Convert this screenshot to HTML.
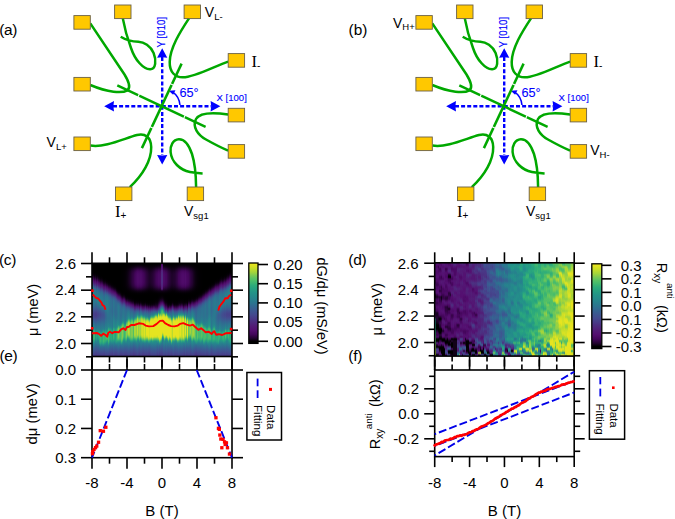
<!DOCTYPE html>
<html><head><meta charset="utf-8"><style>
html,body{margin:0;padding:0;background:#fff;width:675px;height:519px;overflow:hidden}
#w{position:relative;width:675px;height:519px}
#w i{position:absolute;display:block}
svg{position:absolute;left:0;top:0}
text{font-family:"Liberation Sans", sans-serif}
</style></head><body><div id="w">
<i style="left:92.0px;top:263.3px;width:1px;height:93.2px;background:linear-gradient(#000000 0px,#000000 2px,#000000 4px,#000000 6px,#010001 8px,#040006 10px,#100116 12px,#2b043b 14px,#4a0963 16px,#531874 18px,#4b3182 20px,#3f5390 22px,#2c748f 24px,#26858c 26px,#25898b 28px,#258a8b 30px,#25888c 32px,#26858c 34px,#27828d 36px,#287f8e 38px,#297c8e 40px,#2b778f 42px,#2f6d90 44px,#375f91 46px,#405190 48px,#45468d 50px,#46438b 52px,#44498e 54px,#3d5691 56px,#346591 58px,#2c748f 60px,#27808d 62px,#25898b 64px,#26a081 66px,#43b96e 68px,#44ba6d 70px,#44ba6d 72px,#43b96e 74px,#2eac7a 76px,#239488 78px,#248b8b 80px,#287e8e 82px,#2d7190 84px,#346491 86px,#3c5991 88px,#414f90 90px,#45458c 92px,#473f89 93px)"></i>
<i style="left:93.0px;top:263.3px;width:1px;height:93.2px;background:linear-gradient(#000000 0px,#000000 2px,#000000 4px,#000000 6px,#000001 8px,#030004 10px,#0b010f 12px,#22032f 14px,#43055a 16px,#541171 18px,#4f267c 20px,#45458c 22px,#336691 24px,#297b8e 26px,#27828d 28px,#26858c 30px,#26848d 32px,#27818d 34px,#287e8e 36px,#297b8e 38px,#2b778f 40px,#2e7190 42px,#326791 44px,#3a5a91 46px,#424d8f 48px,#46428b 50px,#473f89 52px,#45458c 54px,#405190 56px,#375f91 58px,#2f6d90 60px,#2a798f 62px,#27818d 64px,#248c8b 66px,#2dab7b 68px,#34b076 70px,#34b076 72px,#34b076 74px,#32af78 76px,#26a180 78px,#258a8b 80px,#297c8e 82px,#2f6e90 84px,#366191 86px,#3d5591 88px,#434c8f 90px,#46418a 92px,#483b87 93px)"></i>
<i style="left:94.0px;top:263.3px;width:1px;height:93.2px;background:linear-gradient(#000000 0px,#000000 2px,#000000 4px,#000000 6px,#000000 8px,#010001 10px,#050007 12px,#120219 14px,#2e043e 16px,#4b0964 18px,#521975 20px,#4b3182 22px,#3f5290 24px,#2f6e90 26px,#287d8e 28px,#27818d 30px,#27828d 32px,#27818d 34px,#287e8e 36px,#297a8f 38px,#2b768f 40px,#2e6f90 42px,#336691 44px,#3b5991 46px,#424c8f 48px,#46428b 50px,#473e89 52px,#45448c 54px,#405090 56px,#385e91 58px,#316b91 60px,#2b768f 62px,#287f8e 64px,#248b8b 66px,#32ae78 68px,#40b770 70px,#40b770 72px,#40b770 74px,#39b374 76px,#26a081 78px,#25878c 80px,#2a798f 82px,#306b91 84px,#385e91 86px,#3f5390 88px,#434a8e 90px,#473f8a 92px,#493986 93px)"></i>
<i style="left:95.0px;top:263.3px;width:1px;height:93.2px;background:linear-gradient(#000000 0px,#000000 2px,#000000 4px,#000000 6px,#000000 8px,#020002 10px,#07010a 12px,#190222 14px,#37044a 16px,#500c6b 18px,#521c76 20px,#493785 22px,#3d5591 24px,#306b91 26px,#2b768f 28px,#297a8f 30px,#297c8e 32px,#297c8e 34px,#297a8f 36px,#2b768f 38px,#2e7190 40px,#316a91 42px,#376091 44px,#3e5590 46px,#44498e 48px,#473e89 50px,#483b88 52px,#46418a 54px,#424c8f 56px,#3c5891 58px,#356491 60px,#2f6d90 62px,#2b758f 64px,#287d8e 66px,#248e8a 68px,#259c83 70px,#259c83 72px,#259b84 74px,#249189 76px,#27808d 78px,#297b8e 80px,#2f6e90 82px,#366291 84px,#3d5791 86px,#424e8f 88px,#45448c 90px,#483b87 92px,#4a3483 93px)"></i>
<i style="left:96.0px;top:263.3px;width:1px;height:93.2px;background:linear-gradient(#000000 0px,#000000 2px,#000000 4px,#000000 6px,#000000 8px,#000001 10px,#020003 12px,#0a010d 14px,#1f032b 16px,#3f0555 18px,#540f70 20px,#502279 22px,#473f89 24px,#3a5b91 26px,#2f6d90 28px,#2b768f 30px,#297a8f 32px,#297b8e 34px,#297a8f 36px,#2b778f 38px,#2d7190 40px,#316a91 42px,#376091 44px,#3e5590 46px,#44498e 48px,#473f89 50px,#483c88 52px,#46418b 54px,#424c8f 56px,#3c5891 58px,#356391 60px,#306c90 62px,#2c748f 64px,#297c8e 66px,#239587 68px,#2ba87d 70px,#2ba87c 72px,#2ba87c 74px,#26a081 76px,#248e8a 78px,#297c8e 80px,#2e6f90 82px,#366291 84px,#3d5791 86px,#424d8f 88px,#46438b 90px,#493a87 92px,#4b3383 93px)"></i>
<i style="left:97.0px;top:263.3px;width:1px;height:93.2px;background:linear-gradient(#000000 0px,#000000 2px,#000000 4px,#000000 6px,#000000 8px,#010001 10px,#040005 12px,#100116 14px,#2b033a 16px,#490862 18px,#531774 20px,#4c2d7f 22px,#424d8f 24px,#336691 26px,#2c7390 28px,#297a8f 30px,#287d8e 32px,#27808d 34px,#27808d 36px,#287e8e 38px,#2a798f 40px,#2d7290 42px,#336791 44px,#3a5a91 46px,#414f90 48px,#45458c 50px,#46428b 52px,#44478d 54px,#405190 56px,#395d91 58px,#326991 60px,#2d7290 62px,#297a8f 64px,#27818d 66px,#239289 68px,#259e82 70px,#259e82 72px,#259d83 74px,#239189 76px,#26838d 78px,#287e8e 80px,#2d7290 82px,#346591 84px,#3b5a91 86px,#405090 88px,#44478d 90px,#483d89 92px,#4a3785 93px)"></i>
<i style="left:98.0px;top:263.3px;width:1px;height:93.2px;background:linear-gradient(#000000 0px,#000000 2px,#000000 4px,#000000 6px,#000000 8px,#000000 10px,#010002 12px,#060109 14px,#17021f 16px,#350448 18px,#500c6b 20px,#521d77 22px,#493886 24px,#3d5691 26px,#306c91 28px,#2b768f 30px,#297b8e 32px,#287e8e 34px,#27808d 36px,#287f8e 38px,#297b8e 40px,#2c748f 42px,#316991 44px,#395d91 46px,#405090 48px,#44478d 50px,#45448c 52px,#44498e 54px,#3f5390 56px,#385e91 58px,#326991 60px,#2d7290 62px,#2a798f 64px,#27808d 66px,#239587 68px,#2ca97c 70px,#2ca97c 72px,#2ba87c 74px,#249b84 76px,#25868c 78px,#287f8e 80px,#2d7290 82px,#346691 84px,#3b5a91 86px,#405090 88px,#44478d 90px,#483d89 92px,#4a3785 93px)"></i>
<i style="left:99.0px;top:263.3px;width:1px;height:93.2px;background:linear-gradient(#000000 0px,#000000 2px,#000000 4px,#000000 6px,#000000 8px,#000000 10px,#010001 12px,#040005 14px,#100115 16px,#2b033a 18px,#4a0963 20px,#531874 22px,#4c2f81 24px,#414f90 26px,#326791 28px,#2c7490 30px,#297a8f 32px,#287d8e 34px,#27808d 36px,#27818d 38px,#287e8e 40px,#2a788f 42px,#2f6e90 44px,#376191 46px,#3e5490 48px,#434b8f 50px,#44488e 52px,#424d8f 54px,#3d5591 56px,#376091 58px,#316a91 60px,#2d7290 62px,#2a798f 64px,#27808d 66px,#248f89 68px,#2dab7b 70px,#30ad79 72px,#30ad79 74px,#30ad79 76px,#2dab7b 78px,#249a85 80px,#297b8e 82px,#2f6d90 84px,#376091 86px,#3e5490 88px,#434a8e 90px,#473f89 92px,#493886 93px)"></i>
<i style="left:100.0px;top:263.3px;width:1px;height:93.2px;background:linear-gradient(#000000 0px,#000000 2px,#000000 4px,#000000 6px,#000000 8px,#000000 10px,#000000 12px,#010002 14px,#07010a 16px,#1a0223 18px,#39044d 20px,#530d6e 22px,#502179 24px,#483d89 26px,#3b5991 28px,#306c91 30px,#2c7490 32px,#2a798f 34px,#297c8e 36px,#287e8e 38px,#287d8e 40px,#2a788f 42px,#2f6f90 44px,#366291 46px,#3d5591 48px,#424d8f 50px,#434a8e 52px,#424d8f 54px,#3d5591 56px,#375f91 58px,#326891 60px,#2f6f90 62px,#2c758f 64px,#297b8e 66px,#27828d 68px,#27a380 70px,#3ab473 72px,#3ab473 74px,#3ab473 76px,#3ab473 78px,#2ca97c 80px,#248d8a 82px,#2f6e90 84px,#376091 86px,#3e5490 88px,#44498e 90px,#473e89 92px,#493785 93px)"></i>
<i style="left:101.0px;top:263.3px;width:1px;height:93.2px;background:linear-gradient(#000000 0px,#000000 2px,#000000 4px,#000000 6px,#000000 8px,#000000 10px,#000000 12px,#020002 14px,#08010b 16px,#1b0225 18px,#3c0550 20px,#540e70 22px,#50237a 24px,#47408a 26px,#3a5c91 28px,#306d90 30px,#2c7490 32px,#2a788f 34px,#297c8e 36px,#287e8e 38px,#287e8e 40px,#297b8e 42px,#2c7390 44px,#336791 46px,#3b5a91 48px,#405190 50px,#414e8f 52px,#405190 54px,#3c5891 56px,#366291 58px,#316a91 60px,#2e7190 62px,#2b778f 64px,#297c8e 66px,#26838d 68px,#259f82 70px,#2eac7a 72px,#2eac7a 74px,#2eac7a 76px,#2eac7a 78px,#26a081 80px,#26848d 82px,#2f6e90 84px,#376091 86px,#3e5490 88px,#434a8e 90px,#473f89 92px,#493886 93px)"></i>
<i style="left:102.0px;top:263.3px;width:1px;height:93.2px;background:linear-gradient(#000000 0px,#000000 2px,#000000 4px,#000000 6px,#000000 8px,#000000 10px,#000000 12px,#010001 14px,#050007 16px,#14021c 18px,#320444 20px,#4f0b6a 22px,#521d77 24px,#493986 26px,#3d5691 28px,#316a91 30px,#2d7290 32px,#2b768f 34px,#2a798f 36px,#297c8e 38px,#287e8e 40px,#297c8e 42px,#2b768f 44px,#306b91 46px,#385f91 48px,#3e5591 50px,#405190 52px,#3e5490 54px,#3a5b91 56px,#356491 58px,#306c91 60px,#2d7390 62px,#2a798f 64px,#27808d 66px,#248f89 68px,#2caa7b 70px,#2eac7a 72px,#2eac7a 74px,#2eac7a 76px,#2eac7a 78px,#28a47f 80px,#258a8b 82px,#2e6f90 84px,#366191 86px,#3e5591 88px,#434a8f 90px,#473f89 92px,#493886 93px)"></i>
<i style="left:103.0px;top:263.3px;width:1px;height:93.2px;background:linear-gradient(#000000 0px,#000000 2px,#000000 4px,#000000 6px,#000000 8px,#000000 10px,#000000 12px,#000000 14px,#010002 16px,#07010a 18px,#1a0224 20px,#3a044f 22px,#540e70 24px,#50227a 26px,#47408a 28px,#3b5a91 30px,#316a91 32px,#2e7090 34px,#2c7490 36px,#2a778f 38px,#2a798f 40px,#2a798f 42px,#2c758f 44px,#306c91 46px,#366191 48px,#3c5791 50px,#3e5390 52px,#3e5591 54px,#3a5b91 56px,#356391 58px,#316a91 60px,#2d7190 62px,#2a788f 64px,#287f8e 66px,#259f82 68px,#40b76f 70px,#41b86f 72px,#41b86f 74px,#41b86f 76px,#41b86f 78px,#2dab7b 80px,#248d8a 82px,#306d90 84px,#385f91 86px,#3f5390 88px,#44488e 90px,#483d88 92px,#4a3685 93px)"></i>
<i style="left:104.0px;top:263.3px;width:1px;height:93.2px;background:linear-gradient(#000000 0px,#000000 2px,#000000 4px,#000000 6px,#000000 8px,#000000 10px,#000000 12px,#000000 14px,#010001 16px,#050008 18px,#15021d 20px,#340446 22px,#500c6b 24px,#511f77 26px,#483b87 28px,#3d5691 30px,#326791 32px,#2f6e90 34px,#2d7190 36px,#2c748f 38px,#2b778f 40px,#2a778f 42px,#2c758f 44px,#2f6e90 46px,#346591 48px,#3a5c91 50px,#3d5791 52px,#3c5891 54px,#395d91 56px,#356391 58px,#316a91 60px,#2e7090 62px,#2b768f 64px,#297c8e 66px,#248f89 68px,#31ae78 70px,#39b374 72px,#39b374 74px,#39b374 76px,#37b275 78px,#26a280 80px,#26848d 82px,#316b91 84px,#395d91 86px,#405190 88px,#44478d 90px,#483c88 92px,#4a3584 93px)"></i>
<i style="left:105.0px;top:263.3px;width:1px;height:93.2px;background:linear-gradient(#000000 0px,#000000 2px,#000000 4px,#000000 6px,#000000 8px,#000000 10px,#000000 12px,#000000 14px,#010002 16px,#060108 18px,#180220 20px,#39044c 22px,#540e70 24px,#4f257b 26px,#45448c 28px,#376091 30px,#2d7190 32px,#2a788f 34px,#297a8f 36px,#297c8e 38px,#287e8e 40px,#287f8e 42px,#287e8e 44px,#297a8f 46px,#2d7290 48px,#316a91 50px,#346591 52px,#346591 54px,#326991 56px,#2f6f90 58px,#2b758f 60px,#297b8e 62px,#27818d 64px,#25888c 66px,#259f82 68px,#3eb671 70px,#3eb670 72px,#3eb670 74px,#3eb670 76px,#32af77 78px,#249985 80px,#287f8e 82px,#2d7190 84px,#356491 86px,#3c5791 88px,#424d8f 90px,#46428b 92px,#483c88 93px)"></i>
<i style="left:106.0px;top:263.3px;width:1px;height:93.2px;background:linear-gradient(#000000 0px,#000000 2px,#000000 4px,#000000 6px,#000000 8px,#000000 10px,#000000 12px,#000000 14px,#000001 16px,#020003 18px,#0c0110 20px,#260333 22px,#470760 24px,#531874 26px,#4b3282 28px,#3f5290 30px,#316a91 32px,#2b758f 34px,#2a798f 36px,#297b8e 38px,#297c8e 40px,#287d8e 42px,#287d8e 44px,#297b8e 46px,#2b768f 48px,#2e6f90 50px,#316b91 52px,#316a91 54px,#306c90 56px,#2e7190 58px,#2b768f 60px,#297a8f 62px,#287f8e 64px,#26858c 66px,#239189 68px,#3db671 70px,#4bbd6a 72px,#4bbd6a 74px,#44ba6d 76px,#2aa77d 78px,#248c8a 80px,#287d8e 82px,#2e6f90 84px,#366291 86px,#3d5691 88px,#424c8f 90px,#46428b 92px,#483c88 93px)"></i>
<i style="left:107.0px;top:263.3px;width:1px;height:93.2px;background:linear-gradient(#000000 0px,#000000 2px,#000000 4px,#000000 6px,#000000 8px,#000000 10px,#000000 12px,#000000 14px,#000000 16px,#020002 18px,#09010c 20px,#20032d 22px,#44065c 24px,#531673 26px,#4c2f81 28px,#405090 30px,#316a91 32px,#2a778f 34px,#297b8e 36px,#287d8e 38px,#287e8e 40px,#287f8e 42px,#287f8e 44px,#287e8e 46px,#297b8e 48px,#2b778f 50px,#2c7390 52px,#2d7290 54px,#2c7390 56px,#2b778f 58px,#297b8e 60px,#287f8e 62px,#26848d 64px,#258a8b 66px,#26a280 68px,#48bc6b 70px,#4abc6a 72px,#4abc6a 74px,#3db571 76px,#259f82 78px,#248b8b 80px,#287e8e 82px,#2e7190 84px,#356491 86px,#3c5891 88px,#414e8f 90px,#45448c 92px,#473e89 93px)"></i>
<i style="left:108.0px;top:263.3px;width:1px;height:93.2px;background:linear-gradient(#000000 0px,#000000 2px,#000000 4px,#000000 6px,#000000 8px,#000000 10px,#000000 12px,#000000 14px,#000000 16px,#010001 18px,#040006 20px,#110118 22px,#300441 24px,#4f0c6a 26px,#512078 28px,#473f89 30px,#3a5c91 32px,#2f6f90 34px,#2b768f 36px,#2a788f 38px,#2a798f 40px,#297a8f 42px,#297a8f 44px,#2a798f 46px,#2a788f 48px,#2b768f 50px,#2c7490 52px,#2c7390 54px,#2c748f 56px,#2a778f 58px,#297c8e 60px,#27828d 62px,#25888c 64px,#2caa7b 66px,#47bc6b 68px,#47bc6b 70px,#47bc6b 72px,#47bc6b 74px,#47bc6b 76px,#45ba6d 78px,#2ba97c 80px,#25888c 82px,#2c7390 84px,#346591 86px,#3c5891 88px,#424d8f 90px,#46428b 92px,#483c88 93px)"></i>
<i style="left:109.0px;top:263.3px;width:1px;height:93.2px;background:linear-gradient(#000000 0px,#000000 2px,#000000 4px,#000000 6px,#000000 8px,#000000 10px,#000000 12px,#000000 14px,#000000 16px,#000001 18px,#030004 20px,#0d0111 22px,#280336 24px,#490862 26px,#521a75 28px,#4a3584 30px,#3f5390 32px,#326891 34px,#2e7090 36px,#2d7390 38px,#2c7390 40px,#2c7490 42px,#2c7390 44px,#2c7390 46px,#2d7290 48px,#2d7290 50px,#2d7290 52px,#2d7290 54px,#2c7390 56px,#2b768f 58px,#2a798f 60px,#287e8e 62px,#26848d 64px,#26a180 66px,#33af77 68px,#33af77 70px,#33af77 72px,#33af77 74px,#33af77 76px,#29a57e 78px,#248f89 80px,#2a798f 82px,#306b91 84px,#385e91 86px,#3f5390 88px,#44498e 90px,#473e89 92px,#493886 93px)"></i>
<i style="left:110.0px;top:263.3px;width:1px;height:93.2px;background:linear-gradient(#000000 0px,#000000 2px,#000000 4px,#000000 6px,#000000 8px,#000000 10px,#000000 12px,#000000 14px,#000000 16px,#000000 18px,#020002 20px,#09010c 22px,#20032c 24px,#44065b 26px,#531573 28px,#4c2e80 30px,#424d8f 32px,#356391 34px,#2f6d90 36px,#2e7090 38px,#2d7190 40px,#2d7190 42px,#2e7190 44px,#2e7090 46px,#2e7090 48px,#2e7190 50px,#2d7290 52px,#2c7490 54px,#2b758f 56px,#2a778f 58px,#2a798f 60px,#287d8e 62px,#27828d 64px,#249a84 66px,#2caa7b 68px,#2caa7b 70px,#2caa7b 72px,#2caa7b 74px,#2aa67d 76px,#249687 78px,#27828d 80px,#2c758f 82px,#326791 84px,#3a5b91 86px,#405190 88px,#44478d 90px,#483d88 92px,#4a3685 93px)"></i>
<i style="left:111.0px;top:263.3px;width:1px;height:93.2px;background:linear-gradient(#000000 0px,#000000 2px,#000000 4px,#000000 6px,#000000 8px,#000000 10px,#000000 12px,#000000 14px,#000000 16px,#000000 18px,#010001 20px,#040006 22px,#120219 24px,#320443 26px,#500c6b 28px,#502179 30px,#473f8a 32px,#3b5991 34px,#326991 36px,#2f6e90 38px,#2e6f90 40px,#2e7090 42px,#2f6f90 44px,#2f6e90 46px,#2f6e90 48px,#2e6f90 50px,#2d7290 52px,#2c748f 54px,#2b778f 56px,#2a788f 58px,#2a798f 60px,#297c8e 62px,#27808d 64px,#249089 66px,#2ca97c 68px,#2eac7a 70px,#2eac7a 72px,#2eac7a 74px,#2dab7b 76px,#259d83 78px,#25878c 80px,#2c758f 82px,#336791 84px,#3a5b91 86px,#405090 88px,#45468d 90px,#483c88 92px,#4a3584 93px)"></i>
<i style="left:112.0px;top:263.3px;width:1px;height:93.2px;background:linear-gradient(#000000 0px,#000000 2px,#000000 4px,#000000 6px,#000000 8px,#000000 10px,#000000 12px,#000000 14px,#000000 16px,#000000 18px,#000001 20px,#030004 22px,#0e0113 24px,#2a033a 26px,#4b0965 28px,#521b76 30px,#493785 32px,#3f5390 34px,#356391 36px,#326991 38px,#316a91 40px,#316b91 42px,#316a91 44px,#326991 46px,#326991 48px,#316a91 50px,#306c90 52px,#2e7090 54px,#2c7390 56px,#2b758f 58px,#2b768f 60px,#2a778f 62px,#297a8f 64px,#287e8e 66px,#249786 68px,#26a180 70px,#26a180 72px,#26a180 74px,#26a180 76px,#249a85 78px,#25888c 80px,#2e7190 82px,#356491 84px,#3c5791 86px,#424d8f 88px,#46438b 90px,#493986 92px,#4b3282 93px)"></i>
<i style="left:113.0px;top:263.3px;width:1px;height:93.2px;background:linear-gradient(#000000 0px,#000000 2px,#000000 4px,#000000 6px,#000000 8px,#000000 10px,#000000 12px,#000000 14px,#000000 16px,#000000 18px,#000000 20px,#010002 22px,#08010b 24px,#1e032a 26px,#44055b 28px,#531673 30px,#4b3182 32px,#405190 34px,#326891 36px,#2d7290 38px,#2b768f 40px,#2b768f 42px,#2b768f 44px,#2c758f 46px,#2c7490 48px,#2c758f 50px,#2a788f 52px,#297c8e 54px,#27808d 56px,#26848d 58px,#25878c 60px,#258a8b 62px,#248c8a 64px,#2dab7b 66px,#3eb671 68px,#3eb671 70px,#3eb671 72px,#3eb671 74px,#33af77 76px,#249b84 78px,#25878c 80px,#297a8f 82px,#306c90 84px,#375f91 86px,#3e5490 88px,#434b8f 90px,#46418a 92px,#483a87 93px)"></i>
<i style="left:114.0px;top:263.3px;width:1px;height:93.2px;background:linear-gradient(#000000 0px,#000000 2px,#000000 4px,#000000 6px,#000000 8px,#000000 10px,#000000 12px,#000000 14px,#000000 16px,#000000 18px,#000000 20px,#010001 22px,#050007 24px,#16021e 26px,#39044c 28px,#541071 30px,#4e287d 32px,#44488e 34px,#376091 36px,#306c91 38px,#2e7090 40px,#2e7190 42px,#2e7090 44px,#2e6f90 46px,#2f6e90 48px,#2f6f90 50px,#2d7190 52px,#2b768f 54px,#297b8e 56px,#287f8e 58px,#26838d 60px,#25878c 62px,#25898b 64px,#26a180 66px,#2dab7b 68px,#2daa7b 70px,#2daa7b 72px,#2daa7b 74px,#2aa67d 76px,#239687 78px,#27818d 80px,#2c758f 82px,#326791 84px,#3a5b91 86px,#405190 88px,#44478d 90px,#483d88 92px,#4a3685 93px)"></i>
<i style="left:115.0px;top:263.3px;width:1px;height:93.2px;background:linear-gradient(#000000 0px,#000000 2px,#000000 4px,#000000 6px,#000000 8px,#000000 10px,#000000 12px,#000000 14px,#000000 16px,#000000 18px,#000000 20px,#010001 22px,#030005 24px,#100116 26px,#2e043f 28px,#4f0b69 30px,#502179 32px,#473f89 34px,#3c5891 36px,#336691 38px,#306b91 40px,#306c90 42px,#306c90 44px,#306b91 46px,#316b91 48px,#316b91 50px,#306c90 52px,#2e7090 54px,#2b758f 56px,#297b8e 58px,#287f8e 60px,#26838d 62px,#25868c 64px,#239388 66px,#26a280 68px,#26a280 70px,#26a180 72px,#26a180 74px,#26a180 76px,#259c83 78px,#248b8b 80px,#2c7490 82px,#336691 84px,#3b5a91 86px,#414f90 88px,#45458c 90px,#483b87 92px,#4a3483 93px)"></i>
<i style="left:116.0px;top:263.3px;width:1px;height:93.2px;background:linear-gradient(#000000 0px,#000000 2px,#000000 4px,#000000 6px,#000000 8px,#000000 10px,#000000 12px,#000000 14px,#000000 16px,#000000 18px,#000000 20px,#000000 22px,#010001 24px,#050007 26px,#16021e 28px,#39044d 30px,#541071 32px,#4e297d 34px,#44498e 36px,#385f91 38px,#316a91 40px,#2f6d90 42px,#2f6e90 44px,#2f6e90 46px,#306d90 48px,#306d90 50px,#2f6e90 52px,#2e7190 54px,#2b768f 56px,#297c8e 58px,#27828d 60px,#25878c 62px,#248a8b 64px,#26a280 66px,#34b076 68px,#34b077 70px,#33af77 72px,#33af77 74px,#33af77 76px,#2aa77d 78px,#239189 80px,#2b768f 82px,#326891 84px,#3a5b91 86px,#405090 88px,#45468d 90px,#483c88 92px,#4a3584 93px)"></i>
<i style="left:117.0px;top:263.3px;width:1px;height:93.2px;background:linear-gradient(#000000 0px,#000000 2px,#000000 4px,#000000 6px,#000000 8px,#000000 10px,#000000 12px,#000000 14px,#000000 16px,#000000 18px,#000000 20px,#000000 22px,#000000 24px,#010002 26px,#08010b 28px,#20032c 30px,#46065d 32px,#521975 34px,#4a3685 36px,#3e5490 38px,#326991 40px,#2e7190 42px,#2d7390 44px,#2c7390 46px,#2d7390 48px,#2d7390 50px,#2c7390 52px,#2b768f 54px,#297a8f 56px,#27818d 58px,#25888c 60px,#248e8a 62px,#259c83 64px,#4ebe68 66px,#5bc263 68px,#5ac263 70px,#59c263 72px,#59c263 74px,#4bbd6a 76px,#29a67d 78px,#25898b 80px,#2a798f 82px,#316b91 84px,#385e91 86px,#3f5390 88px,#44498e 90px,#473f89 92px,#493986 93px)"></i>
<i style="left:118.0px;top:263.3px;width:1px;height:93.2px;background:linear-gradient(#000000 0px,#000000 2px,#000000 4px,#000000 6px,#000000 8px,#000000 10px,#000000 12px,#000000 14px,#000000 16px,#000000 18px,#000000 20px,#000000 22px,#000000 24px,#010001 26px,#040005 28px,#120218 30px,#340446 32px,#540f70 34px,#4d2b7e 36px,#424d8f 38px,#336791 40px,#2c758f 42px,#2a798f 44px,#297a8f 46px,#297a8f 48px,#297a8f 50px,#297a8f 52px,#297b8e 54px,#287d8e 56px,#27818d 58px,#25878c 60px,#248d8a 62px,#45ba6d 64px,#86cc4d 66px,#89cd4b 68px,#89cd4b 70px,#89cd4b 72px,#85cc4d 74px,#57c164 76px,#28a57e 78px,#248a8b 80px,#287e8e 82px,#2e7090 84px,#356391 86px,#3c5791 88px,#424e8f 90px,#45448c 92px,#483d89 93px)"></i>
<i style="left:119.0px;top:263.3px;width:1px;height:93.2px;background:linear-gradient(#000000 0px,#000000 2px,#000000 4px,#000000 6px,#000000 8px,#000000 10px,#000000 12px,#000000 14px,#000000 16px,#000000 18px,#000000 20px,#000000 22px,#000000 24px,#000001 26px,#020003 28px,#0d0111 30px,#2a033a 32px,#4e0b68 34px,#502279 36px,#46438b 38px,#385e91 40px,#2f6d90 42px,#2d7390 44px,#2c748f 46px,#2c748f 48px,#2c748f 50px,#2c758f 52px,#2b768f 54px,#2a788f 56px,#297c8e 58px,#27818d 60px,#25878c 62px,#30ad79 64px,#59c263 66px,#5ac263 68px,#5ac263 70px,#5ac263 72px,#5ac263 74px,#46bb6c 76px,#26a180 78px,#25868c 80px,#2a798f 82px,#316b91 84px,#385e91 86px,#3e5390 88px,#434a8e 90px,#47408a 92px,#493987 93px)"></i>
<i style="left:120.0px;top:263.3px;width:1px;height:93.2px;background:linear-gradient(#000000 0px,#000000 2px,#000000 4px,#000000 6px,#000000 8px,#000000 10px,#000001 12px,#000001 14px,#000001 16px,#000001 18px,#000001 20px,#000000 22px,#000000 24px,#000000 26px,#010001 28px,#060108 30px,#1a0223 32px,#3f0555 34px,#531473 36px,#4b3081 38px,#414f90 40px,#356391 42px,#316b91 44px,#2f6e90 46px,#2f6f90 48px,#2f6f90 50px,#2e6f90 52px,#2e7090 54px,#2c7390 56px,#2a788f 58px,#287d8e 60px,#248e8a 62px,#36b175 64px,#4dbe69 66px,#4dbe69 68px,#4dbe69 70px,#4dbe69 72px,#4dbe69 74px,#44ba6d 76px,#29a57e 78px,#258a8b 80px,#2c748f 82px,#336791 84px,#3b5a91 86px,#405090 88px,#45468d 90px,#483c88 92px,#4a3584 93px)"></i>
<i style="left:121.0px;top:263.3px;width:1px;height:93.2px;background:linear-gradient(#000000 0px,#000000 2px,#000000 4px,#000000 6px,#010001 8px,#010001 10px,#010001 12px,#010001 14px,#010001 16px,#010001 18px,#010001 20px,#010001 22px,#000001 24px,#000000 26px,#000000 28px,#020002 30px,#09010d 32px,#240331 34px,#480861 36px,#521c76 38px,#483b88 40px,#3d5691 42px,#336691 44px,#306c91 46px,#2f6e90 48px,#2f6e90 50px,#2e6f90 52px,#2d7190 54px,#2c758f 56px,#297a8f 58px,#27808d 60px,#2ba97c 62px,#5dc361 64px,#66c55d 66px,#66c55d 68px,#66c55d 70px,#66c55d 72px,#66c55d 74px,#65c55e 76px,#4abc6a 78px,#26a081 80px,#2a798f 82px,#326991 84px,#3a5c91 86px,#405090 88px,#45468d 90px,#483c88 92px,#4a3584 93px)"></i>
<i style="left:122.0px;top:263.3px;width:1px;height:93.2px;background:linear-gradient(#000000 0px,#000000 2px,#000000 4px,#010001 6px,#010001 8px,#010002 10px,#010002 12px,#010002 14px,#010002 16px,#010002 18px,#010002 20px,#010001 22px,#010001 24px,#010001 26px,#000000 28px,#010001 30px,#050006 32px,#16021e 34px,#3b044f 36px,#531372 38px,#4b3081 40px,#405090 42px,#346591 44px,#2f6e90 46px,#2d7190 48px,#2c7390 50px,#2c758f 52px,#2a788f 54px,#297c8e 56px,#27828d 58px,#259d83 60px,#5bc362 62px,#84cc4e 64px,#84cc4e 66px,#84cc4e 68px,#84cc4e 70px,#84cc4e 72px,#84cc4e 74px,#67c55d 76px,#32af77 78px,#248d8a 80px,#2a788f 82px,#316a91 84px,#395d91 86px,#3f5290 88px,#44488e 90px,#473e89 92px,#493886 93px)"></i>
<i style="left:123.0px;top:263.3px;width:1px;height:93.2px;background:linear-gradient(#000000 0px,#000000 2px,#000001 4px,#010001 6px,#020002 8px,#020003 10px,#020003 12px,#020003 14px,#020003 16px,#020003 18px,#020003 20px,#020003 22px,#010002 24px,#010001 26px,#000001 28px,#010001 30px,#060108 32px,#1b0225 34px,#43055a 36px,#531874 38px,#493886 40px,#3d5691 42px,#316a91 44px,#2d7290 46px,#2c758f 48px,#2b768f 50px,#2a788f 52px,#297b8e 54px,#27808d 56px,#26858c 58px,#26a181 60px,#51bf67 62px,#5ac263 64px,#5ac263 66px,#5ac263 68px,#5ac263 70px,#5ac263 72px,#4fbe68 74px,#2ba97c 76px,#248c8a 78px,#26838d 80px,#2b768f 82px,#326991 84px,#395d91 86px,#3f5390 88px,#434a8e 90px,#47408a 92px,#493987 93px)"></i>
<i style="left:124.0px;top:263.3px;width:1px;height:93.2px;background:linear-gradient(#000000 0px,#000000 2px,#010001 4px,#020002 6px,#030003 8px,#030004 10px,#030005 12px,#030005 14px,#030005 16px,#030005 18px,#030004 20px,#030004 22px,#020003 24px,#010002 26px,#010001 28px,#010001 30px,#050007 32px,#180220 34px,#3e0554 36px,#531573 38px,#4a3483 40px,#3f5290 42px,#336691 44px,#2f6e90 46px,#2d7190 48px,#2d7390 50px,#2c7490 52px,#2b768f 54px,#297a8f 56px,#287e8e 58px,#26848d 60px,#27a37f 62px,#3cb572 64px,#3cb572 66px,#3cb572 68px,#3cb572 70px,#3cb572 72px,#38b374 74px,#26a380 76px,#248b8b 78px,#27808d 80px,#2c7390 82px,#336691 84px,#3b5a91 86px,#405190 88px,#44478d 90px,#483d89 92px,#493785 93px)"></i>
<i style="left:125.0px;top:263.3px;width:1px;height:93.2px;background:linear-gradient(#000000 0px,#000000 2px,#010002 4px,#030003 6px,#040005 8px,#050007 10px,#050007 12px,#050007 14px,#050007 16px,#050007 18px,#050007 20px,#050006 22px,#040005 24px,#020003 26px,#010001 28px,#000000 30px,#010002 32px,#07010a 34px,#1e0329 36px,#46065d 38px,#521a75 40px,#483b87 42px,#3d5691 44px,#336691 46px,#306c90 48px,#2f6f90 50px,#2e7090 52px,#2d7290 54px,#2b758f 56px,#297a8f 58px,#27808d 60px,#259c84 62px,#46bb6c 64px,#53c066 66px,#53c066 68px,#53c066 70px,#53c066 72px,#52bf67 74px,#39b373 76px,#249985 78px,#287f8e 80px,#2d7290 82px,#346591 84px,#3c5991 86px,#414f90 88px,#45458c 90px,#483c88 92px,#4a3584 93px)"></i>
<i style="left:126.0px;top:263.3px;width:1px;height:93.2px;background:linear-gradient(#000000 0px,#000001 2px,#020002 4px,#040005 6px,#060108 8px,#07010a 10px,#08010b 12px,#08010b 14px,#08010b 16px,#08010b 18px,#08010b 20px,#07010a 22px,#060008 24px,#030004 26px,#010002 28px,#000000 30px,#000001 32px,#020003 34px,#0d0112 36px,#2d043e 38px,#520d6d 40px,#4e287d 42px,#434a8e 44px,#376091 46px,#306c90 48px,#2d7190 50px,#2b758f 52px,#2a798f 54px,#287f8e 56px,#248c8b 58px,#40b76f 60px,#83cc4f 62px,#89cd4b 64px,#89cd4b 66px,#89cd4b 68px,#89cd4b 70px,#89cd4b 72px,#7ac954 74px,#45ba6d 76px,#249985 78px,#27818d 80px,#2c7490 82px,#336691 84px,#3b5a91 86px,#405090 88px,#44478d 90px,#483d89 92px,#4a3785 93px)"></i>
<i style="left:127.0px;top:263.3px;width:1px;height:93.2px;background:linear-gradient(#000000 0px,#010001 2px,#030004 4px,#060108 6px,#09010d 8px,#0b0110 10px,#0c0111 12px,#0c0111 14px,#0d0111 16px,#0c0111 18px,#0c0111 20px,#0b010f 22px,#08010c 24px,#050007 26px,#020003 28px,#000001 30px,#000001 32px,#020003 34px,#0d0112 36px,#2e043f 38px,#530e6f 40px,#4d2b7e 42px,#424d8f 44px,#346591 46px,#2d7190 48px,#2a778f 50px,#297b8e 52px,#27818d 54px,#25878c 56px,#2ca97c 58px,#73c857 60px,#8ece48 62px,#8ece48 64px,#8ece48 66px,#8ece48 68px,#8ece48 70px,#73c857 72px,#3ab373 74px,#239189 76px,#26858c 78px,#27808d 80px,#2c7390 82px,#336791 84px,#3a5c91 86px,#3f5290 88px,#434a8e 90px,#47408a 92px,#493a87 93px)"></i>
<i style="left:128.0px;top:263.3px;width:1px;height:93.2px;background:linear-gradient(#000000 0px,#010001 2px,#040005 4px,#09010c 6px,#0e0113 8px,#110117 10px,#120219 12px,#13021a 14px,#13021a 16px,#13021a 18px,#120219 20px,#100116 22px,#0d0111 24px,#07010a 26px,#030004 28px,#010001 30px,#000000 32px,#010002 34px,#08010b 36px,#22032e 38px,#4a0963 40px,#502279 42px,#44478d 44px,#356391 46px,#2c748f 48px,#297c8e 50px,#27828d 52px,#25898c 54px,#259d83 56px,#72c758 58px,#bcdb2e 60px,#bedb2d 62px,#bedb2d 64px,#bedb2d 66px,#bedb2d 68px,#bedb2d 70px,#9fd33d 72px,#4abd6a 74px,#239687 76px,#258a8b 78px,#26848d 80px,#2a788f 82px,#306c91 84px,#376091 86px,#3d5691 88px,#424d8f 90px,#46438b 92px,#483d89 93px)"></i>
<i style="left:129.0px;top:263.3px;width:1px;height:93.2px;background:linear-gradient(#000000 0px,#010002 2px,#050007 4px,#0c0111 6px,#13021a 8px,#170220 10px,#190222 12px,#190223 14px,#190223 16px,#190222 18px,#190222 20px,#16021e 22px,#110117 24px,#0a010e 26px,#040005 28px,#010001 30px,#000000 32px,#010001 34px,#060108 36px,#1c0226 38px,#45065d 40px,#521d76 42px,#46418a 44px,#395d91 46px,#2e6f90 48px,#2a788f 50px,#287e8e 52px,#26858c 54px,#249985 56px,#5cc362 58px,#a4d53b 60px,#a5d53a 62px,#a5d53a 64px,#a5d53a 66px,#a5d53a 68px,#a5d53a 70px,#9fd33e 72px,#63c45f 74px,#2aa67d 76px,#25888c 78px,#26838d 80px,#2b768f 82px,#316991 84px,#395e91 86px,#3e5390 88px,#434b8f 90px,#46418a 92px,#483a87 93px)"></i>
<i style="left:130.0px;top:263.3px;width:1px;height:93.2px;background:linear-gradient(#000000 0px,#020002 2px,#070109 4px,#0f0115 6px,#180221 8px,#1d0228 10px,#1f032b 12px,#20032b 14px,#20032b 16px,#20032b 18px,#1f032a 20px,#1c0226 22px,#15021d 24px,#0d0111 26px,#050007 28px,#010001 30px,#000000 32px,#010001 34px,#040005 36px,#14021c 38px,#3b044f 40px,#531573 42px,#4a3484 44px,#3f5290 46px,#356491 48px,#2f6d90 50px,#2c7490 52px,#297a8f 54px,#25888c 56px,#33af77 58px,#67c55d 60px,#6dc65a 62px,#6dc65a 64px,#6dc65a 66px,#6dc65a 68px,#6dc65a 70px,#6dc65a 72px,#65c55e 74px,#3fb670 76px,#249886 78px,#287d8e 80px,#2e7090 82px,#356391 84px,#3d5791 86px,#424e8f 88px,#45448c 90px,#493a87 92px,#4a3483 93px)"></i>
<i style="left:131.0px;top:263.3px;width:1px;height:93.2px;background:linear-gradient(#000000 0px,#020003 2px,#09010c 4px,#14021c 6px,#20032b 8px,#260333 10px,#280336 12px,#280337 14px,#280337 16px,#280337 18px,#270336 20px,#240332 22px,#1c0227 24px,#110117 26px,#060109 28px,#010002 30px,#000000 32px,#000001 34px,#030004 36px,#0e0113 38px,#300441 40px,#540f70 42px,#4c2e80 44px,#414f90 46px,#346491 48px,#2e7090 50px,#2a788f 52px,#287f8e 54px,#259d83 56px,#59c264 58px,#83cc4f 60px,#83cc4f 62px,#83cc4f 64px,#83cc4f 66px,#83cc4f 68px,#83cc4f 70px,#83cc4f 72px,#7bc953 74px,#4bbd6a 76px,#259d83 78px,#27808d 80px,#2d7390 82px,#346591 84px,#3b5991 86px,#414f90 88px,#45468d 90px,#483c88 92px,#4a3584 93px)"></i>
<i style="left:132.0px;top:263.3px;width:1px;height:93.2px;background:linear-gradient(#000000 0px,#030004 2px,#0b0110 4px,#190223 6px,#260334 8px,#2d043d 10px,#2f0440 12px,#300441 14px,#300441 16px,#300441 18px,#2f0440 20px,#2b043b 22px,#240331 24px,#15021d 26px,#08010b 28px,#020002 30px,#000000 32px,#000000 34px,#020002 36px,#0a010e 38px,#280336 40px,#4f0b69 42px,#4e277c 44px,#434a8e 46px,#376191 48px,#2f6e90 50px,#2a778f 52px,#287e8e 54px,#259c83 56px,#57c164 58px,#82cb4f 60px,#82cb4f 62px,#82cb4f 64px,#82cb4f 66px,#82cb4f 68px,#82cb4f 70px,#82cb4f 72px,#77c855 74px,#45bb6c 76px,#249a85 78px,#287f8e 80px,#2d7190 82px,#356491 84px,#3c5891 86px,#414f90 88px,#45458c 90px,#483b88 92px,#4a3584 93px)"></i>
<i style="left:133.0px;top:263.3px;width:1px;height:93.2px;background:linear-gradient(#000001 0px,#030005 2px,#0d0112 4px,#1e0328 6px,#2b033a 8px,#320444 10px,#350448 12px,#360449 14px,#360449 16px,#360449 18px,#350447 20px,#310442 22px,#280336 24px,#180221 26px,#09010d 28px,#020003 30px,#000000 32px,#000000 34px,#010002 36px,#08010c 38px,#240331 40px,#4b0965 42px,#502279 44px,#46438b 46px,#3c5991 48px,#346591 50px,#306d90 52px,#2c748f 54px,#27828d 56px,#29a67e 58px,#4dbe69 60px,#52bf67 62px,#52bf67 64px,#52bf67 66px,#52bf67 68px,#52bf67 70px,#52bf67 72px,#4bbd6a 74px,#2caa7b 76px,#248f8a 78px,#2a778f 80px,#316991 82px,#395d91 84px,#3f5290 86px,#44498e 88px,#47408a 90px,#4a3684 92px,#4c2f81 93px)"></i>
<i style="left:134.0px;top:263.3px;width:1px;height:93.2px;background:linear-gradient(#010001 0px,#040006 2px,#100116 4px,#240331 6px,#320444 8px,#3b0550 10px,#3f0555 12px,#400556 14px,#400556 16px,#400556 18px,#3e0554 20px,#39044d 22px,#2e043f 24px,#1e0328 26px,#0b0110 28px,#020003 30px,#000000 32px,#000000 34px,#000000 36px,#020003 38px,#0c0110 40px,#2c043b 42px,#520d6e 44px,#4d2b7f 46px,#424d8f 48px,#356391 50px,#2e7090 52px,#297a8f 54px,#259f82 56px,#6bc65b 58px,#abd637 60px,#abd737 62px,#abd737 64px,#abd737 66px,#abd737 68px,#abd737 70px,#aad638 72px,#79c955 74px,#33af77 76px,#248c8a 78px,#297a8f 80px,#306c91 82px,#385f91 84px,#3e5590 86px,#434c8f 88px,#46428b 90px,#493886 92px,#4b3282 93px)"></i>
<i style="left:135.0px;top:263.3px;width:1px;height:93.2px;background:linear-gradient(#010001 0px,#050007 2px,#13021a 4px,#280337 6px,#39044d 8px,#43055b 10px,#45065d 12px,#46075e 14px,#46075e 16px,#46075e 18px,#45065d 20px,#410558 22px,#350447 24px,#23032f 26px,#0d0112 28px,#030004 30px,#000000 32px,#000000 34px,#000000 36px,#020003 38px,#0b010f 40px,#2b043b 42px,#530d6e 44px,#4c2d7f 46px,#405090 48px,#336791 50px,#2c758f 52px,#26858c 54px,#36b175 56px,#8ecf48 58px,#aad637 60px,#aad637 62px,#aad637 64px,#aad637 66px,#aad637 68px,#aad637 70px,#aad637 72px,#84cc4e 74px,#3db571 76px,#249189 78px,#287d8e 80px,#2f6f90 82px,#366291 84px,#3d5791 86px,#424e8f 88px,#45448c 90px,#483a87 92px,#4a3483 93px)"></i>
<i style="left:136.0px;top:263.3px;width:1px;height:93.2px;background:linear-gradient(#010001 0px,#050008 2px,#15021d 4px,#2d043d 6px,#400556 8px,#470760 10px,#4a0963 12px,#4a0964 14px,#4a0964 16px,#4a0963 18px,#490862 20px,#46075e 22px,#3b044f 24px,#260334 26px,#0f0115 28px,#030004 30px,#000000 32px,#000000 34px,#000001 36px,#030004 38px,#100116 40px,#360449 42px,#531573 44px,#493a87 46px,#3b5991 48px,#2e6f90 50px,#297c8e 52px,#239588 54px,#4fbe68 56px,#90cf47 58px,#94d044 60px,#94d044 62px,#94d044 64px,#94d044 66px,#94d044 68px,#94d044 70px,#94d044 72px,#87cd4c 74px,#4dbd69 76px,#259c83 78px,#27828d 80px,#2c748f 82px,#336791 84px,#3a5b91 86px,#405190 88px,#44478d 90px,#483d89 92px,#493785 93px)"></i>
<i style="left:137.0px;top:263.3px;width:1px;height:93.2px;background:linear-gradient(#010001 0px,#060108 2px,#180221 4px,#310442 6px,#45065c 8px,#4b0965 10px,#4e0b68 12px,#4f0b69 14px,#4f0b69 16px,#4f0b69 18px,#4e0b68 20px,#4a0963 22px,#410557 24px,#2a0339 26px,#110117 28px,#040005 30px,#000000 32px,#000000 34px,#000001 36px,#020003 38px,#0b010f 40px,#2c043b 42px,#540f70 44px,#4a3584 46px,#3a5b91 48px,#2b768f 50px,#248e8a 52px,#4cbd69 54px,#b0d834 56px,#c2dd2b 58px,#c2dd2b 60px,#c2dd2b 62px,#c2dd2b 64px,#c3dd2b 66px,#c3dd2b 68px,#c3dd2b 70px,#b5d932 72px,#6bc65b 74px,#28a57e 76px,#25898b 78px,#26838d 80px,#2b778f 82px,#316a91 84px,#385e91 86px,#3e5490 88px,#434b8f 90px,#46418a 92px,#483b88 93px)"></i>
<i style="left:138.0px;top:263.3px;width:1px;height:93.2px;background:linear-gradient(#010001 0px,#060108 2px,#180221 4px,#310442 6px,#45065c 8px,#4b0965 10px,#4e0b68 12px,#4f0b69 14px,#4f0b69 16px,#4f0b69 18px,#4e0b68 20px,#4a0963 22px,#410557 24px,#2a0339 26px,#110117 28px,#040005 30px,#000000 32px,#000000 34px,#000001 36px,#020003 38px,#0e0113 40px,#320443 42px,#531372 44px,#493986 46px,#3a5a91 48px,#2d7290 50px,#27808d 52px,#2ba97c 54px,#71c758 56px,#93d045 58px,#93d045 60px,#93d045 62px,#93d045 64px,#93d045 66px,#93d045 68px,#93d045 70px,#8bce4a 72px,#55c065 74px,#26a180 76px,#26848d 78px,#287e8e 80px,#2d7190 82px,#346591 84px,#3b5991 86px,#405090 88px,#44478d 90px,#483d89 92px,#493785 93px)"></i>
<i style="left:139.0px;top:263.3px;width:1px;height:93.2px;background:linear-gradient(#010001 0px,#060108 2px,#17021f 4px,#2f0440 6px,#43055b 8px,#4a0963 10px,#4c0a66 12px,#4d0a67 14px,#4d0a67 16px,#4d0a67 18px,#4c0a66 20px,#480861 22px,#3e0554 24px,#280337 26px,#100116 28px,#030005 30px,#000000 32px,#000000 34px,#000000 36px,#010001 38px,#060008 40px,#1c0226 42px,#470760 44px,#502279 46px,#44498e 48px,#356391 50px,#2c748f 52px,#259e82 54px,#64c55e 56px,#a8d638 58px,#aad638 60px,#aad638 62px,#aad638 64px,#aad638 66px,#aad638 68px,#aad638 70px,#aad638 72px,#90cf47 74px,#48bc6b 76px,#249786 78px,#297b8e 80px,#306d90 82px,#376091 84px,#3e5591 86px,#434c8f 88px,#46428b 90px,#493886 92px,#4b3282 93px)"></i>
<i style="left:140.0px;top:263.3px;width:1px;height:93.2px;background:linear-gradient(#010001 0px,#060108 2px,#180221 4px,#310442 6px,#45065c 8px,#4b0965 10px,#4e0b68 12px,#4e0b69 14px,#4f0b69 16px,#4e0b69 18px,#4d0b67 20px,#4a0963 22px,#410557 24px,#2a0339 26px,#110117 28px,#040005 30px,#000000 32px,#000000 34px,#000001 36px,#030003 38px,#0e0113 40px,#330446 42px,#531573 44px,#483d89 46px,#385e91 48px,#2b758f 50px,#25898c 52px,#38b274 54px,#87cd4c 56px,#a0d43d 58px,#a0d43d 60px,#a0d43d 62px,#a0d43d 64px,#a0d43d 66px,#a0d43d 68px,#a0d43d 70px,#9dd33f 72px,#69c65c 74px,#2caa7b 76px,#25898b 78px,#27808d 80px,#2c7390 82px,#336791 84px,#3a5b91 86px,#405190 88px,#44488e 90px,#473e89 92px,#493886 93px)"></i>
<i style="left:141.0px;top:263.3px;width:1px;height:93.2px;background:linear-gradient(#010001 0px,#060008 2px,#17021f 4px,#2f043f 6px,#43055a 8px,#490862 10px,#4c0a65 12px,#4c0a66 14px,#4c0a66 16px,#4c0a66 18px,#4b0965 20px,#480860 22px,#3d0553 24px,#280336 26px,#100116 28px,#030005 30px,#000000 32px,#000000 34px,#000001 36px,#020002 38px,#08010b 40px,#240331 42px,#4f0b69 44px,#4c2e80 46px,#3d5691 48px,#2d7190 50px,#248e8a 52px,#4dbe69 54px,#b4d932 56px,#cade27 58px,#cade27 60px,#cade27 62px,#cade27 64px,#cade27 66px,#cade27 68px,#cade27 70px,#c9de28 72px,#9fd33e 74px,#43b96e 76px,#239189 78px,#27818d 80px,#2c748f 82px,#336791 84px,#3a5b91 86px,#405190 88px,#44488e 90px,#473e89 92px,#493886 93px)"></i>
<i style="left:142.0px;top:263.3px;width:1px;height:93.2px;background:linear-gradient(#010001 0px,#050007 2px,#14021b 4px,#2a0339 6px,#3c0551 8px,#45065d 10px,#470760 12px,#480860 14px,#480860 16px,#480860 18px,#47075f 20px,#44055b 22px,#37044b 24px,#240332 26px,#0e0113 28px,#030004 30px,#000000 32px,#000000 34px,#000000 36px,#010002 38px,#040006 40px,#15021d 42px,#420558 44px,#511e77 46px,#44488d 48px,#346591 50px,#287f8e 52px,#31ae78 54px,#a0d43d 56px,#d2e025 58px,#d3e025 60px,#d3e025 62px,#d3e025 64px,#d3e025 66px,#d3e025 68px,#d3e025 70px,#d3e025 72px,#bddb2e 74px,#66c55e 76px,#26a081 78px,#287e8e 80px,#2e7090 82px,#356391 84px,#3c5791 86px,#424e8f 88px,#45448c 90px,#483a87 92px,#4a3483 93px)"></i>
<i style="left:143.0px;top:263.3px;width:1px;height:93.2px;background:linear-gradient(#010001 0px,#040006 2px,#110118 4px,#260334 6px,#360448 8px,#400556 10px,#43055a 12px,#44055b 14px,#44055b 16px,#44055b 18px,#43055a 20px,#3d0553 22px,#310443 24px,#20032c 26px,#0c0111 28px,#030004 30px,#000000 32px,#000000 34px,#000000 36px,#010001 38px,#040005 40px,#15021c 42px,#410557 44px,#521d77 46px,#45468d 48px,#366291 50px,#2c7490 52px,#25a081 54px,#76c856 56px,#c4dd2a 58px,#cade27 60px,#cade27 62px,#cade27 64px,#cade27 66px,#cade27 68px,#cade27 70px,#cade27 72px,#b6d931 74px,#61c460 76px,#26a081 78px,#297c8e 80px,#2f6e90 82px,#376191 84px,#3d5591 86px,#424c8f 88px,#46428b 90px,#493986 92px,#4b3282 93px)"></i>
<i style="left:144.0px;top:263.3px;width:1px;height:93.2px;background:linear-gradient(#000001 0px,#040005 2px,#0f0115 4px,#230330 6px,#310442 8px,#3a044e 10px,#3d0553 12px,#3e0554 14px,#3e0554 16px,#3e0554 18px,#3d0552 20px,#38044b 22px,#2d043d 24px,#1d0227 26px,#0b010f 28px,#020003 30px,#000000 32px,#000000 34px,#000000 36px,#010001 38px,#040006 40px,#16021e 42px,#44055b 44px,#502179 46px,#434b8f 48px,#336791 50px,#2a798f 52px,#27a47f 54px,#8bce4a 56px,#d7e124 58px,#dfe322 60px,#dfe322 62px,#dfe322 64px,#dfe322 66px,#dfe322 68px,#dfe322 70px,#dfe322 72px,#d1e026 74px,#88cd4c 76px,#2daa7b 78px,#26838d 80px,#2c7390 82px,#346591 84px,#3b5991 86px,#414f90 88px,#45468d 90px,#483c88 92px,#4a3684 93px)"></i>
<i style="left:145.0px;top:263.3px;width:1px;height:93.2px;background:linear-gradient(#000001 0px,#030005 2px,#0d0112 4px,#1d0328 6px,#2b033a 8px,#320444 10px,#350448 12px,#360449 14px,#360449 16px,#360449 18px,#350447 20px,#310442 22px,#280336 24px,#180221 26px,#09010d 28px,#020003 30px,#000000 32px,#000000 34px,#000000 36px,#010002 38px,#070109 40px,#22032f 42px,#4e0b69 44px,#4c2e80 46px,#3f5390 48px,#316a91 50px,#2a788f 52px,#248c8b 54px,#42b96e 56px,#a5d53a 58px,#bedb2d 60px,#bedb2d 62px,#bedb2d 64px,#bedb2d 66px,#bedb2d 68px,#bedb2d 70px,#bedb2d 72px,#b2d833 74px,#69c65c 76px,#28a57e 78px,#27818d 80px,#2c7390 82px,#346591 84px,#3b5991 86px,#414f90 88px,#45468d 90px,#483c88 92px,#4a3684 93px)"></i>
<i style="left:146.0px;top:263.3px;width:1px;height:93.2px;background:linear-gradient(#000000 0px,#030004 2px,#0b010f 4px,#180221 6px,#250332 8px,#2b033a 10px,#2d043e 12px,#2e043e 14px,#2e043e 16px,#2e043e 18px,#2d043d 20px,#290339 22px,#22032e 24px,#14021b 26px,#08010a 28px,#020002 30px,#000000 32px,#000000 34px,#000000 36px,#010001 38px,#030004 40px,#100116 42px,#39044d 44px,#521a75 46px,#45448c 48px,#376191 50px,#2d7390 52px,#258a8b 54px,#48bc6b 56px,#c0dc2c 58px,#e6e420 60px,#e6e420 62px,#e6e420 64px,#e6e420 66px,#e6e420 68px,#e6e420 70px,#e5e420 72px,#c2dc2b 74px,#5bc263 76px,#249985 78px,#287e8e 80px,#2e7090 82px,#356391 84px,#3c5791 86px,#414e8f 88px,#45458c 90px,#483b87 92px,#4a3584 93px)"></i>
<i style="left:147.0px;top:263.3px;width:1px;height:93.2px;background:linear-gradient(#000000 0px,#020003 2px,#09010c 4px,#14021c 6px,#20032b 8px,#260334 10px,#280336 12px,#280337 14px,#280337 16px,#280337 18px,#270336 20px,#250332 22px,#1d0227 24px,#110117 26px,#060109 28px,#010002 30px,#000000 32px,#000000 34px,#000000 36px,#010001 38px,#030005 40px,#13021a 42px,#410557 44px,#512078 46px,#434b8f 48px,#336691 50px,#2a778f 52px,#248e8a 54px,#54c066 56px,#cbdf27 58px,#e6e420 60px,#e6e420 62px,#e6e420 64px,#e6e420 66px,#e6e420 68px,#e6e420 70px,#e6e420 72px,#c4dd2a 74px,#5bc363 76px,#249985 78px,#27818d 80px,#2d7390 82px,#336691 84px,#3b5a91 86px,#405090 88px,#44478d 90px,#483d89 92px,#493785 93px)"></i>
<i style="left:148.0px;top:263.3px;width:1px;height:93.2px;background:linear-gradient(#000000 0px,#020003 2px,#07010a 4px,#100117 6px,#1a0223 8px,#1f032b 10px,#22032e 12px,#22032f 14px,#22032f 16px,#22032f 18px,#21032e 20px,#1e0329 22px,#170220 24px,#0e0113 26px,#050007 28px,#010002 30px,#000000 32px,#000000 34px,#000000 36px,#000001 38px,#020003 40px,#0b010f 42px,#2e043f 44px,#531372 46px,#483d88 48px,#3a5b91 50px,#2f6d90 52px,#297a8f 54px,#2caa7b 56px,#a6d53a 58px,#e6e420 60px,#e6e420 62px,#e6e420 64px,#e6e420 66px,#e6e420 68px,#e6e420 70px,#e6e420 72px,#e1e321 74px,#a0d43d 76px,#35b076 78px,#25878c 80px,#2e7090 82px,#356391 84px,#3d5791 86px,#424d8f 88px,#46438b 90px,#493a87 92px,#4b3383 93px)"></i>
<i style="left:149.0px;top:263.3px;width:1px;height:93.2px;background:linear-gradient(#000000 0px,#020002 2px,#060109 4px,#0e0114 6px,#16021f 8px,#1b0226 10px,#1d0328 12px,#1e0329 14px,#1e0329 16px,#1e0329 18px,#1d0228 20px,#1a0224 22px,#14021c 24px,#0c0110 26px,#050006 28px,#010001 30px,#000000 32px,#000000 34px,#000000 36px,#010001 38px,#030004 40px,#0f0115 42px,#38044c 44px,#521a75 46px,#46438b 48px,#395d91 50px,#306c90 52px,#2a788f 54px,#259c83 56px,#71c758 58px,#cade27 60px,#d5e125 62px,#d5e125 64px,#d5e125 66px,#d5e125 68px,#d5e125 70px,#d5e125 72px,#cbdf27 74px,#8acd4b 76px,#2fad79 78px,#25868c 80px,#2e6f90 82px,#366191 84px,#3d5691 86px,#424c8f 88px,#46428b 90px,#493886 92px,#4b3282 93px)"></i>
<i style="left:150.0px;top:263.3px;width:1px;height:93.2px;background:linear-gradient(#000000 0px,#020002 2px,#070109 4px,#0f0114 6px,#17021f 8px,#1c0227 10px,#1e0329 12px,#1f032a 14px,#1f032a 16px,#1f032a 18px,#1e0329 20px,#1b0225 22px,#15021c 24px,#0c0111 26px,#050006 28px,#010001 30px,#000000 32px,#000000 34px,#000000 36px,#010001 38px,#020003 40px,#09010c 42px,#280337 44px,#541071 46px,#483d88 48px,#376091 50px,#2b768f 52px,#249985 54px,#89cd4b 56px,#e6e420 58px,#e6e420 60px,#e6e420 62px,#e6e420 64px,#e6e420 66px,#e6e420 68px,#e6e420 70px,#e6e420 72px,#e6e420 74px,#86cc4d 76px,#26a180 78px,#26838d 80px,#2c758f 82px,#336791 84px,#3a5b91 86px,#405190 88px,#44488e 90px,#473e89 92px,#493886 93px)"></i>
<i style="left:151.0px;top:263.3px;width:1px;height:93.2px;background:linear-gradient(#000000 0px,#020003 2px,#07010a 4px,#100116 6px,#190223 8px,#1f032a 10px,#21032d 12px,#22032e 14px,#22032e 16px,#22032e 18px,#21032d 20px,#1e0329 22px,#17021f 24px,#0d0112 26px,#050007 28px,#010001 30px,#000000 32px,#000000 34px,#000000 36px,#010001 38px,#030004 40px,#0d0112 42px,#340446 44px,#521a75 46px,#434b8f 48px,#306c91 50px,#287f8e 52px,#33af77 54px,#c5dd29 56px,#e6e420 58px,#e6e420 60px,#e6e420 62px,#e6e420 64px,#e6e420 66px,#e6e420 68px,#e6e420 70px,#e6e420 72px,#dae223 74px,#5cc362 76px,#239488 78px,#25868c 80px,#2a798f 82px,#306b91 84px,#375f91 86px,#3e5591 88px,#434c8f 90px,#46428b 92px,#483c88 93px)"></i>
<i style="left:152.0px;top:263.3px;width:1px;height:93.2px;background:linear-gradient(#000000 0px,#020003 2px,#08010b 4px,#120219 6px,#1d0227 8px,#230330 10px,#250333 12px,#250333 14px,#250333 16px,#250333 18px,#250332 20px,#22032e 22px,#1a0223 24px,#0f0115 26px,#060008 28px,#010002 30px,#000000 32px,#000000 34px,#000000 36px,#010001 38px,#030004 40px,#0c0111 42px,#330445 44px,#521a75 46px,#434b8f 48px,#306b91 50px,#287e8e 52px,#30ad79 54px,#c1dc2c 56px,#e6e420 58px,#e6e420 60px,#e6e420 62px,#e6e420 64px,#e6e420 66px,#e6e420 68px,#e6e420 70px,#e6e420 72px,#e6e420 74px,#95d144 76px,#29a67e 78px,#25878c 80px,#2a798f 82px,#306c91 84px,#375f91 86px,#3e5590 88px,#434b8f 90px,#46418b 92px,#483b88 93px)"></i>
<i style="left:153.0px;top:263.3px;width:1px;height:93.2px;background:linear-gradient(#000000 0px,#030003 2px,#0a010e 4px,#16021e 6px,#22032f 8px,#280337 10px,#2b033a 12px,#2b043b 14px,#2b043b 16px,#2b033a 18px,#2a0339 20px,#270335 22px,#1f032b 24px,#120219 26px,#07010a 28px,#010002 30px,#000000 32px,#000000 34px,#000000 36px,#010001 38px,#040005 40px,#110118 42px,#400555 44px,#4f247a 46px,#3f5390 48px,#2e7190 50px,#27818d 52px,#38b274 54px,#c3dd2b 56px,#e6e420 58px,#e6e420 60px,#e6e420 62px,#e6e420 64px,#e6e420 66px,#e6e420 68px,#e6e420 70px,#e6e420 72px,#dce223 74px,#6dc65a 76px,#259b84 78px,#25878c 80px,#297a8f 82px,#306c91 84px,#376091 86px,#3d5591 88px,#424c8f 90px,#46428b 92px,#483c88 93px)"></i>
<i style="left:154.0px;top:263.3px;width:1px;height:93.2px;background:linear-gradient(#000001 0px,#030004 2px,#0c0110 4px,#1b0225 6px,#280337 8px,#2f0440 10px,#320443 12px,#320444 14px,#320444 16px,#320444 18px,#310443 20px,#2d043e 22px,#250333 24px,#16021e 26px,#09010c 28px,#020002 30px,#000000 32px,#000000 34px,#000001 36px,#020002 38px,#050007 40px,#110117 42px,#3e0554 44px,#50237a 46px,#3e5490 48px,#2c7390 50px,#248f8a 52px,#61c460 54px,#e4e420 56px,#e6e420 58px,#e6e420 60px,#e6e420 62px,#e6e420 64px,#e6e420 66px,#e6e420 68px,#e6e420 70px,#e6e420 72px,#d6e124 74px,#5ec361 76px,#239687 78px,#25878c 80px,#2a798f 82px,#306c91 84px,#376091 86px,#3d5591 88px,#424c8f 90px,#46428b 92px,#483c88 93px)"></i>
<i style="left:155.0px;top:263.3px;width:1px;height:93.2px;background:linear-gradient(#000001 0px,#040005 2px,#0f0114 4px,#21032d 6px,#2f043f 8px,#37044a 10px,#3a044f 12px,#3b044f 14px,#3b0550 16px,#3b044f 18px,#3a044e 20px,#350448 22px,#2b033a 24px,#1b0225 26px,#0a010e 28px,#020003 30px,#000000 32px,#000000 34px,#010001 36px,#030003 38px,#08010b 40px,#170220 42px,#360448 44px,#521c76 46px,#405190 48px,#2c748f 50px,#2ba97c 52px,#bada2f 54px,#e6e420 56px,#e6e420 58px,#e6e420 60px,#e6e420 62px,#e6e420 64px,#e6e420 66px,#e6e420 68px,#e6e420 70px,#e6e420 72px,#d9e123 74px,#59c264 76px,#239288 78px,#25878c 80px,#297a8f 82px,#306c90 84px,#376191 86px,#3d5691 88px,#424d8f 90px,#46438b 92px,#483d88 93px)"></i>
<i style="left:156.0px;top:263.3px;width:1px;height:93.2px;background:linear-gradient(#010001 0px,#040006 2px,#110117 4px,#250333 6px,#340447 8px,#3e0553 10px,#420558 12px,#420559 14px,#430559 16px,#420559 18px,#410557 20px,#3c0550 22px,#300441 24px,#1f032a 26px,#0c0110 28px,#030003 30px,#000000 32px,#000000 34px,#010001 36px,#030004 38px,#09010c 40px,#180222 42px,#37044b 44px,#531674 46px,#434b8f 48px,#2b778f 50px,#2eac7a 52px,#bfdc2c 54px,#e6e420 56px,#e6e420 58px,#e6e420 60px,#e6e420 62px,#e6e420 64px,#e6e420 66px,#e6e420 68px,#e6e420 70px,#e6e420 72px,#d7e124 74px,#58c264 76px,#239388 78px,#26848d 80px,#2b768f 82px,#316991 84px,#395d91 86px,#3e5390 88px,#434a8f 90px,#47408a 92px,#483a87 93px)"></i>
<i style="left:157.0px;top:263.3px;width:1px;height:93.2px;background:linear-gradient(#010001 0px,#050006 2px,#120219 4px,#270336 6px,#38044c 8px,#420559 10px,#45065c 12px,#45065d 14px,#45065d 16px,#45065d 18px,#44065c 20px,#400556 22px,#330446 24px,#22032e 26px,#0d0112 28px,#030004 30px,#000000 32px,#000000 34px,#010002 36px,#040005 38px,#0b010f 40px,#1c0226 42px,#360449 44px,#521b75 46px,#424d8f 48px,#316b91 50px,#249985 52px,#74c857 54px,#d9e124 56px,#e6e420 58px,#e6e420 60px,#e6e420 62px,#e6e420 64px,#e6e420 66px,#e6e420 68px,#e6e420 70px,#e6e420 72px,#c8de28 74px,#63c45f 76px,#259c83 78px,#287f8e 80px,#2e7190 82px,#356391 84px,#3c5891 86px,#414e90 88px,#45458c 90px,#483b88 92px,#4a3584 93px)"></i>
<i style="left:158.0px;top:263.3px;width:1px;height:93.2px;background:linear-gradient(#010001 0px,#060008 2px,#16021e 4px,#2d043d 6px,#410557 8px,#480860 10px,#4a0964 12px,#4b0964 14px,#4b0964 16px,#4b0964 18px,#4a0963 20px,#47075f 22px,#3b0550 24px,#270335 26px,#0f0115 28px,#030005 30px,#010001 32px,#010001 34px,#030005 36px,#0b010f 38px,#1c0227 40px,#39044c 42px,#540e70 44px,#4a3584 46px,#2e7090 48px,#2ba87c 50px,#bada2f 52px,#e6e420 54px,#e6e420 56px,#e6e420 58px,#e6e420 60px,#e6e420 62px,#e6e420 64px,#e6e420 66px,#e6e420 68px,#e6e420 70px,#e6e420 72px,#e6e420 74px,#80cb50 76px,#259f82 78px,#25868c 80px,#2a788f 82px,#316b91 84px,#385f91 86px,#3e5490 88px,#434b8f 90px,#46418a 92px,#483b87 93px)"></i>
<i style="left:159.0px;top:263.3px;width:1px;height:93.2px;background:linear-gradient(#010001 0px,#060008 2px,#15021d 4px,#2d043d 6px,#400556 8px,#480760 10px,#4a0963 12px,#4a0964 14px,#4a0964 16px,#4a0964 18px,#490862 20px,#46075e 22px,#3b044f 24px,#260334 26px,#0f0115 28px,#030005 30px,#010001 32px,#020003 34px,#07010a 36px,#15021d 38px,#300441 40px,#4e0b69 42px,#4f247b 44px,#434c8f 46px,#306c91 48px,#248b8b 50px,#52bf67 52px,#d2e025 54px,#e6e420 56px,#e6e420 58px,#e6e420 60px,#e6e420 62px,#e6e420 64px,#e6e420 66px,#e6e420 68px,#e6e420 70px,#e6e420 72px,#e6e420 74px,#d3e025 76px,#6ac65c 78px,#249b84 80px,#2d7290 82px,#356391 84px,#3d5691 86px,#424d8f 88px,#46428b 90px,#493886 92px,#4b3282 93px)"></i>
<i style="left:160.0px;top:263.3px;width:1px;height:93.2px;background:linear-gradient(#010001 0px,#060108 2px,#170220 4px,#2f0440 6px,#44055b 8px,#4a0963 10px,#4d0a66 12px,#4d0a67 14px,#4d0a67 16px,#4d0a67 18px,#4c0a66 20px,#490861 22px,#3f0554 24px,#290337 26px,#100116 28px,#040005 30px,#010002 32px,#040005 34px,#0d0112 36px,#230331 38px,#45065d 40px,#521b75 42px,#45468d 44px,#2c7490 46px,#239289 48px,#26a181 50px,#92d046 52px,#e6e420 54px,#e6e420 56px,#e6e420 58px,#e6e420 60px,#e6e420 62px,#e6e420 64px,#e6e420 66px,#e6e420 68px,#e6e420 70px,#e6e420 72px,#e6e420 74px,#b9da30 76px,#48bc6b 78px,#248e8a 80px,#2d7390 82px,#346591 84px,#3c5891 86px,#414e90 88px,#45458c 90px,#483b87 92px,#4a3484 93px)"></i>
<i style="left:161.0px;top:263.3px;width:1px;height:93.2px;background:linear-gradient(#4d0b68 0px,#4f0b6a 2px,#540f70 4px,#531774 6px,#502179 8px,#4e277c 10px,#4e297d 12px,#4d2a7e 14px,#4d2a7e 16px,#4d2a7e 18px,#4e297d 20px,#4f257b 22px,#511e77 24px,#531573 26px,#100117 28px,#040005 30px,#020002 32px,#050007 34px,#100116 36px,#2a0339 38px,#4c0a66 40px,#4e287d 42px,#3a5b91 44px,#248d8a 46px,#36b176 48px,#49bc6b 50px,#72c758 52px,#d8e124 54px,#e6e420 56px,#e6e420 58px,#e6e420 60px,#e6e420 62px,#e6e420 64px,#e6e420 66px,#e6e420 68px,#e6e420 70px,#e6e420 72px,#cedf26 74px,#71c758 76px,#26a181 78px,#297c8e 80px,#2f6e90 82px,#376191 84px,#3d5591 86px,#424c8f 88px,#46438b 90px,#493986 92px,#4b3283 93px)"></i>
<i style="left:162.0px;top:263.3px;width:1px;height:93.2px;background:linear-gradient(#4f0b69 0px,#500c6b 2px,#541071 4px,#521975 6px,#502279 8px,#4e287d 10px,#4d2b7e 12px,#4d2b7f 14px,#4d2b7f 16px,#4d2b7f 18px,#4d2a7e 20px,#4e277c 22px,#511f78 24px,#531673 26px,#110117 28px,#040005 30px,#020002 32px,#060008 34px,#120218 36px,#2d043d 38px,#4f0b6a 40px,#4c2d7f 42px,#366191 44px,#239388 46px,#44ba6d 48px,#55c065 50px,#a0d43d 52px,#e4e421 54px,#e6e420 56px,#e6e420 58px,#e6e420 60px,#e6e420 62px,#e6e420 64px,#e6e420 66px,#e6e420 68px,#d3e025 70px,#7bc954 72px,#28a47f 74px,#27818d 76px,#297c8e 78px,#2a778f 80px,#316b91 82px,#376091 84px,#3d5691 86px,#414e8f 88px,#45458c 90px,#483c88 92px,#4a3584 93px)"></i>
<i style="left:163.0px;top:263.3px;width:1px;height:93.2px;background:linear-gradient(#010001 0px,#060108 2px,#180221 4px,#310442 6px,#45065c 8px,#4b0965 10px,#4e0b68 12px,#4f0b69 14px,#4f0b69 16px,#4f0b69 18px,#4e0b68 20px,#4a0963 22px,#410557 24px,#2a0339 26px,#110117 28px,#040005 30px,#010001 32px,#030004 34px,#0a010e 36px,#1e0329 38px,#3f0555 40px,#531774 42px,#45448c 44px,#2a778f 46px,#259b84 48px,#47bb6b 50px,#c9de28 52px,#e6e420 54px,#e6e420 56px,#e6e420 58px,#e6e420 60px,#e6e420 62px,#e6e420 64px,#e6e420 66px,#e6e420 68px,#e6e420 70px,#b8da30 72px,#46bb6c 74px,#248e8a 76px,#25878c 78px,#27828d 80px,#2b768f 82px,#316a91 84px,#385f91 86px,#3e5591 88px,#424c8f 90px,#46428b 92px,#483c88 93px)"></i>
<i style="left:164.0px;top:263.3px;width:1px;height:93.2px;background:linear-gradient(#010001 0px,#060008 2px,#16021e 4px,#2e043f 6px,#420559 8px,#490862 10px,#4b0965 12px,#4c0a65 14px,#4c0a65 16px,#4c0a65 18px,#4b0964 20px,#470760 22px,#3d0552 24px,#270336 26px,#100116 28px,#030005 30px,#010001 32px,#010001 34px,#040006 36px,#0d0112 38px,#230330 40px,#44065c 42px,#521975 44px,#45448c 46px,#2f6e90 48px,#28a47f 50px,#acd737 52px,#e6e420 54px,#e6e420 56px,#e6e420 58px,#e6e420 60px,#e6e420 62px,#e6e420 64px,#e6e420 66px,#e6e420 68px,#e6e420 70px,#e6e420 72px,#cedf27 74px,#51bf67 76px,#249189 78px,#25868c 80px,#2a798f 82px,#306c91 84px,#376091 86px,#3d5591 88px,#424c8f 90px,#46428b 92px,#483c88 93px)"></i>
<i style="left:165.0px;top:263.3px;width:1px;height:93.2px;background:linear-gradient(#010001 0px,#050007 2px,#13021a 4px,#290337 6px,#3a044e 8px,#44055b 10px,#46075e 12px,#46075e 14px,#46075e 16px,#46075e 18px,#46065d 20px,#420559 22px,#350448 24px,#230330 26px,#0d0112 28px,#030004 30px,#000000 32px,#000001 34px,#020002 36px,#060008 38px,#100116 40px,#270335 42px,#45065d 44px,#531774 46px,#46418a 48px,#297c8e 50px,#3db571 52px,#d7e124 54px,#e6e420 56px,#e6e420 58px,#e6e420 60px,#e6e420 62px,#e6e420 64px,#e6e420 66px,#e6e420 68px,#e6e420 70px,#e6e420 72px,#9dd33f 74px,#29a57e 76px,#26838d 78px,#287d8e 80px,#2e7090 82px,#356491 84px,#3b5991 86px,#405090 88px,#44478d 90px,#473e89 92px,#493785 93px)"></i>
<i style="left:166.0px;top:263.3px;width:1px;height:93.2px;background:linear-gradient(#010001 0px,#050006 2px,#120218 4px,#260334 6px,#360449 8px,#400557 10px,#44055b 12px,#44065b 14px,#44065c 16px,#44065b 18px,#43055a 20px,#3e0554 22px,#320444 24px,#21032d 26px,#0c0111 28px,#030004 30px,#000000 32px,#000000 34px,#010002 36px,#040006 38px,#0d0112 40px,#240331 42px,#45065d 44px,#511e77 46px,#3d5691 48px,#239388 50px,#9bd240 52px,#e6e420 54px,#e6e420 56px,#e6e420 58px,#e6e420 60px,#e6e420 62px,#e6e420 64px,#e6e420 66px,#e6e420 68px,#e6e420 70px,#e6e420 72px,#6fc759 74px,#239488 76px,#25898c 78px,#26838d 80px,#2b778f 82px,#316b91 84px,#376091 86px,#3d5691 88px,#424d8f 90px,#46438b 92px,#483d89 93px)"></i>
<i style="left:167.0px;top:263.3px;width:1px;height:93.2px;background:linear-gradient(#000001 0px,#040005 2px,#0e0113 4px,#20032c 6px,#2e043e 8px,#360449 10px,#39044d 12px,#3a044e 14px,#3a044e 16px,#3a044e 18px,#39044c 20px,#340446 22px,#2a0339 24px,#1a0224 26px,#0a010e 28px,#020003 30px,#000000 32px,#000000 34px,#000001 36px,#020002 38px,#060008 40px,#110117 42px,#2a0339 44px,#4d0a67 46px,#4d2c7f 48px,#356491 50px,#259d83 52px,#abd737 54px,#e6e420 56px,#e6e420 58px,#e6e420 60px,#e6e420 62px,#e6e420 64px,#e6e420 66px,#e6e420 68px,#e6e420 70px,#e6e420 72px,#d1e026 74px,#43b96d 76px,#25898c 78px,#27808d 80px,#2d7290 82px,#336691 84px,#3a5b91 86px,#405190 88px,#44488e 90px,#473f89 92px,#493886 93px)"></i>
<i style="left:168.0px;top:263.3px;width:1px;height:93.2px;background:linear-gradient(#000001 0px,#030004 2px,#0c0110 4px,#1a0224 6px,#270335 8px,#2e043e 10px,#310442 12px,#310443 14px,#310443 16px,#310442 18px,#300441 20px,#2c043c 22px,#240332 24px,#16021e 26px,#08010b 28px,#020002 30px,#000000 32px,#000000 34px,#000000 36px,#010001 38px,#030005 40px,#0b010f 42px,#21032d 44px,#510c6c 46px,#493987 48px,#376091 50px,#27818d 52px,#40b86f 54px,#d3e025 56px,#e6e420 58px,#e6e420 60px,#e6e420 62px,#e6e420 64px,#e6e420 66px,#e6e420 68px,#e6e420 70px,#e6e420 72px,#e6e420 74px,#abd737 76px,#2fad79 78px,#26838d 80px,#2c748f 82px,#336791 84px,#3b5a91 86px,#405190 88px,#44478d 90px,#483d89 92px,#493785 93px)"></i>
<i style="left:169.0px;top:263.3px;width:1px;height:93.2px;background:linear-gradient(#000000 0px,#030003 2px,#0a010d 4px,#16021e 6px,#22032f 8px,#280336 10px,#2a0339 12px,#2b033a 14px,#2b033a 16px,#2b033a 18px,#2a0339 20px,#270335 22px,#1f032a 24px,#120219 26px,#070109 28px,#010002 30px,#000000 32px,#000000 34px,#000000 36px,#010001 38px,#030004 40px,#0e0113 42px,#37044a 44px,#521c76 46px,#424d8f 48px,#316a91 50px,#297c8e 52px,#2caa7b 54px,#add736 56px,#e6e420 58px,#e6e420 60px,#e6e420 62px,#e6e420 64px,#e6e420 66px,#e6e420 68px,#e6e420 70px,#e6e420 72px,#bbdb2f 74px,#45bb6c 76px,#248e8a 78px,#27818d 80px,#2c7490 82px,#336791 84px,#3a5b91 86px,#3f5290 88px,#44488e 90px,#473f89 92px,#493886 93px)"></i>
<i style="left:170.0px;top:263.3px;width:1px;height:93.2px;background:linear-gradient(#000000 0px,#020003 2px,#08010b 4px,#120219 6px,#1c0227 8px,#22032f 10px,#240332 12px,#250332 14px,#250332 16px,#250332 18px,#240331 20px,#21032d 22px,#190223 24px,#0f0114 26px,#060008 28px,#010002 30px,#000000 32px,#000000 34px,#000000 36px,#010001 38px,#020003 40px,#0a010e 42px,#2d043d 44px,#531573 46px,#45448c 48px,#356491 50px,#2a778f 52px,#259e83 54px,#92d046 56px,#e6e420 58px,#e6e420 60px,#e6e420 62px,#e6e420 64px,#e6e420 66px,#e6e420 68px,#e6e420 70px,#e6e420 72px,#e4e421 74px,#7eca51 76px,#26a181 78px,#27828d 80px,#2c748f 82px,#336791 84px,#3a5b91 86px,#405190 88px,#44488d 90px,#473e89 92px,#493785 93px)"></i>
<i style="left:171.0px;top:263.3px;width:1px;height:93.2px;background:linear-gradient(#000000 0px,#020002 2px,#070109 4px,#0f0115 6px,#180220 8px,#1d0228 10px,#1f032b 12px,#1f032b 14px,#20032b 16px,#1f032b 18px,#1f032a 20px,#1c0226 22px,#15021d 24px,#0c0111 26px,#050007 28px,#010001 30px,#000000 32px,#000000 34px,#000000 36px,#010001 38px,#030004 40px,#110118 42px,#3f0555 44px,#512078 46px,#434b8f 48px,#356391 50px,#2d7290 52px,#287d8e 54px,#2dab7b 56px,#9bd240 58px,#d5e124 60px,#d7e124 62px,#d7e124 64px,#d7e124 66px,#d7e124 68px,#d7e124 70px,#d7e124 72px,#d7e124 74px,#cbdf27 76px,#81cb50 78px,#2aa77d 80px,#2a798f 82px,#326891 84px,#3b5a91 86px,#414f90 88px,#45458c 90px,#483b87 92px,#4a3484 93px)"></i>
<i style="left:172.0px;top:263.3px;width:1px;height:93.2px;background:linear-gradient(#000000 0px,#020002 2px,#070109 4px,#0f0115 6px,#170220 8px,#1c0227 10px,#1f032a 12px,#1f032b 14px,#1f032b 16px,#1f032a 18px,#1e0329 20px,#1b0225 22px,#15021d 24px,#0c0111 26px,#050006 28px,#010001 30px,#000000 32px,#000000 34px,#000001 36px,#020002 38px,#09010d 40px,#2b043b 42px,#531272 44px,#473f8a 46px,#375f91 48px,#2d7190 50px,#287d8e 52px,#258a8b 54px,#3db671 56px,#9cd33f 58px,#bada2f 60px,#bada2f 62px,#bada2f 64px,#bada2f 66px,#bada2f 68px,#bada2f 70px,#bada2f 72px,#b4d932 74px,#78c955 76px,#2dab7a 78px,#25878c 80px,#2a798f 82px,#316b91 84px,#385e91 86px,#3f5390 88px,#434a8e 90px,#47408a 92px,#493986 93px)"></i>
<i style="left:173.0px;top:263.3px;width:1px;height:93.2px;background:linear-gradient(#000000 0px,#020003 2px,#07010a 4px,#100116 6px,#190222 8px,#1f032a 10px,#21032d 12px,#21032e 14px,#21032e 16px,#21032e 18px,#21032d 20px,#1d0328 22px,#17021f 24px,#0d0112 26px,#050007 28px,#010001 30px,#000000 32px,#000000 34px,#000000 36px,#010001 38px,#040006 40px,#16021e 42px,#46065e 44px,#4e297d 46px,#3d5791 48px,#2c748f 50px,#26848d 52px,#3bb473 54px,#c7de28 56px,#e6e420 58px,#e6e420 60px,#e6e420 62px,#e6e420 64px,#e6e420 66px,#e6e420 68px,#e6e420 70px,#e6e420 72px,#e3e321 74px,#7ac954 76px,#259f82 78px,#25898b 80px,#297c8e 82px,#2f6f90 84px,#356291 86px,#3c5791 88px,#414e8f 90px,#45448c 92px,#473e89 93px)"></i>
<i style="left:174.0px;top:263.3px;width:1px;height:93.2px;background:linear-gradient(#000000 0px,#020003 2px,#08010a 4px,#110117 6px,#1b0224 8px,#20032d 10px,#230330 12px,#230330 14px,#230330 16px,#230330 18px,#22032f 20px,#1f032b 22px,#180221 24px,#0e0113 26px,#050007 28px,#010002 30px,#000000 32px,#000000 34px,#000000 36px,#010001 38px,#020003 40px,#0c0110 42px,#300442 44px,#531673 46px,#46438b 48px,#356391 50px,#2a788f 52px,#239588 54px,#75c856 56px,#e6e420 58px,#e6e420 60px,#e6e420 62px,#e6e420 64px,#e6e420 66px,#e6e420 68px,#e6e420 70px,#e6e420 72px,#dde222 74px,#6dc65a 76px,#259b84 78px,#26838d 80px,#2c758f 82px,#326791 84px,#3a5c91 86px,#3f5290 88px,#44488e 90px,#473f89 92px,#493886 93px)"></i>
<i style="left:175.0px;top:263.3px;width:1px;height:93.2px;background:linear-gradient(#000000 0px,#020003 2px,#09010c 4px,#14021b 6px,#1f032b 8px,#250333 10px,#270336 12px,#280336 14px,#280336 16px,#280336 18px,#270335 20px,#240331 22px,#1c0226 24px,#100117 26px,#060109 28px,#010002 30px,#000000 32px,#000000 34px,#000000 36px,#010001 38px,#020003 40px,#0d0112 42px,#340446 44px,#531874 46px,#45448c 48px,#356391 50px,#2b778f 52px,#239388 54px,#6ac65c 56px,#e1e321 58px,#e6e420 60px,#e6e420 62px,#e6e420 64px,#e6e420 66px,#e6e420 68px,#e6e420 70px,#e6e420 72px,#bcdb2e 74px,#46bb6c 76px,#248e8a 78px,#27808d 80px,#2d7290 82px,#346591 84px,#3b5a91 86px,#405090 88px,#44478d 90px,#473e89 92px,#493785 93px)"></i>
<i style="left:176.0px;top:263.3px;width:1px;height:93.2px;background:linear-gradient(#000000 0px,#030004 2px,#0b010f 4px,#190222 6px,#260333 8px,#2c043c 10px,#2f043f 12px,#2f0440 14px,#2f0440 16px,#2f0440 18px,#2e043f 20px,#2b033a 22px,#230330 24px,#14021c 26px,#08010b 28px,#020002 30px,#000000 32px,#000000 34px,#000000 36px,#010001 38px,#030004 40px,#0b0110 42px,#2f043f 44px,#531473 46px,#46428b 48px,#346591 50px,#297c8e 52px,#34b077 54px,#c7de29 56px,#e6e420 58px,#e6e420 60px,#e6e420 62px,#e6e420 64px,#e6e420 66px,#e6e420 68px,#e6e420 70px,#e6e420 72px,#e2e321 74px,#6ac65c 76px,#249886 78px,#26848d 80px,#2b778f 82px,#316991 84px,#395d91 86px,#3f5390 88px,#434a8f 90px,#47408a 92px,#493a87 93px)"></i>
<i style="left:177.0px;top:263.3px;width:1px;height:93.2px;background:linear-gradient(#000001 0px,#030005 2px,#0d0112 4px,#1e0329 6px,#2b033a 8px,#330444 10px,#360448 12px,#360449 14px,#360449 16px,#360449 18px,#350448 20px,#310442 22px,#280336 24px,#180221 26px,#09010d 28px,#020003 30px,#000000 32px,#000000 34px,#000000 36px,#010001 38px,#030004 40px,#0f0115 42px,#37044b 44px,#521a75 46px,#44478d 48px,#336691 50px,#297a8f 52px,#29a67e 54px,#a7d539 56px,#e6e420 58px,#e6e420 60px,#e6e420 62px,#e6e420 64px,#e6e420 66px,#e6e420 68px,#e6e420 70px,#e6e420 72px,#e6e420 74px,#bcdb2e 76px,#45ba6d 78px,#248c8a 80px,#2a788f 82px,#316a91 84px,#395d91 86px,#3f5290 88px,#44498e 90px,#473f89 92px,#493986 93px)"></i>
<i style="left:178.0px;top:263.3px;width:1px;height:93.2px;background:linear-gradient(#010001 0px,#040006 2px,#110117 4px,#250332 6px,#340446 8px,#3d0553 10px,#410558 12px,#420559 14px,#420559 16px,#420559 18px,#410557 20px,#3b0550 22px,#300441 24px,#1f032a 26px,#0c0110 28px,#020003 30px,#000000 32px,#000000 34px,#010001 36px,#020003 38px,#08010b 40px,#170220 42px,#46065d 44px,#4e277c 46px,#3d5691 48px,#2a778f 50px,#28a47f 52px,#abd737 54px,#e6e420 56px,#e6e420 58px,#e6e420 60px,#e6e420 62px,#e6e420 64px,#e6e420 66px,#e6e420 68px,#e6e420 70px,#e6e420 72px,#e6e420 74px,#bcdb2e 76px,#3fb670 78px,#248c8a 80px,#287f8e 82px,#2d7190 84px,#346491 86px,#3c5891 88px,#414f90 90px,#45458c 92px,#473f89 93px)"></i>
<i style="left:179.0px;top:263.3px;width:1px;height:93.2px;background:linear-gradient(#010001 0px,#050007 2px,#120219 4px,#280336 6px,#39044d 8px,#43055a 10px,#45065d 12px,#46065d 14px,#46065e 16px,#46065d 18px,#45065c 20px,#410557 22px,#340447 24px,#22032f 26px,#0d0112 28px,#030004 30px,#000000 32px,#000000 34px,#010001 36px,#020003 38px,#08010c 40px,#260334 42px,#530d6e 44px,#4a3685 46px,#395d91 48px,#2b778f 50px,#239388 52px,#5bc363 54px,#c6dd29 56px,#dae223 58px,#dae223 60px,#dae223 62px,#dae223 64px,#dae223 66px,#dae223 68px,#dae223 70px,#dae223 72px,#cbdf27 74px,#7dca52 76px,#2ba87d 78px,#25878c 80px,#297a8f 82px,#306c91 84px,#385f91 86px,#3e5490 88px,#434b8f 90px,#46418a 92px,#483b87 93px)"></i>
<i style="left:180.0px;top:263.3px;width:1px;height:93.2px;background:linear-gradient(#010001 0px,#050007 2px,#15021d 4px,#2c043c 6px,#3f0554 8px,#47075f 10px,#490862 12px,#4a0862 14px,#4a0863 16px,#490862 18px,#490861 20px,#45065d 22px,#3a044e 24px,#260333 26px,#0f0114 28px,#030004 30px,#000000 32px,#000000 34px,#010001 36px,#030004 38px,#09010c 40px,#21032d 42px,#4d0a67 44px,#4c2e80 46px,#3c5891 48px,#2b768f 50px,#25a081 52px,#84cc4e 54px,#dae223 56px,#e5e420 58px,#e5e420 60px,#e5e420 62px,#e5e420 64px,#e5e420 66px,#e5e420 68px,#e5e420 70px,#e5e420 72px,#c9de28 74px,#69c65c 76px,#259f82 78px,#25868c 80px,#2a788f 82px,#316a91 84px,#385e91 86px,#3e5490 88px,#434b8f 90px,#46418a 92px,#483a87 93px)"></i>
<i style="left:181.0px;top:263.3px;width:1px;height:93.2px;background:linear-gradient(#010001 0px,#060108 2px,#17021f 4px,#2f0440 6px,#43055b 8px,#4a0963 10px,#4c0a66 12px,#4d0a67 14px,#4d0a67 16px,#4d0a67 18px,#4c0a65 20px,#480861 22px,#3e0554 24px,#280337 26px,#100116 28px,#030005 30px,#000000 32px,#000000 34px,#010001 36px,#030004 38px,#0b010f 40px,#2d043d 42px,#541171 44px,#483c88 46px,#376091 48px,#2a798f 50px,#259c84 52px,#6bc65b 54px,#bfdc2d 56px,#c7de28 58px,#c7de28 60px,#c7de28 62px,#c7de28 64px,#c7de28 66px,#c7de28 68px,#c7de28 70px,#c7de28 72px,#c1dc2b 74px,#88cd4c 76px,#34b077 78px,#25898b 80px,#297b8e 82px,#306c90 84px,#376091 86px,#3e5490 88px,#434b8f 90px,#46418a 92px,#483b87 93px)"></i>
<i style="left:182.0px;top:263.3px;width:1px;height:93.2px;background:linear-gradient(#010001 0px,#060109 2px,#180221 4px,#310443 6px,#45065d 8px,#4c0a65 10px,#4e0b69 12px,#4f0b69 14px,#4f0b69 16px,#4f0b69 18px,#4e0b68 20px,#4a0963 22px,#410558 24px,#2a0339 26px,#110117 28px,#040005 30px,#000001 32px,#000000 34px,#010001 36px,#030004 38px,#09010c 40px,#260334 42px,#520d6d 44px,#4b3383 46px,#3b5a91 48px,#2b768f 50px,#259f82 52px,#79c955 54px,#cade27 56px,#d0e026 58px,#d0e026 60px,#d0e026 62px,#d0e026 64px,#d0e026 66px,#d0e026 68px,#d0e026 70px,#d0e026 72px,#c4dd2a 74px,#7bc954 76px,#2ba87c 78px,#25868c 80px,#2a798f 82px,#316b91 84px,#385e91 86px,#3e5490 88px,#434a8f 90px,#47408a 92px,#493a87 93px)"></i>
<i style="left:183.0px;top:263.3px;width:1px;height:93.2px;background:linear-gradient(#010001 0px,#060109 2px,#180221 4px,#310443 6px,#45065d 8px,#4c0a65 10px,#4e0b69 12px,#4f0b6a 14px,#4f0b6a 16px,#4f0b69 18px,#4e0b68 20px,#4a0963 22px,#410558 24px,#2a0339 26px,#110118 28px,#040005 30px,#000001 32px,#000000 34px,#010001 36px,#020003 38px,#070109 40px,#15021c 42px,#38044b 44px,#531874 46px,#46438b 48px,#316a91 50px,#259e82 52px,#8cce49 54px,#e6e420 56px,#e6e420 58px,#e6e420 60px,#e6e420 62px,#e6e420 64px,#e6e420 66px,#e6e420 68px,#e6e420 70px,#e6e420 72px,#e2e321 74px,#97d143 76px,#2dab7a 78px,#26838d 80px,#2b758f 82px,#326791 84px,#3a5b91 86px,#405190 88px,#44488d 90px,#473e89 92px,#493785 93px)"></i>
<i style="left:184.0px;top:263.3px;width:1px;height:93.2px;background:linear-gradient(#010001 0px,#060108 2px,#170220 4px,#300440 6px,#44055b 8px,#4a0963 10px,#4d0a67 12px,#4d0a67 14px,#4d0a67 16px,#4d0a67 18px,#4c0a66 20px,#490861 22px,#3f0555 24px,#290337 26px,#100117 28px,#030005 30px,#000000 32px,#000000 34px,#000000 36px,#010001 38px,#060109 40px,#1f032a 42px,#4a0963 44px,#4f257b 46px,#424c8f 48px,#336691 50px,#2b778f 52px,#259e82 54px,#66c55d 56px,#abd737 58px,#add736 60px,#add736 62px,#add736 64px,#add736 66px,#add736 68px,#add736 70px,#add736 72px,#a6d539 74px,#64c55e 76px,#29a67e 78px,#27828d 80px,#2e7190 82px,#356391 84px,#3c5791 86px,#424e8f 88px,#45448c 90px,#493a87 92px,#4a3383 93px)"></i>
<i style="left:185.0px;top:263.3px;width:1px;height:93.2px;background:linear-gradient(#010001 0px,#060109 2px,#190222 4px,#320443 6px,#45065d 8px,#4c0a66 10px,#4f0b6a 12px,#500c6a 14px,#500c6a 16px,#500c6a 18px,#4e0b69 20px,#4b0964 22px,#420559 24px,#2b033a 26px,#110118 28px,#040005 30px,#000000 32px,#000000 34px,#000001 36px,#020002 38px,#08010a 40px,#230330 42px,#4e0b68 44px,#4c2d80 46px,#3d5791 48px,#2b768f 50px,#239687 52px,#6dc65a 54px,#d4e025 56px,#e4e421 58px,#e4e421 60px,#e4e421 62px,#e4e421 64px,#e4e421 66px,#e4e421 68px,#e4e421 70px,#d7e124 72px,#94d044 74px,#31ae78 76px,#248b8b 78px,#25868c 80px,#2a798f 82px,#306c91 84px,#376091 86px,#3d5691 88px,#424d8f 90px,#46438b 92px,#483d88 93px)"></i>
<i style="left:186.0px;top:263.3px;width:1px;height:93.2px;background:linear-gradient(#010001 0px,#050007 2px,#15021d 4px,#2c043c 6px,#3f0555 8px,#47075f 10px,#490862 12px,#4a0963 14px,#4a0963 16px,#4a0963 18px,#490862 20px,#46065e 22px,#3a044e 24px,#260334 26px,#0f0115 28px,#030004 30px,#000000 32px,#000000 34px,#000000 36px,#020003 38px,#0b0110 40px,#2c043c 42px,#540e70 44px,#4b3081 46px,#3f5290 48px,#326991 50px,#2b768f 52px,#25868c 54px,#30ad79 56px,#72c758 58px,#86cc4c 60px,#86cc4c 62px,#86cc4c 64px,#86cc4c 66px,#86cc4c 68px,#86cc4c 70px,#85cc4d 72px,#5bc363 74px,#2aa77d 76px,#25888c 78px,#297c8e 80px,#2f6f90 82px,#366291 84px,#3d5791 86px,#414e8f 88px,#45458c 90px,#483b87 92px,#4a3584 93px)"></i>
<i style="left:187.0px;top:263.3px;width:1px;height:93.2px;background:linear-gradient(#010001 0px,#050007 2px,#13021b 4px,#290338 6px,#3b0550 8px,#45065c 10px,#47075f 12px,#47075f 14px,#470760 16px,#47075f 18px,#46075e 20px,#43055a 22px,#360449 24px,#240331 26px,#0e0113 28px,#030004 30px,#000000 32px,#000000 34px,#000000 36px,#010001 38px,#040005 40px,#14021c 42px,#3e0553 44px,#521a75 46px,#46418a 48px,#376091 50px,#2b768f 52px,#239587 54px,#6cc65a 56px,#d6e124 58px,#e6e420 60px,#e6e420 62px,#e6e420 64px,#e6e420 66px,#e6e420 68px,#e6e420 70px,#e6e420 72px,#c9de28 74px,#69c65c 76px,#259f82 78px,#27818d 80px,#2c7390 82px,#336691 84px,#3b5a91 86px,#405090 88px,#44478d 90px,#483d88 92px,#4a3785 93px)"></i>
<i style="left:188.0px;top:263.3px;width:1px;height:93.2px;background:linear-gradient(#010001 0px,#050006 2px,#120218 4px,#260334 6px,#360449 8px,#400557 10px,#44055b 12px,#44065b 14px,#44065b 16px,#44065b 18px,#43055a 20px,#3e0553 22px,#320444 24px,#20032d 26px,#0c0111 28px,#030004 30px,#000000 32px,#000000 34px,#020002 36px,#09010d 38px,#270336 40px,#500c6b 42px,#4d2c7f 44px,#405090 46px,#326991 48px,#2b778f 50px,#287f8e 52px,#25878c 54px,#2ca97c 56px,#5dc362 58px,#6bc65b 60px,#6bc65b 62px,#6bc65b 64px,#6bc65b 66px,#6bc65b 68px,#6bc65b 70px,#63c45f 72px,#3db571 74px,#249786 76px,#25868c 78px,#27808d 80px,#2c7490 82px,#326791 84px,#395c91 86px,#3f5290 88px,#434a8e 90px,#47408a 92px,#493a87 93px)"></i>
<i style="left:189.0px;top:263.3px;width:1px;height:93.2px;background:linear-gradient(#000001 0px,#040005 2px,#0f0114 4px,#21032d 6px,#2f0440 8px,#37044b 10px,#3b044f 12px,#3c0550 14px,#3c0550 16px,#3b0550 18px,#3a044e 20px,#350448 22px,#2b043b 24px,#1b0225 26px,#0a010e 28px,#020003 30px,#000000 32px,#000000 34px,#010002 36px,#08010b 38px,#230330 40px,#4c0a65 42px,#4f267b 44px,#434b8f 46px,#356491 48px,#2c7390 50px,#297c8e 52px,#26848d 54px,#28a57e 56px,#66c55e 58px,#87cd4c 60px,#87cd4c 62px,#87cd4c 64px,#87cd4c 66px,#87cd4c 68px,#87cd4c 70px,#72c758 72px,#3cb572 74px,#239388 76px,#26848d 78px,#287e8e 80px,#2d7190 82px,#346591 84px,#3a5a91 86px,#405190 88px,#44488e 90px,#473f89 92px,#493886 93px)"></i>
<i style="left:190.0px;top:263.3px;width:1px;height:93.2px;background:linear-gradient(#000001 0px,#030004 2px,#0c0110 4px,#1a0224 6px,#270336 8px,#2e043e 10px,#310442 12px,#310443 14px,#310443 16px,#310443 18px,#300441 20px,#2c043c 22px,#240332 24px,#16021e 26px,#08010b 28px,#020002 30px,#000000 32px,#000000 34px,#010001 36px,#050007 38px,#190223 40px,#44055b 42px,#521b76 44px,#473f8a 46px,#3a5b91 48px,#306c91 50px,#2b768f 52px,#287e8e 54px,#259d83 56px,#62c45f 58px,#a1d43c 60px,#a2d43c 62px,#a2d43c 64px,#a2d43c 66px,#a2d43c 68px,#a1d43d 70px,#73c857 72px,#32af78 74px,#248c8a 76px,#287f8e 78px,#2a798f 80px,#306c90 82px,#366191 84px,#3d5791 86px,#414e8f 88px,#45458c 90px,#483c88 92px,#4a3584 93px)"></i>
<i style="left:191.0px;top:263.3px;width:1px;height:93.2px;background:linear-gradient(#000000 0px,#020003 2px,#0a010d 4px,#16021e 6px,#22032e 8px,#270336 10px,#2a0339 12px,#2a0339 14px,#2a0339 16px,#2a0339 18px,#290338 20px,#260334 22px,#1e032a 24px,#120218 26px,#070109 28px,#010002 30px,#000000 32px,#000001 34px,#030004 36px,#100117 38px,#360448 40px,#531372 42px,#4a3584 44px,#3d5591 46px,#316b91 48px,#2b768f 50px,#287e8e 52px,#26858c 54px,#2aa77d 56px,#66c55d 58px,#7dca52 60px,#7dca52 62px,#7dca52 64px,#7dca52 66px,#7dca52 68px,#7dca52 70px,#7dca52 72px,#6ec759 74px,#3eb671 76px,#239587 78px,#26838d 80px,#2b768f 82px,#326991 84px,#395c91 86px,#3f5290 88px,#44498e 90px,#473f89 92px,#493986 93px)"></i>
<i style="left:192.0px;top:263.3px;width:1px;height:93.2px;background:linear-gradient(#000000 0px,#020003 2px,#08010a 4px,#110118 6px,#1b0225 8px,#21032d 10px,#230330 12px,#240331 14px,#240331 16px,#230331 18px,#230330 20px,#1f032b 22px,#180221 24px,#0e0113 26px,#050007 28px,#010002 30px,#000000 32px,#010001 34px,#040006 36px,#16021f 38px,#400556 40px,#521975 42px,#473f89 44px,#395e91 46px,#2d7290 48px,#287d8e 50px,#26858c 52px,#239488 54px,#51bf67 56px,#96d143 58px,#9ad241 60px,#9ad241 62px,#9ad241 64px,#9ad241 66px,#9ad241 68px,#9ad241 70px,#9ad241 72px,#8ecf48 74px,#52bf66 76px,#259f82 78px,#25888c 80px,#297b8e 82px,#2f6e90 84px,#366191 86px,#3d5691 88px,#424c8f 90px,#46428b 92px,#483c88 93px)"></i>
<i style="left:193.0px;top:263.3px;width:1px;height:93.2px;background:linear-gradient(#000000 0px,#010002 2px,#060008 4px,#0c0111 6px,#13021b 8px,#180220 10px,#190223 12px,#1a0223 14px,#1a0223 16px,#1a0223 18px,#190222 20px,#17021f 22px,#110118 24px,#0a010e 26px,#040005 28px,#010001 30px,#000000 32px,#010001 34px,#040005 36px,#120219 38px,#39044c 40px,#531473 42px,#4a3685 44px,#3d5691 46px,#306b91 48px,#2b778f 50px,#287e8e 52px,#26858c 54px,#2caa7b 56px,#80cb50 58px,#a6d53a 60px,#a6d53a 62px,#a6d53a 64px,#a6d53a 66px,#a6d53a 68px,#a6d53a 70px,#a4d53a 72px,#73c857 74px,#30ad79 76px,#248b8b 78px,#27828d 80px,#2c758f 82px,#326891 84px,#395c91 86px,#3f5290 88px,#44498e 90px,#473f8a 92px,#493986 93px)"></i>
<i style="left:194.0px;top:263.3px;width:1px;height:93.2px;background:linear-gradient(#000000 0px,#010001 2px,#040005 4px,#09010c 6px,#0e0113 8px,#110117 10px,#120218 12px,#120219 14px,#120219 16px,#120219 18px,#120218 20px,#100116 22px,#0c0111 24px,#07010a 26px,#030004 28px,#010001 30px,#000000 32px,#010001 34px,#050007 36px,#170220 38px,#3f0555 40px,#531774 42px,#493886 44px,#3e5591 46px,#336791 48px,#2e7090 50px,#2b768f 52px,#297c8e 54px,#26848d 56px,#31ae78 58px,#78c955 60px,#8bce4a 62px,#8bce4a 64px,#8bce4a 66px,#8bce4a 68px,#8bce4a 70px,#8bce4a 72px,#78c955 74px,#41b86f 76px,#239687 78px,#27808d 80px,#2d7290 82px,#346591 84px,#3b5991 86px,#414f90 88px,#45468d 90px,#483c88 92px,#4a3684 93px)"></i>
<i style="left:195.0px;top:263.3px;width:1px;height:93.2px;background:linear-gradient(#000000 0px,#010001 2px,#030004 4px,#060008 6px,#09010c 8px,#0b010f 10px,#0c0110 12px,#0c0110 14px,#0c0110 16px,#0c0110 18px,#0c0110 20px,#0b010e 22px,#08010b 24px,#050006 26px,#020003 28px,#000001 30px,#000000 32px,#010002 34px,#08010b 36px,#22032f 38px,#490861 40px,#511e77 42px,#473e89 44px,#3d5691 46px,#356391 48px,#326891 50px,#306c90 52px,#2e7090 54px,#2b768f 56px,#287d8e 58px,#26a380 60px,#4ebe69 62px,#55c065 64px,#55c065 66px,#55c065 68px,#55c065 70px,#55c065 72px,#55c065 74px,#47bb6b 76px,#28a47f 78px,#25888c 80px,#2f6e90 82px,#366191 84px,#3d5591 86px,#434c8f 88px,#46418b 90px,#493785 92px,#4b3182 93px)"></i>
<i style="left:196.0px;top:263.3px;width:1px;height:93.2px;background:linear-gradient(#000000 0px,#000001 2px,#020002 4px,#040005 6px,#060108 8px,#07010a 10px,#08010b 12px,#08010b 14px,#08010b 16px,#08010b 18px,#08010b 20px,#070109 22px,#050007 24px,#030004 26px,#010002 28px,#000000 30px,#010001 32px,#030005 34px,#110117 36px,#330445 38px,#540f70 40px,#4e297d 42px,#44488d 44px,#3b5a91 46px,#366291 48px,#346591 50px,#326891 52px,#316a91 54px,#2f6e90 56px,#2c7390 58px,#287f8e 60px,#25a081 62px,#38b274 64px,#39b374 66px,#39b374 68px,#39b374 70px,#39b374 72px,#39b374 74px,#38b274 76px,#2aa77d 78px,#249089 80px,#2f6d90 82px,#376091 84px,#3e5490 86px,#434a8f 88px,#47408a 90px,#4a3584 92px,#4c2f80 93px)"></i>
<i style="left:197.0px;top:263.3px;width:1px;height:93.2px;background:linear-gradient(#000000 0px,#000000 2px,#010002 4px,#030004 6px,#040006 8px,#050007 10px,#050007 12px,#050008 14px,#050008 16px,#050008 18px,#050007 20px,#050007 22px,#040005 24px,#020003 26px,#010001 28px,#000000 30px,#010001 32px,#040005 34px,#120219 36px,#360449 38px,#541171 40px,#4c2e80 42px,#424e8f 44px,#366191 46px,#316a91 48px,#2f6e90 50px,#2e7090 52px,#2d7390 54px,#2b778f 56px,#297c8e 58px,#25898b 60px,#33af77 62px,#5bc263 64px,#5cc362 66px,#5cc362 68px,#5cc362 70px,#5cc362 72px,#5cc362 74px,#48bc6b 76px,#26a280 78px,#26848d 80px,#2d7290 82px,#346591 84px,#3c5991 86px,#414f90 88px,#45458c 90px,#483b87 92px,#4a3484 93px)"></i>
<i style="left:198.0px;top:263.3px;width:1px;height:93.2px;background:linear-gradient(#000000 0px,#000000 2px,#010001 4px,#020002 6px,#030004 8px,#030004 10px,#030005 12px,#040005 14px,#040005 16px,#040005 18px,#030005 20px,#030004 22px,#020003 24px,#010002 26px,#010001 28px,#000001 30px,#020003 32px,#0b010f 34px,#280337 36px,#4d0a67 38px,#50237a 40px,#45448c 42px,#395c91 44px,#316991 46px,#2f6e90 48px,#2e7090 50px,#2d7290 52px,#2c7490 54px,#2b778f 56px,#297b8e 58px,#27818d 60px,#259c83 62px,#3eb671 64px,#43b96e 66px,#43b96e 68px,#43b96e 70px,#43b96e 72px,#43b96e 74px,#2eac7a 76px,#239588 78px,#27808d 80px,#2d7390 82px,#346591 84px,#3b5991 86px,#415090 88px,#45468d 90px,#483c88 92px,#4a3684 93px)"></i>
<i style="left:199.0px;top:263.3px;width:1px;height:93.2px;background:linear-gradient(#000000 0px,#000000 2px,#000001 4px,#010001 6px,#020002 8px,#020003 10px,#020003 12px,#020003 14px,#020003 16px,#020003 18px,#020003 20px,#020003 22px,#010002 24px,#010001 26px,#000001 28px,#010001 30px,#040005 32px,#110118 34px,#340447 36px,#541071 38px,#4d2c7f 40px,#424c8f 42px,#366191 44px,#306b91 46px,#2e6f90 48px,#2e7190 50px,#2d7290 52px,#2c748f 54px,#2a788f 56px,#287d8e 58px,#26838d 60px,#28a57e 62px,#44ba6d 64px,#45ba6d 66px,#45ba6d 68px,#45ba6d 70px,#45ba6d 72px,#45ba6d 74px,#35b076 76px,#249985 78px,#27818d 80px,#2c7490 82px,#336691 84px,#3b5a91 86px,#405090 88px,#45468d 90px,#483d88 92px,#4a3685 93px)"></i>
<i style="left:200.0px;top:263.3px;width:1px;height:93.2px;background:linear-gradient(#000000 0px,#000000 2px,#000000 4px,#010001 6px,#010001 8px,#010002 10px,#010002 12px,#010002 14px,#010002 16px,#010002 18px,#010002 20px,#010002 22px,#010001 24px,#010001 26px,#000000 28px,#010001 30px,#060108 32px,#1a0223 34px,#410557 36px,#531673 38px,#4a3483 40px,#405190 42px,#356391 44px,#316b91 46px,#2f6e90 48px,#2e6f90 50px,#2e7190 52px,#2d7390 54px,#2b778f 56px,#297c8e 58px,#25878c 60px,#2ba97c 62px,#45ba6d 64px,#45ba6d 66px,#45ba6d 68px,#45ba6d 70px,#45ba6d 72px,#45ba6d 74px,#3cb572 76px,#26a180 78px,#25878c 80px,#2c7490 82px,#336691 84px,#3b5991 86px,#414f90 88px,#45458c 90px,#483c88 92px,#4a3584 93px)"></i>
<i style="left:201.0px;top:263.3px;width:1px;height:93.2px;background:linear-gradient(#000000 0px,#000000 2px,#000000 4px,#000000 6px,#010001 8px,#010001 10px,#010001 12px,#010001 14px,#010001 16px,#010001 18px,#010001 20px,#010001 22px,#010001 24px,#000000 26px,#000000 28px,#020002 30px,#09010c 32px,#22032f 34px,#480860 36px,#521c76 38px,#483d88 40px,#3c5891 42px,#326991 44px,#2f6f90 46px,#2d7190 48px,#2d7290 50px,#2c7490 52px,#2b768f 54px,#297b8e 56px,#27808d 58px,#239289 60px,#40b86f 62px,#59c263 64px,#59c263 66px,#59c263 68px,#59c263 70px,#59c263 72px,#58c164 74px,#3db671 76px,#249a84 78px,#27828d 80px,#2c758f 82px,#326791 84px,#3a5b91 86px,#405190 88px,#44478d 90px,#483d89 92px,#493785 93px)"></i>
<i style="left:202.0px;top:263.3px;width:1px;height:93.2px;background:linear-gradient(#000000 0px,#000000 2px,#000000 4px,#000000 6px,#000000 8px,#000001 10px,#000001 12px,#000001 14px,#000001 16px,#000001 18px,#000001 20px,#000001 22px,#000000 24px,#000000 26px,#010001 28px,#050006 30px,#15021d 32px,#3a044e 34px,#531272 36px,#4c2e80 38px,#414f90 40px,#346591 42px,#2f6e90 44px,#2d7290 46px,#2c7390 48px,#2c7490 50px,#2c748f 52px,#2b768f 54px,#297a8f 56px,#287f8e 58px,#26858c 60px,#29a67d 62px,#4bbd6a 64px,#4dbd69 66px,#4dbd69 68px,#4dbd69 70px,#4dbd69 72px,#49bc6a 74px,#2eac7a 76px,#239289 78px,#27828d 80px,#2b758f 82px,#326891 84px,#3a5c91 86px,#3f5290 88px,#44488e 90px,#473e89 92px,#493886 93px)"></i>
<i style="left:203.0px;top:263.3px;width:1px;height:93.2px;background:linear-gradient(#000000 0px,#000000 2px,#000000 4px,#000000 6px,#000000 8px,#000000 10px,#000000 12px,#000000 14px,#000000 16px,#000000 18px,#000000 20px,#000000 22px,#000000 24px,#000000 26px,#020002 28px,#09010c 30px,#23032f 32px,#470760 34px,#521b75 36px,#493a87 38px,#3d5691 40px,#336791 42px,#2f6e90 44px,#2e7090 46px,#2e7090 48px,#2e7090 50px,#2e7190 52px,#2d7290 54px,#2c758f 56px,#2a798f 58px,#287e8e 60px,#248d8a 62px,#2fad79 64px,#42b96e 66px,#42b96e 68px,#42b96e 70px,#42b96e 72px,#42b96e 74px,#42b96e 76px,#31ae78 78px,#239687 80px,#2a788f 82px,#316a91 84px,#395d91 86px,#3f5290 88px,#44488d 90px,#483d89 92px,#4a3785 93px)"></i>
<i style="left:204.0px;top:263.3px;width:1px;height:93.2px;background:linear-gradient(#000000 0px,#000000 2px,#000000 4px,#000000 6px,#000000 8px,#000000 10px,#000000 12px,#000000 14px,#000000 16px,#000000 18px,#000000 20px,#000000 22px,#000000 24px,#010001 26px,#030004 28px,#0f0115 30px,#2f0440 32px,#510d6d 34px,#4f267b 36px,#45468d 38px,#385f91 40px,#306c90 42px,#2e7190 44px,#2d7290 46px,#2d7290 48px,#2d7290 50px,#2d7290 52px,#2c7390 54px,#2b768f 56px,#297a8f 58px,#287f8e 60px,#26858c 62px,#29a67d 64px,#48bc6b 66px,#49bc6b 68px,#49bc6b 70px,#49bc6b 72px,#49bc6b 74px,#48bc6b 76px,#30ad79 78px,#239388 80px,#297a8f 82px,#306c91 84px,#385e91 86px,#3f5390 88px,#44498e 90px,#473f89 92px,#493886 93px)"></i>
<i style="left:205.0px;top:263.3px;width:1px;height:93.2px;background:linear-gradient(#000000 0px,#000000 2px,#000000 4px,#000000 6px,#000000 8px,#000000 10px,#000000 12px,#000000 14px,#000000 16px,#000000 18px,#000000 20px,#000000 22px,#000000 24px,#010002 26px,#08010b 28px,#20032b 30px,#45065d 32px,#521975 34px,#493886 36px,#3d5691 38px,#316b91 40px,#2c7390 42px,#2b768f 44px,#2b768f 46px,#2b768f 48px,#2b758f 50px,#2b758f 52px,#2b768f 54px,#2a788f 56px,#297c8e 58px,#27808d 60px,#25868c 62px,#259d83 64px,#44ba6d 66px,#4abc6a 68px,#4abc6a 70px,#4abc6a 72px,#4abc6a 74px,#3db671 76px,#26a081 78px,#25878c 80px,#297a8f 82px,#306d90 84px,#376091 86px,#3e5590 88px,#434b8f 90px,#46418a 92px,#483b87 93px)"></i>
<i style="left:206.0px;top:263.3px;width:1px;height:93.2px;background:linear-gradient(#000000 0px,#000000 2px,#000000 4px,#000000 6px,#000000 8px,#000000 10px,#000000 12px,#000000 14px,#000000 16px,#000000 18px,#000000 20px,#000000 22px,#000001 24px,#020003 26px,#0c0110 28px,#280337 30px,#4b0965 32px,#511e77 34px,#483d88 36px,#3c5891 38px,#326891 40px,#2f6e90 42px,#2e6f90 44px,#2e7090 46px,#2e6f90 48px,#2f6f90 50px,#2e6f90 52px,#2d7290 54px,#2b768f 56px,#297c8e 58px,#26838d 60px,#25898b 62px,#248e8a 64px,#2dab7b 66px,#3eb670 68px,#3eb671 70px,#3db571 72px,#3db571 74px,#34af77 76px,#259c83 78px,#27828d 80px,#2c758f 82px,#336791 84px,#3a5b91 86px,#405090 88px,#44478d 90px,#483d88 92px,#4a3685 93px)"></i>
<i style="left:207.0px;top:263.3px;width:1px;height:93.2px;background:linear-gradient(#000000 0px,#000000 2px,#000000 4px,#000000 6px,#000000 8px,#000000 10px,#000000 12px,#000000 14px,#000000 16px,#000000 18px,#000000 20px,#000000 22px,#010001 24px,#050007 26px,#15021d 28px,#38044b 30px,#540f71 32px,#4e297d 34px,#44498e 36px,#376091 38px,#306b91 40px,#2f6f90 42px,#2e7090 44px,#2e6f90 46px,#2f6f90 48px,#2f6e90 50px,#2e7090 52px,#2d7390 54px,#2a788f 56px,#287e8e 58px,#26848d 60px,#25898b 62px,#248d8a 64px,#2daa7b 66px,#3cb472 68px,#3bb472 70px,#3bb473 72px,#3ab473 74px,#3ab373 76px,#2aa77d 78px,#249089 80px,#2a778f 82px,#316991 84px,#395c91 86px,#405190 88px,#44478d 90px,#483d88 92px,#4a3685 93px)"></i>
<i style="left:208.0px;top:263.3px;width:1px;height:93.2px;background:linear-gradient(#000000 0px,#000000 2px,#000000 4px,#000000 6px,#000000 8px,#000000 10px,#000000 12px,#000000 14px,#000000 16px,#000000 18px,#000000 20px,#000000 22px,#020003 24px,#0c0110 26px,#270336 28px,#4b0964 30px,#511e77 32px,#473e89 34px,#3a5b91 36px,#2f6e90 38px,#2b758f 40px,#2a788f 42px,#2a788f 44px,#2b778f 46px,#2b768f 48px,#2b768f 50px,#2a788f 52px,#297c8e 54px,#27818d 56px,#25888c 58px,#248d8a 60px,#239189 62px,#26a280 64px,#46bb6c 66px,#47bb6b 68px,#47bb6c 70px,#46bb6c 72px,#46bb6c 74px,#44ba6d 76px,#2dab7b 78px,#239189 80px,#287e8e 82px,#2e7090 84px,#356291 86px,#3d5691 88px,#424c8f 90px,#46428b 92px,#483c88 93px)"></i>
<i style="left:209.0px;top:263.3px;width:1px;height:93.2px;background:linear-gradient(#000000 0px,#000000 2px,#000000 4px,#000000 6px,#000000 8px,#000000 10px,#000000 12px,#000000 14px,#000000 16px,#000000 18px,#000000 20px,#010001 22px,#060008 24px,#180220 26px,#3c0551 28px,#531372 30px,#4c2e80 32px,#415090 34px,#316a91 36px,#2a788f 38px,#297b8e 40px,#297c8e 42px,#297c8e 44px,#297b8e 46px,#297a8f 48px,#297b8e 50px,#287d8e 52px,#27818d 54px,#25878c 56px,#248c8a 58px,#249089 60px,#239488 62px,#29a67e 64px,#4bbd6a 66px,#4bbd6a 68px,#4bbd6a 70px,#4bbd6a 72px,#4bbd6a 74px,#40b770 76px,#26a280 78px,#248c8a 80px,#27808d 82px,#2d7390 84px,#346591 86px,#3b5991 88px,#414f90 90px,#45458c 92px,#473f89 93px)"></i>
<i style="left:210.0px;top:263.3px;width:1px;height:93.2px;background:linear-gradient(#000000 0px,#000000 2px,#000000 4px,#000000 6px,#000000 8px,#000000 10px,#000000 12px,#000000 14px,#000000 16px,#000000 18px,#000000 20px,#010001 22px,#050008 24px,#17021f 26px,#3a044e 28px,#541171 30px,#4d2a7e 32px,#434b8f 34px,#356491 36px,#2e7190 38px,#2c758f 40px,#2b768f 42px,#2b758f 44px,#2c748f 46px,#2c7490 48px,#2c748f 50px,#2a778f 52px,#297c8e 54px,#27808d 56px,#26838d 58px,#25868c 60px,#25898b 62px,#248b8b 64px,#2daa7b 66px,#4cbd69 68px,#4cbd69 70px,#4cbd69 72px,#4cbd69 74px,#3fb770 76px,#26a180 78px,#25878c 80px,#297a8f 82px,#306c90 84px,#375f91 86px,#3e5490 88px,#434b8f 90px,#47408a 92px,#493a87 93px)"></i>
<i style="left:211.0px;top:263.3px;width:1px;height:93.2px;background:linear-gradient(#000000 0px,#000000 2px,#000000 4px,#000000 6px,#000000 8px,#000000 10px,#000000 12px,#000000 14px,#000000 16px,#000000 18px,#000001 20px,#030004 22px,#0c0111 24px,#280336 26px,#490862 28px,#521a75 30px,#4a3584 32px,#3f5290 34px,#356391 36px,#316a91 38px,#306c91 40px,#306c91 42px,#306b91 44px,#316a91 46px,#316a91 48px,#306b91 50px,#2f6e90 52px,#2d7290 54px,#2c758f 56px,#2b768f 58px,#2a778f 60px,#2a788f 62px,#297a8f 64px,#287e8e 66px,#239587 68px,#29a67e 70px,#29a67e 72px,#29a67e 74px,#29a67e 76px,#259b84 78px,#25878c 80px,#2d7290 82px,#346491 84px,#3c5891 86px,#414e8f 88px,#45448c 90px,#493a87 92px,#4b3383 93px)"></i>
<i style="left:212.0px;top:263.3px;width:1px;height:93.2px;background:linear-gradient(#000000 0px,#000000 2px,#000000 4px,#000000 6px,#000000 8px,#000000 10px,#000000 12px,#000000 14px,#000000 16px,#000000 18px,#010001 20px,#050007 22px,#15021c 24px,#350448 26px,#530e6f 28px,#4f257b 30px,#45448c 32px,#395d91 34px,#306c91 36px,#2e7190 38px,#2d7290 40px,#2d7290 42px,#2d7190 44px,#2e7190 46px,#2e7090 48px,#2d7290 50px,#2c748f 52px,#2a778f 54px,#2a798f 56px,#297b8e 58px,#297c8e 60px,#287f8e 62px,#26838d 64px,#239588 66px,#2eac7a 68px,#30ad79 70px,#30ad79 72px,#30ad79 74px,#2fad79 76px,#27a47f 78px,#248e8a 80px,#2a788f 82px,#316a91 84px,#395d91 86px,#3f5290 88px,#44488e 90px,#473e89 92px,#493785 93px)"></i>
<i style="left:213.0px;top:263.3px;width:1px;height:93.2px;background:linear-gradient(#000000 0px,#000000 2px,#000000 4px,#000000 6px,#000000 8px,#000000 10px,#000000 12px,#000000 14px,#000000 16px,#000000 18px,#010002 20px,#08010b 22px,#1d0328 24px,#420559 26px,#531473 28px,#4c2d7f 30px,#424d8f 32px,#346591 34px,#2d7190 36px,#2c758f 38px,#2b768f 40px,#2b768f 42px,#2b768f 44px,#2c758f 46px,#2c758f 48px,#2b768f 50px,#2a778f 52px,#2a798f 54px,#297b8e 56px,#287d8e 58px,#27808d 60px,#26858c 62px,#239289 64px,#34af77 66px,#3bb472 68px,#3bb472 70px,#3bb472 72px,#3bb472 74px,#39b373 76px,#28a57e 78px,#248d8a 80px,#297b8e 82px,#2f6d90 84px,#376091 86px,#3e5490 88px,#434b8f 90px,#47408a 92px,#493a87 93px)"></i>
<i style="left:214.0px;top:263.3px;width:1px;height:93.2px;background:linear-gradient(#000000 0px,#000000 2px,#000000 4px,#000000 6px,#000000 8px,#000000 10px,#000000 12px,#000000 14px,#000000 16px,#010001 18px,#030005 20px,#100116 22px,#2e043e 24px,#4e0b68 26px,#511f78 28px,#473e89 30px,#3a5b91 32px,#2e6f90 34px,#2b778f 36px,#2a798f 38px,#297a8f 40px,#297a8f 42px,#297a8f 44px,#2a798f 46px,#2a798f 48px,#2a788f 50px,#2a788f 52px,#2a798f 54px,#297a8f 56px,#287d8e 58px,#27828d 60px,#25878c 62px,#249985 64px,#39b374 66px,#3bb472 68px,#3bb472 70px,#3bb472 72px,#3bb472 74px,#37b275 76px,#26a280 78px,#258a8b 80px,#287d8e 82px,#2e6f90 84px,#366291 86px,#3d5691 88px,#424d8f 90px,#46428b 92px,#483c88 93px)"></i>
<i style="left:215.0px;top:263.3px;width:1px;height:93.2px;background:linear-gradient(#000000 0px,#000000 2px,#000000 4px,#000000 6px,#000000 8px,#000000 10px,#000000 12px,#000000 14px,#000000 16px,#020002 18px,#09010c 20px,#1f032b 22px,#43055a 24px,#531473 26px,#4c2e80 28px,#414e8f 30px,#336791 32px,#2c7390 34px,#2a778f 36px,#2a798f 38px,#297a8f 40px,#297a8f 42px,#297a8f 44px,#2a798f 46px,#2a788f 48px,#2b768f 50px,#2c7490 52px,#2c7390 54px,#2c748f 56px,#2b778f 58px,#297a8f 60px,#287f8e 62px,#26858c 64px,#249089 66px,#2ca97c 68px,#2dab7a 70px,#2dab7a 72px,#2dab7a 74px,#2daa7b 76px,#259f82 78px,#25898b 80px,#297c8e 82px,#2f6f90 84px,#366291 86px,#3d5691 88px,#424c8f 90px,#46428b 92px,#483b88 93px)"></i>
<i style="left:216.0px;top:263.3px;width:1px;height:93.2px;background:linear-gradient(#000000 0px,#000000 2px,#000000 4px,#000000 6px,#000000 8px,#000000 10px,#000000 12px,#000000 14px,#000000 16px,#020003 18px,#0a010e 20px,#22032f 22px,#45065c 24px,#531573 26px,#4c2e80 28px,#424d8f 30px,#346591 32px,#2e6f90 34px,#2c7390 36px,#2c758f 38px,#2b768f 40px,#2a778f 42px,#2a778f 44px,#2b768f 46px,#2d7290 48px,#2f6e90 50px,#316b91 52px,#316a91 54px,#306b91 56px,#2f6e90 58px,#2d7290 60px,#2b778f 62px,#297c8e 64px,#27828d 66px,#239488 68px,#2dab7b 70px,#2eac7a 72px,#2eac7a 74px,#2eac7a 76px,#28a57e 78px,#249089 80px,#297a8f 82px,#306c91 84px,#385f91 86px,#3f5390 88px,#44498e 90px,#473f89 92px,#493886 93px)"></i>
<i style="left:217.0px;top:263.3px;width:1px;height:93.2px;background:linear-gradient(#000000 0px,#000000 2px,#000000 4px,#000000 6px,#000000 8px,#000000 10px,#000000 12px,#000000 14px,#010001 16px,#030005 18px,#0f0114 20px,#2b033a 22px,#4b0964 24px,#521a75 26px,#4a3484 28px,#3f5290 30px,#336691 32px,#2f6e90 34px,#2d7190 36px,#2d7390 38px,#2c758f 40px,#2b768f 42px,#2b768f 44px,#2d7390 46px,#2f6e90 48px,#326891 50px,#356391 52px,#366291 54px,#346591 56px,#326991 58px,#2f6e90 60px,#2d7390 62px,#2a798f 64px,#287f8e 66px,#248f8a 68px,#2aa77d 70px,#2ca97c 72px,#2ca97c 74px,#2ca97c 76px,#29a67e 78px,#239388 80px,#2a788f 82px,#316a91 84px,#395d91 86px,#3f5290 88px,#44488d 90px,#483d89 92px,#4a3685 93px)"></i>
<i style="left:218.0px;top:263.3px;width:1px;height:93.2px;background:linear-gradient(#000000 0px,#000000 2px,#000000 4px,#000000 6px,#000000 8px,#000000 10px,#000000 12px,#000000 14px,#010001 16px,#040005 18px,#100116 20px,#2c043c 22px,#4b0965 24px,#521a75 26px,#4a3584 28px,#3f5290 30px,#336691 32px,#2f6e90 34px,#2e7190 36px,#2c7390 38px,#2b758f 40px,#2b778f 42px,#2b768f 44px,#2d7190 46px,#316a91 48px,#366291 50px,#395d91 52px,#395d91 54px,#376091 56px,#336691 58px,#306c91 60px,#2d7190 62px,#2a788f 64px,#287e8e 66px,#239388 68px,#32ae78 70px,#36b175 72px,#36b175 74px,#36b175 76px,#2fac7a 78px,#249a85 80px,#2a798f 82px,#316a91 84px,#395d91 86px,#405190 88px,#44478d 90px,#483d88 92px,#4a3684 93px)"></i>
<i style="left:219.0px;top:263.3px;width:1px;height:93.2px;background:linear-gradient(#000000 0px,#000000 2px,#000000 4px,#000000 6px,#000000 8px,#000000 10px,#000000 12px,#000000 14px,#020003 16px,#0a010d 18px,#21032d 20px,#44055b 22px,#531472 24px,#4d2b7e 26px,#434b8f 28px,#346491 30px,#2d7190 32px,#2b768f 34px,#2a798f 36px,#297b8e 38px,#287e8e 40px,#287e8e 42px,#297c8e 44px,#2b768f 46px,#306c91 48px,#366291 50px,#395d91 52px,#385e91 54px,#356391 56px,#316a91 58px,#2d7290 60px,#2a788f 62px,#287f8e 64px,#25868c 66px,#25a081 68px,#39b374 70px,#39b374 72px,#39b374 74px,#2eab7a 76px,#249886 78px,#26858c 80px,#2a798f 82px,#306b91 84px,#385f91 86px,#3e5490 88px,#434a8f 90px,#47408a 92px,#493a87 93px)"></i>
<i style="left:220.0px;top:263.3px;width:1px;height:93.2px;background:linear-gradient(#000000 0px,#000000 2px,#000000 4px,#000000 6px,#000000 8px,#000000 10px,#000000 12px,#010001 14px,#050007 16px,#14021c 18px,#330445 20px,#500c6b 22px,#511f78 24px,#483d88 26px,#3b5991 28px,#2f6d90 30px,#2c758f 32px,#2a788f 34px,#297b8e 36px,#287e8e 38px,#27808d 40px,#287f8e 42px,#297b8e 44px,#2d7390 46px,#336791 48px,#395d91 50px,#3c5891 52px,#3b5a91 54px,#376091 56px,#326991 58px,#2e7190 60px,#2a788f 62px,#287e8e 64px,#26848d 66px,#239488 68px,#2caa7b 70px,#2dab7b 72px,#2dab7b 74px,#29a57e 76px,#239388 78px,#26858c 80px,#2a798f 82px,#306b91 84px,#385f91 86px,#3e5490 88px,#434a8f 90px,#47408a 92px,#493a87 93px)"></i>
<i style="left:221.0px;top:263.3px;width:1px;height:93.2px;background:linear-gradient(#000000 0px,#000000 2px,#000000 4px,#000000 6px,#000000 8px,#000000 10px,#000000 12px,#020003 14px,#09010c 16px,#1f032a 18px,#410557 20px,#541171 22px,#4e277c 24px,#45458c 26px,#376091 28px,#2f6e90 30px,#2c7490 32px,#2a778f 34px,#297a8f 36px,#287d8e 38px,#287e8e 40px,#287d8e 42px,#2b778f 44px,#306c91 46px,#375f91 48px,#3d5691 50px,#3f5290 52px,#3e5490 54px,#3a5b91 56px,#346491 58px,#306c90 60px,#2d7390 62px,#2a798f 64px,#287f8e 66px,#26858c 68px,#26a081 70px,#28a47f 72px,#28a47f 74px,#27a37f 76px,#239687 78px,#26838d 80px,#2a778f 82px,#316a91 84px,#395d91 86px,#3f5290 88px,#44488e 90px,#473e89 92px,#493886 93px)"></i>
<i style="left:222.0px;top:263.3px;width:1px;height:93.2px;background:linear-gradient(#000000 0px,#000000 2px,#000000 4px,#000000 6px,#000000 8px,#000000 10px,#000000 12px,#010002 14px,#070109 16px,#180222 18px,#38044c 20px,#520d6e 22px,#512078 24px,#483d89 26px,#3b5991 28px,#306b91 30px,#2d7390 32px,#2a778f 34px,#297b8e 36px,#287d8e 38px,#287e8e 40px,#297a8f 42px,#2d7290 44px,#336691 46px,#3b5a91 48px,#405190 50px,#424d8f 52px,#405090 54px,#3c5891 56px,#366191 58px,#316a91 60px,#2e7190 62px,#2b778f 64px,#287d8e 66px,#25878c 68px,#2ba97c 70px,#36b175 72px,#36b175 74px,#2eac7a 76px,#249a85 78px,#27828d 80px,#2b758f 82px,#326891 84px,#3a5b91 86px,#405190 88px,#44478d 90px,#483d89 92px,#4a3785 93px)"></i>
<i style="left:223.0px;top:263.3px;width:1px;height:93.2px;background:linear-gradient(#000000 0px,#000000 2px,#000000 4px,#000000 6px,#000000 8px,#000000 10px,#000001 12px,#020003 14px,#0a010e 16px,#21032e 18px,#43055a 20px,#531272 22px,#4e277c 24px,#45468d 26px,#376091 28px,#2e6f90 30px,#2b768f 32px,#297a8f 34px,#287e8e 36px,#287f8e 38px,#287e8e 40px,#297a8f 42px,#2e7090 44px,#356391 46px,#3d5691 48px,#424e8f 50px,#434b8f 52px,#414e90 54px,#3d5691 56px,#366191 58px,#316a91 60px,#2d7290 62px,#2a798f 64px,#27808d 66px,#239289 68px,#35b076 70px,#39b373 72px,#39b373 74px,#35b076 76px,#26a181 78px,#25888c 80px,#2a778f 82px,#316991 84px,#395d91 86px,#3f5290 88px,#44488e 90px,#473e89 92px,#493785 93px)"></i>
<i style="left:224.0px;top:263.3px;width:1px;height:93.2px;background:linear-gradient(#000000 0px,#000000 2px,#000000 4px,#000000 6px,#000000 8px,#000000 10px,#010001 12px,#060008 14px,#15021d 16px,#330444 18px,#4f0b69 20px,#521c76 22px,#4a3685 24px,#3e5490 26px,#316a91 28px,#2c7390 30px,#2a798f 32px,#297c8e 34px,#287f8e 36px,#287f8e 38px,#287d8e 40px,#2b778f 42px,#306c90 44px,#375f91 46px,#3f5390 48px,#434a8f 50px,#44478d 52px,#434c8f 54px,#3e5490 56px,#385f91 58px,#316991 60px,#2d7190 62px,#2a798f 64px,#27808d 66px,#239388 68px,#2ca97c 70px,#2caa7b 72px,#2caa7b 74px,#2ba97c 76px,#259d83 78px,#25878c 80px,#2b778f 82px,#326991 84px,#395c91 86px,#405190 88px,#44488d 90px,#483d89 92px,#493785 93px)"></i>
<i style="left:225.0px;top:263.3px;width:1px;height:93.2px;background:linear-gradient(#000000 0px,#000000 2px,#000000 4px,#000000 6px,#000000 8px,#000000 10px,#010001 12px,#050006 14px,#120218 16px,#2e043f 18px,#4c0a66 20px,#521a75 22px,#4a3483 24px,#3e5490 26px,#2f6d90 28px,#297a8f 30px,#287f8e 32px,#26838d 34px,#26858c 36px,#26848d 38px,#27808d 40px,#2a798f 42px,#2f6f90 44px,#366191 46px,#3e5490 48px,#434b8f 50px,#44488e 52px,#424d8f 54px,#3d5791 56px,#356391 58px,#2e6f90 60px,#2a798f 62px,#27828d 64px,#239388 66px,#45ba6d 68px,#52bf66 70px,#52bf66 72px,#4ebe68 74px,#31ae79 76px,#239388 78px,#26858c 80px,#2a788f 82px,#316b91 84px,#385f91 86px,#3e5490 88px,#434b8f 90px,#46418a 92px,#483a87 93px)"></i>
<i style="left:226.0px;top:263.3px;width:1px;height:93.2px;background:linear-gradient(#000000 0px,#000000 2px,#000000 4px,#000000 6px,#000000 8px,#000001 10px,#020003 12px,#0b010f 14px,#22032e 16px,#420559 18px,#541171 20px,#4f257b 22px,#46438b 24px,#375f91 26px,#2e7190 28px,#2a798f 30px,#287d8e 32px,#287f8e 34px,#27808d 36px,#287d8e 38px,#2a798f 40px,#2d7190 42px,#336791 44px,#3b5a91 46px,#414e90 48px,#45458c 50px,#46428b 52px,#44478d 54px,#405190 56px,#395d91 58px,#326991 60px,#2d7290 62px,#297b8e 64px,#27828d 66px,#26a181 68px,#32ae78 70px,#32ae78 72px,#2eac7a 74px,#259c83 76px,#25868c 78px,#287f8e 80px,#2d7290 82px,#346591 84px,#3b5a91 86px,#405090 88px,#44478d 90px,#483d88 92px,#4a3785 93px)"></i>
<i style="left:227.0px;top:263.3px;width:1px;height:93.2px;background:linear-gradient(#000000 0px,#000000 2px,#000000 4px,#000000 6px,#000000 8px,#010002 10px,#060008 12px,#14021c 14px,#310443 16px,#4d0b68 18px,#521b75 20px,#4a3483 22px,#3e5390 24px,#306c90 26px,#2a788f 28px,#287e8e 30px,#27818d 32px,#27828d 34px,#27818d 36px,#287d8e 38px,#2a798f 40px,#2d7190 42px,#336791 44px,#3b5a91 46px,#414e8f 48px,#45448c 50px,#46418a 52px,#45468d 54px,#405190 56px,#385e91 58px,#316a91 60px,#2c748f 62px,#287d8e 64px,#26848d 66px,#26a280 68px,#2dab7b 70px,#2dab7b 72px,#2aa87d 74px,#249786 76px,#26858c 78px,#27808d 80px,#2c7490 82px,#336791 84px,#3a5b91 86px,#405190 88px,#44488e 90px,#473e89 92px,#493886 93px)"></i>
<i style="left:228.0px;top:263.3px;width:1px;height:93.2px;background:linear-gradient(#000000 0px,#000000 2px,#000000 4px,#000000 6px,#000000 8px,#010002 10px,#070109 12px,#170220 14px,#360449 16px,#500c6b 18px,#511e77 20px,#493987 22px,#3b5991 24px,#2d7390 26px,#287e8e 28px,#26838d 30px,#26858c 32px,#26858c 34px,#27828d 36px,#287f8e 38px,#297a8f 40px,#2d7390 42px,#326991 44px,#3a5c91 46px,#414f90 48px,#45458c 50px,#46418b 52px,#44478d 54px,#3f5390 56px,#376191 58px,#2f6e90 60px,#2a798f 62px,#27828d 64px,#249089 66px,#37b275 68px,#3fb770 70px,#3fb770 72px,#3fb670 74px,#2daa7b 76px,#239388 78px,#25868c 80px,#2a798f 82px,#306c91 84px,#385f91 86px,#3e5490 88px,#434b8f 90px,#46418a 92px,#483b87 93px)"></i>
<i style="left:229.0px;top:263.3px;width:1px;height:93.2px;background:linear-gradient(#000000 0px,#000000 2px,#000000 4px,#000000 6px,#010001 8px,#050007 10px,#120219 12px,#2e043e 14px,#4b0965 16px,#521975 18px,#4b3181 20px,#405190 22px,#2f6e90 24px,#297c8e 26px,#27828d 28px,#26858c 30px,#25868c 32px,#26848d 34px,#27818d 36px,#287d8e 38px,#2a798f 40px,#2d7290 42px,#326891 44px,#3a5b91 46px,#414e90 48px,#45448c 50px,#47408a 52px,#45468d 54px,#3f5290 56px,#376091 58px,#2f6e90 60px,#2a798f 62px,#27828d 64px,#258a8b 66px,#29a57e 68px,#2ba87c 70px,#2ba87c 72px,#2ba87c 74px,#2ba87c 76px,#26a081 78px,#248c8a 80px,#287d8e 82px,#2e6f90 84px,#366291 86px,#3d5691 88px,#424c8f 90px,#46428b 92px,#483b88 93px)"></i>
<i style="left:230.0px;top:263.3px;width:1px;height:93.2px;background:linear-gradient(#000000 0px,#000000 2px,#000000 4px,#000000 6px,#010001 8px,#050006 10px,#120218 12px,#2d043d 14px,#4a0963 16px,#531874 18px,#4c2f80 20px,#405090 22px,#306d90 24px,#297c8e 26px,#27818d 28px,#26838d 30px,#27828d 32px,#27808d 34px,#297c8e 36px,#2a798f 38px,#2c758f 40px,#2f6f90 42px,#336691 44px,#3c5991 46px,#424c8f 48px,#46418a 50px,#473e89 52px,#45448c 54px,#405090 56px,#385e91 58px,#306b91 60px,#2b768f 62px,#287f8e 64px,#25898b 66px,#2ba87c 68px,#32af78 70px,#32af78 72px,#32af78 74px,#32af78 76px,#2eac7a 78px,#259b84 80px,#287d8e 82px,#2e6f90 84px,#366291 86px,#3d5591 88px,#434b8f 90px,#47408a 92px,#493a87 93px)"></i>
<i style="left:231.0px;top:263.3px;width:1px;height:93.2px;background:linear-gradient(#000000 0px,#000000 2px,#000000 4px,#010001 6px,#030004 8px,#0b0110 10px,#22032f 12px,#420558 14px,#541071 16px,#50227a 18px,#47408a 20px,#385e91 22px,#2d7290 24px,#297a8f 26px,#287d8e 28px,#297c8e 30px,#297a8f 32px,#2a778f 34px,#2c748f 36px,#2d7190 38px,#2f6e90 40px,#326891 42px,#376091 44px,#3e5490 46px,#44478d 48px,#483c88 50px,#493986 52px,#473f89 54px,#434b8f 56px,#3c5891 58px,#356491 60px,#2f6e90 62px,#2b768f 64px,#287d8e 66px,#248f8a 68px,#259c84 70px,#259c84 72px,#259c84 74px,#259c84 76px,#249886 78px,#25898b 80px,#2b758f 82px,#326891 84px,#3a5b91 86px,#405090 88px,#45468d 90px,#483c88 92px,#4a3584 93px)"></i>
<i style="left:434.7px;top:262.8px;width:1.5px;height:93.3px;background:linear-gradient(#43055a 0px,#4c0a66 2px,#531674 4px,#531673 6px,#4f0b69 8px,#540e70 10px,#531372 12px,#510d6d 14px,#4e0b69 16px,#44065b 18px,#3f0555 20px,#540e70 22px,#520d6d 24px,#46075e 26px,#531372 28px,#4a0963 30px,#110118 32px,#030004 34px,#350447 36px,#37044b 38px,#47075f 40px,#540e70 42px,#490862 44px,#43055b 46px,#38044c 48px,#290338 50px,#360449 52px,#37044a 54px,#239189 56px,#239189 58px,#239388 60px,#249786 62px,#259c83 64px,#26a180 66px,#2aa77d 68px,#2eac7a 70px,#37b175 72px,#40b76f 74px,#4abd6a 76px,#55c165 78px,#63c45f 80px,#74c857 82px,#86cc4c 84px,#9ad241 86px,#abd637 88px,#b3d933 90px,#b3d933 92px,#b3d933 93px)"></i>
<i style="left:436.2px;top:262.8px;width:1.5px;height:93.3px;background:linear-gradient(#541171 0px,#510c6c 2px,#4b0964 4px,#541171 6px,#4d0b67 8px,#4c0a66 10px,#530e6f 12px,#531372 14px,#4e0b68 16px,#4e0b68 18px,#400556 20px,#3a044f 22px,#4a0964 24px,#4f0b6a 26px,#541071 28px,#541171 30px,#360449 32px,#1a0224 34px,#3c0551 36px,#470760 38px,#360449 40px,#47075f 42px,#530d6f 44px,#4b0965 46px,#44055b 48px,#180220 50px,#1a0223 52px,#260334 54px,#240331 56px,#1c0226 58px,#0f0115 60px,#000000 62px,#000000 64px,#000000 66px,#22032f 68px,#3f0554 70px,#3a044e 72px,#4d0a67 74px,#060109 76px,#000000 78px,#502179 80px,#270335 82px,#030005 84px,#473e89 86px,#4a3584 88px,#4c2e80 90px,#000000 92px,#250333 93px)"></i>
<i style="left:437.7px;top:262.8px;width:1.5px;height:93.3px;background:linear-gradient(#531573 0px,#4f0b69 2px,#360448 4px,#480861 6px,#47075f 8px,#4e0b68 10px,#520d6d 12px,#541071 14px,#4c0a65 16px,#500c6b 18px,#4b0965 20px,#3d0553 22px,#4f0c6a 24px,#500c6b 26px,#530d6e 28px,#531874 30px,#4d0a67 32px,#2a0339 34px,#46075e 36px,#4e0b69 38px,#45065c 40px,#4b0964 42px,#541171 44px,#520d6e 46px,#4c0a66 48px,#3a044f 50px,#2f0440 52px,#20032c 54px,#120219 56px,#20032b 58px,#1c0226 60px,#000000 62px,#000000 64px,#000000 66px,#050007 68px,#2b033a 70px,#3f0555 72px,#480861 74px,#000000 76px,#000000 78px,#3e0553 80px,#4e0b68 82px,#000000 84px,#511e77 86px,#493886 88px,#531874 90px,#130219 92px,#531673 93px)"></i>
<i style="left:439.2px;top:262.8px;width:1.5px;height:93.3px;background:linear-gradient(#46075e 0px,#530d6e 2px,#520d6d 4px,#3b044f 6px,#46075e 8px,#530d6f 10px,#520d6d 12px,#43055a 14px,#46065e 16px,#541171 18px,#531372 20px,#4f0b69 22px,#44065b 24px,#4a0963 26px,#2e043e 28px,#4d0a67 30px,#530d6f 32px,#240332 34px,#320443 36px,#38044c 38px,#45065c 40px,#4b0964 42px,#4f0c6a 44px,#530e6f 46px,#540e70 48px,#500c6b 50px,#4a0963 52px,#22032f 54px,#000000 56px,#230330 58px,#3a044f 60px,#2a0339 62px,#1c0226 64px,#000000 66px,#000000 68px,#000000 70px,#2b033a 72px,#120219 74px,#000000 76px,#310443 78px,#530d6e 80px,#46075e 82px,#000000 84px,#000000 86px,#290337 88px,#502179 90px,#531272 92px,#366191 93px)"></i>
<i style="left:440.7px;top:262.8px;width:1.5px;height:93.3px;background:linear-gradient(#500c6b 0px,#4c0a66 2px,#540e70 4px,#520d6e 6px,#4d0a67 8px,#541171 10px,#500c6b 12px,#37044a 14px,#43055a 16px,#531774 18px,#521975 20px,#4e0b68 22px,#330445 24px,#3b044f 26px,#330446 28px,#420558 30px,#400556 32px,#100115 34px,#110118 36px,#2e043e 38px,#45065d 40px,#4c0a66 42px,#520d6e 44px,#510c6c 46px,#531372 48px,#4f0c6a 50px,#47075f 52px,#350448 54px,#170220 56px,#3b0550 58px,#3d0552 60px,#44055b 62px,#44055b 64px,#000000 66px,#000000 68px,#1d0228 70px,#36044a 72px,#1a0223 74px,#000000 76px,#1b0225 78px,#512078 80px,#1e0329 82px,#000000 84px,#000000 86px,#000000 88px,#000000 90px,#521975 92px,#45458c 93px)"></i>
<i style="left:442.2px;top:262.8px;width:1.5px;height:93.3px;background:linear-gradient(#531674 0px,#531573 2px,#500c6b 4px,#531774 6px,#521a75 8px,#541171 10px,#531372 12px,#510c6c 14px,#47075f 16px,#531673 18px,#531473 20px,#531372 22px,#520d6d 24px,#45065c 26px,#490861 28px,#490862 30px,#3a044f 32px,#2f043f 34px,#37044b 36px,#531372 38px,#520d6d 40px,#4e0b68 42px,#4a0964 44px,#4f0b6a 46px,#541171 48px,#540e70 50px,#480860 52px,#410557 54px,#480861 56px,#531874 58px,#531272 60px,#4c0a66 62px,#530d6e 64px,#420558 66px,#1d0328 68px,#46075e 70px,#531272 72px,#500c6b 74px,#000000 76px,#000000 78px,#541171 80px,#46075e 82px,#000000 84px,#000000 86px,#000000 88px,#000000 90px,#000000 92px,#000000 93px)"></i>
<i style="left:443.7px;top:262.8px;width:1.5px;height:93.3px;background:linear-gradient(#540e70 0px,#521b76 2px,#540f70 4px,#540f70 6px,#531673 8px,#541071 10px,#540f70 12px,#541171 14px,#540f70 16px,#531573 18px,#520d6e 20px,#531272 22px,#531372 24px,#4e0b68 26px,#47075f 28px,#4c0a66 30px,#45065d 32px,#39044c 34px,#37044a 36px,#531372 38px,#521975 40px,#4e0b69 42px,#3d0552 44px,#46075e 46px,#4b0965 48px,#520d6e 50px,#4e0b68 52px,#47075f 54px,#3a044e 56px,#531674 58px,#511e77 60px,#520d6d 62px,#4d0a67 64px,#541071 66px,#45065d 68px,#480861 70px,#510d6c 72px,#4b0965 74px,#000000 76px,#000000 78px,#3e0553 80px,#4e277c 82px,#531573 84px,#000000 86px,#000000 88px,#000000 90px,#000000 92px,#040005 93px)"></i>
<i style="left:445.2px;top:262.8px;width:1.5px;height:93.3px;background:linear-gradient(#4e0b69 0px,#531473 2px,#541171 4px,#360449 6px,#46075e 8px,#530e6f 10px,#4e0b69 12px,#4b0965 14px,#540f70 16px,#500c6b 18px,#540f71 20px,#4a0963 22px,#46075e 24px,#4d0a66 26px,#480861 28px,#4e0b68 30px,#4b0965 32px,#2d043d 34px,#280337 36px,#490862 38px,#531774 40px,#4f0c6a 42px,#2a0339 44px,#2f0440 46px,#320444 48px,#410557 50px,#46075e 52px,#4d0b68 54px,#46075e 56px,#490862 58px,#540f71 60px,#46065e 62px,#240332 64px,#4e0b69 66px,#4d0a67 68px,#4b0964 70px,#36044a 72px,#46065e 74px,#2e043f 76px,#000000 78px,#000000 80px,#300441 82px,#511e77 84px,#502179 86px,#424d8f 88px,#44498e 90px,#3b0550 92px,#000000 93px)"></i>
<i style="left:446.7px;top:262.8px;width:1.5px;height:93.3px;background:linear-gradient(#4b0965 0px,#531272 2px,#531473 4px,#45065c 6px,#541071 8px,#4e0b68 10px,#4a0964 12px,#410558 14px,#4c0a66 16px,#4d0a67 18px,#531272 20px,#540f70 22px,#4e0b68 24px,#4a0963 26px,#480861 28px,#4a0964 30px,#4d0a67 32px,#280337 34px,#2b043b 36px,#4c0a65 38px,#541071 40px,#47075f 42px,#230331 44px,#240332 46px,#320443 48px,#38044c 50px,#46065d 52px,#540f70 54px,#540e70 56px,#4b0964 58px,#46075e 60px,#3c0551 62px,#21032d 64px,#37044b 66px,#480861 68px,#4b0964 70px,#3a044e 72px,#4a0963 74px,#08010b 76px,#000000 78px,#000000 80px,#3b044f 82px,#4b3283 84px,#414f90 86px,#531272 88px,#3e5490 90px,#46418a 92px,#483c88 93px)"></i>
<i style="left:448.2px;top:262.8px;width:1.5px;height:93.3px;background:linear-gradient(#47075f 0px,#500c6a 2px,#531673 4px,#521975 6px,#4c2d80 8px,#531372 10px,#1c0227 12px,#040006 14px,#400556 16px,#45065c 18px,#4e0b68 20px,#531774 22px,#531272 24px,#540f70 26px,#4f0b6a 28px,#2d043d 30px,#320444 32px,#400556 34px,#420558 36px,#531372 38px,#521975 40px,#4d0a67 42px,#410557 44px,#15021d 46px,#400556 48px,#3f0554 50px,#500c6b 52px,#540f71 54px,#541071 56px,#520d6d 58px,#39044d 60px,#400556 62px,#310442 64px,#280336 66px,#420558 68px,#500c6b 70px,#4d0b68 72px,#530d6e 74px,#3f0554 76px,#0f0114 78px,#000000 80px,#000000 82px,#4c2e80 84px,#376091 86px,#000000 88px,#000000 90px,#46428b 92px,#2a788f 93px)"></i>
<i style="left:449.7px;top:262.8px;width:1.5px;height:93.3px;background:linear-gradient(#500c6b 0px,#4d0a67 2px,#540f70 4px,#521a75 6px,#4e297d 8px,#511e77 10px,#270335 12px,#000000 14px,#3c0551 16px,#46075e 18px,#3d0552 20px,#540f70 22px,#541171 24px,#531272 26px,#531774 28px,#3b044f 30px,#1f032b 32px,#47075f 34px,#4e0b68 36px,#531573 38px,#50227a 40px,#521a75 42px,#541071 44px,#3e0553 46px,#4f0b6a 48px,#490862 50px,#490862 52px,#4a0963 54px,#490862 56px,#4e0b68 58px,#46075e 60px,#44055b 62px,#3e0553 64px,#270336 66px,#3b044f 68px,#4f0b6a 70px,#500c6b 72px,#540e70 74px,#3b044f 76px,#000000 78px,#270336 80px,#050006 82px,#4c2f81 84px,#434b8f 86px,#000000 88px,#000000 90px,#2d043d 92px,#502179 93px)"></i>
<i style="left:451.2px;top:262.8px;width:1.5px;height:93.3px;background:linear-gradient(#511f78 0px,#541071 2px,#4d0b68 4px,#480760 6px,#500c6b 8px,#521d76 10px,#531272 12px,#480861 14px,#3f0555 16px,#541171 18px,#47075f 20px,#45065c 22px,#531874 24px,#541171 26px,#521a75 28px,#502179 30px,#510c6c 32px,#520d6d 34px,#500c6a 36px,#4c0a66 38px,#521a75 40px,#4c2f80 42px,#50227a 44px,#510d6d 46px,#4e0b68 48px,#510c6c 50px,#37044a 52px,#3a044f 54px,#480860 56px,#541171 58px,#531272 60px,#540f70 62px,#540e70 64px,#44065b 66px,#420559 68px,#420558 70px,#520d6d 72px,#531272 74px,#000000 76px,#240331 78px,#000000 80px,#000001 82px,#000000 84px,#470760 86px,#000000 88px,#000000 90px,#0e0113 92px,#4f247b 93px)"></i>
<i style="left:452.7px;top:262.8px;width:1.5px;height:93.3px;background:linear-gradient(#4c2f81 0px,#511f78 2px,#531473 4px,#490862 6px,#4d0a66 8px,#541071 10px,#541071 12px,#520d6d 14px,#4f0c6a 16px,#531573 18px,#530d6e 20px,#530d6f 22px,#511f78 24px,#531774 26px,#521a75 28px,#502179 30px,#50237a 32px,#531473 34px,#540e70 36px,#4f0b69 38px,#541071 40px,#502179 42px,#521975 44px,#540e6f 46px,#4d0a66 48px,#540e70 50px,#420559 52px,#46075e 54px,#540e70 56px,#531774 58px,#531774 60px,#531472 62px,#540f70 64px,#480861 66px,#420558 68px,#45065c 70px,#500c6a 72px,#510c6c 74px,#09010d 76px,#120218 78px,#120218 80px,#120218 82px,#120218 84px,#120218 86px,#120218 88px,#120218 90px,#120218 92px,#120218 93px)"></i>
<i style="left:454.2px;top:262.8px;width:1.5px;height:93.3px;background:linear-gradient(#50237a 0px,#4e277c 2px,#541071 4px,#4b0965 6px,#4b0965 8px,#4b0964 10px,#4a0963 12px,#531473 14px,#530d6e 16px,#531473 18px,#531573 20px,#531372 22px,#50237a 24px,#4f257b 26px,#521a75 28px,#541071 30px,#511e77 32px,#531874 34px,#530e6f 36px,#531272 38px,#531473 40px,#540e70 42px,#541071 44px,#540e6f 46px,#530d6f 48px,#531372 50px,#520d6e 52px,#510d6c 54px,#531473 56px,#531673 58px,#540f70 60px,#4e0b69 62px,#490861 64px,#46065d 66px,#4d0a67 68px,#540e70 70px,#520d6d 72px,#46075e 74px,#000000 76px,#120218 78px,#120218 80px,#120218 82px,#120218 84px,#120218 86px,#120218 88px,#120218 90px,#120218 92px,#120218 93px)"></i>
<i style="left:455.7px;top:262.8px;width:1.5px;height:93.3px;background:linear-gradient(#531272 0px,#521b76 2px,#500c6b 4px,#4c0a65 6px,#4e0b69 8px,#520d6d 10px,#540e70 12px,#502279 14px,#541071 16px,#531774 18px,#521d76 20px,#531272 22px,#521975 24px,#4e297d 26px,#511e77 28px,#540e70 30px,#531573 32px,#531874 34px,#531473 36px,#531673 38px,#521c76 40px,#521975 42px,#531272 44px,#4c0a66 46px,#4b0964 48px,#531472 50px,#500c6b 52px,#4c0a66 54px,#531774 56px,#521a75 58px,#510c6c 60px,#3c0551 62px,#420559 64px,#480760 66px,#500c6a 68px,#521975 70px,#521c76 72px,#530e6f 74px,#050007 76px,#120218 78px,#120218 80px,#120218 82px,#120218 84px,#120218 86px,#120218 88px,#120218 90px,#120218 92px,#120218 93px)"></i>
<i style="left:457.2px;top:262.8px;width:1.5px;height:93.3px;background:linear-gradient(#531272 0px,#540f70 2px,#541171 4px,#512078 6px,#50237a 8px,#531673 10px,#531573 12px,#531774 14px,#521975 16px,#531673 18px,#531674 20px,#530d6f 22px,#531573 24px,#502179 26px,#521a75 28px,#521b76 30px,#531372 32px,#531774 34px,#521a75 36px,#531674 38px,#540f71 40px,#511f77 42px,#531573 44px,#3e0554 46px,#37044b 48px,#3f0554 50px,#45065d 52px,#400557 54px,#541071 56px,#531673 58px,#540f71 60px,#2a0339 62px,#38044b 64px,#500c6a 66px,#510c6c 68px,#541171 70px,#4f267c 72px,#521b75 74px,#490862 76px,#4a3685 78px,#4e297d 80px,#47408a 82px,#46438b 84px,#531874 86px,#521b76 88px,#2d7290 90px,#287f8e 92px,#511e77 93px)"></i>
<i style="left:458.7px;top:262.8px;width:1.5px;height:93.3px;background:linear-gradient(#512078 0px,#530e6f 2px,#530e6f 4px,#4f267c 6px,#502179 8px,#511e77 10px,#540e6f 12px,#4d0a66 14px,#541071 16px,#540f70 18px,#531272 20px,#500c6b 22px,#531774 24px,#502279 26px,#531573 28px,#511e77 30px,#531272 32px,#531874 34px,#511e77 36px,#521a75 38px,#500c6b 40px,#541171 42px,#521975 44px,#4e0b68 46px,#490862 48px,#330445 50px,#44065c 52px,#3c0550 54px,#490861 56px,#4d0a67 58px,#541171 60px,#3f0554 62px,#470760 64px,#4f0b69 66px,#530e6f 68px,#531272 70px,#531774 72px,#541171 74px,#531774 76px,#502179 78px,#483c88 80px,#46428b 82px,#405190 84px,#2d7290 86px,#3b5a91 88px,#45458c 90px,#8ecf48 92px,#249886 93px)"></i>
<i style="left:460.2px;top:262.8px;width:1.5px;height:93.3px;background:linear-gradient(#4b3182 0px,#531573 2px,#531272 4px,#502179 6px,#521975 8px,#521c76 10px,#531272 12px,#4d0a67 14px,#500c6a 16px,#531673 18px,#521d77 20px,#531874 22px,#531774 24px,#521b75 26px,#541171 28px,#541171 30px,#540f70 32px,#540e70 34px,#521c76 36px,#4f247b 38px,#531874 40px,#540e70 42px,#4e277c 44px,#512078 46px,#540e6f 48px,#45065c 50px,#4a0963 52px,#4e0b68 54px,#2f0440 56px,#45065c 58px,#4a0964 60px,#531473 62px,#531573 64px,#4e0b69 66px,#4a0963 68px,#521d77 70px,#511e77 72px,#4d0a67 74px,#45458c 76px,#4d2b7e 78px,#260334 80px,#531372 82px,#47408a 84px,#2d7290 86px,#4a3483 88px,#531774 90px,#4d2c7f 92px,#483c88 93px)"></i>
<i style="left:461.7px;top:262.8px;width:1.5px;height:93.3px;background:linear-gradient(#473f89 0px,#521a75 2px,#531573 4px,#512078 6px,#531774 8px,#521c76 10px,#511e77 12px,#541171 14px,#531272 16px,#521c76 18px,#502179 20px,#521b75 22px,#531473 24px,#531774 26px,#531372 28px,#541071 30px,#541171 32px,#540e70 34px,#541171 36px,#521a75 38px,#4e277c 40px,#531472 42px,#4f267c 44px,#4f247a 46px,#520d6e 48px,#4a0964 50px,#500c6a 52px,#541071 54px,#4b0964 56px,#541171 58px,#500c6b 60px,#540f70 62px,#541071 64px,#520d6e 66px,#4a0963 68px,#531473 70px,#50237a 72px,#510c6c 74px,#483d88 76px,#511e77 78px,#3d0552 80px,#50237a 82px,#424d8f 84px,#483c88 86px,#521c76 88px,#424d8f 90px,#270335 92px,#050007 93px)"></i>
<i style="left:463.2px;top:262.8px;width:1.5px;height:93.3px;background:linear-gradient(#511f78 0px,#511f78 2px,#541171 4px,#521b76 6px,#531874 8px,#531372 10px,#531372 12px,#531272 14px,#531473 16px,#540e70 18px,#531573 20px,#531674 22px,#531472 24px,#541071 26px,#541171 28px,#531673 30px,#540e70 32px,#4f0c6a 34px,#500c6b 36px,#4c0a65 38px,#531673 40px,#531673 42px,#541071 44px,#531774 46px,#490862 48px,#4b0964 50px,#520d6d 52px,#531573 54px,#531774 56px,#521c76 58px,#531874 60px,#540f71 62px,#531472 64px,#520d6d 66px,#45065c 68px,#470760 70px,#540f71 72px,#520d6e 74px,#520d6d 76px,#510c6c 78px,#000000 80px,#531272 82px,#3d5791 84px,#434b8f 86px,#250332 88px,#44488e 90px,#493886 92px,#4e287d 93px)"></i>
<i style="left:464.7px;top:262.8px;width:1.5px;height:93.3px;background:linear-gradient(#500c6b 0px,#531774 2px,#531573 4px,#531774 6px,#521b76 8px,#531473 10px,#541071 12px,#531472 14px,#531674 16px,#520d6e 18px,#500c6b 20px,#531573 22px,#531573 24px,#531372 26px,#531673 28px,#521a75 30px,#531272 32px,#4c0a66 34px,#520d6d 36px,#4d0a67 38px,#541071 40px,#541071 42px,#500c6b 44px,#541071 46px,#46075e 48px,#47075f 50px,#4e0b69 52px,#521975 54px,#512078 56px,#50237a 58px,#531874 60px,#540e70 62px,#531774 64px,#530d6e 66px,#45065c 68px,#43055b 70px,#500c6b 72px,#541171 74px,#15021d 76px,#240331 78px,#0e0113 80px,#260334 82px,#3e5591 84px,#3a5c91 86px,#541071 88px,#511f78 90px,#473e89 92px,#434b8f 93px)"></i>
<i style="left:466.2px;top:262.8px;width:1.5px;height:93.3px;background:linear-gradient(#340446 0px,#480861 2px,#531573 4px,#531473 6px,#500c6b 8px,#521c76 10px,#4f267c 12px,#502179 14px,#521b75 16px,#521b76 18px,#4a0964 20px,#520d6e 22px,#531874 24px,#4f247a 26px,#512078 28px,#502179 30px,#521975 32px,#520d6d 34px,#500c6b 36px,#530d6e 38px,#531573 40px,#531473 42px,#531673 44px,#531272 46px,#500c6a 48px,#4d0b68 50px,#4f0b69 52px,#531272 54px,#4f247b 56px,#521975 58px,#521b75 60px,#530d6e 62px,#540f70 64px,#531272 66px,#490862 68px,#4f0b69 70px,#510d6d 72px,#541171 74px,#4d0a67 76px,#020003 78px,#000000 80px,#000000 82px,#000000 84px,#09010c 86px,#000000 88px,#400556 90px,#3e5490 92px,#2f6f90 93px)"></i>
<i style="left:467.7px;top:262.8px;width:1.5px;height:93.3px;background:linear-gradient(#541171 0px,#4c0a66 2px,#531874 4px,#531473 6px,#4c0a65 8px,#531774 10px,#4c2f81 12px,#4e287d 14px,#521975 16px,#511f78 18px,#541071 20px,#4d0a67 22px,#531473 24px,#502179 26px,#521975 28px,#511e77 30px,#521c76 32px,#531673 34px,#531272 36px,#541071 38px,#521c76 40px,#531874 42px,#511e77 44px,#521975 46px,#541171 48px,#541071 50px,#531472 52px,#541171 54px,#531272 56px,#4d0a67 58px,#531874 60px,#530e6f 62px,#4b0964 64px,#531473 66px,#4d0a66 68px,#540f71 70px,#540f70 72px,#4f0c6a 74px,#521a75 76px,#000000 78px,#000000 80px,#0c0111 82px,#020003 84px,#000000 86px,#000000 88px,#000000 90px,#3b5991 92px,#297c8e 93px)"></i>
<i style="left:469.2px;top:262.8px;width:1.5px;height:93.3px;background:linear-gradient(#4b3383 0px,#4d2c7f 2px,#4e277c 4px,#521975 6px,#540f71 8px,#531573 10px,#4e297d 12px,#521c76 14px,#521a75 16px,#50227a 18px,#4f267c 20px,#541171 22px,#541071 24px,#531874 26px,#531673 28px,#521c76 30px,#521975 32px,#531774 34px,#521d76 36px,#531774 38px,#531472 40px,#4f247b 42px,#4d2c7f 44px,#521975 46px,#4b0964 48px,#541071 50px,#521975 52px,#531573 54px,#540f70 56px,#540e70 58px,#511e77 60px,#521a75 62px,#4b0965 64px,#520d6d 66px,#531372 68px,#531874 70px,#521975 72px,#541171 74px,#4a3685 76px,#521975 78px,#000000 80px,#540f71 82px,#4e277c 84px,#490861 86px,#2b033a 88px,#000000 90px,#000000 92px,#493886 93px)"></i>
<i style="left:470.7px;top:262.8px;width:1.5px;height:93.3px;background:linear-gradient(#4a3483 0px,#4c2d80 2px,#50237a 4px,#521d76 6px,#531673 8px,#531874 10px,#50237a 12px,#531874 14px,#531573 16px,#4f267c 18px,#4b3081 20px,#511f77 22px,#541171 24px,#531573 26px,#531774 28px,#511e77 30px,#521d76 32px,#521b76 34px,#511e77 36px,#521c76 38px,#541171 40px,#521d77 42px,#50227a 44px,#521b76 46px,#4f0c6a 48px,#4e0b68 50px,#531673 52px,#531874 54px,#521975 56px,#531774 58px,#4d2a7e 60px,#4c2d7f 62px,#521975 64px,#500c6b 66px,#531573 68px,#502179 70px,#50227a 72px,#521c76 74px,#511e77 76px,#4a0964 78px,#08010b 80px,#521975 82px,#511f78 84px,#230330 86px,#000000 88px,#521d76 90px,#420559 92px,#44498e 93px)"></i>
<i style="left:472.2px;top:262.8px;width:1.5px;height:93.3px;background:linear-gradient(#4d2b7e 0px,#512078 2px,#521b76 4px,#4f267c 6px,#4d2c7f 8px,#4f247a 10px,#531673 12px,#531774 14px,#531674 16px,#502279 18px,#4b3383 20px,#4c2d7f 22px,#511f78 24px,#4a0963 26px,#4f0c6a 28px,#531674 30px,#521a75 32px,#531774 34px,#511e77 36px,#531774 38px,#531874 40px,#531372 42px,#531372 44px,#511e77 46px,#531673 48px,#480760 50px,#4b0965 52px,#540e70 54px,#502179 56px,#531473 58px,#521a75 60px,#46418a 62px,#4a3383 64px,#511e77 66px,#541071 68px,#531372 70px,#4d2a7e 72px,#4d2b7f 74px,#540f70 76px,#410557 78px,#3e0553 80px,#000000 82px,#4c0a65 84px,#000000 86px,#000000 88px,#434b8f 90px,#000000 92px,#000000 93px)"></i>
<i style="left:473.7px;top:262.8px;width:1.5px;height:93.3px;background:linear-gradient(#50237a 0px,#4f247a 2px,#4f257b 4px,#4d2c7f 6px,#4a3785 8px,#4c2d7f 10px,#531874 12px,#531573 14px,#531573 16px,#521b76 18px,#4b3081 20px,#4d2b7e 22px,#50227a 24px,#540f70 26px,#530e6f 28px,#541171 30px,#521975 32px,#531774 34px,#521c76 36px,#531774 38px,#531573 40px,#521c76 42px,#521a75 44px,#521d77 46px,#521a75 48px,#3a044f 50px,#480861 52px,#510d6d 54px,#511f78 56px,#541171 58px,#520d6d 60px,#493785 62px,#4a3584 64px,#512078 66px,#531272 68px,#520d6d 70px,#4e277c 72px,#4a3483 74px,#502179 76px,#320444 78px,#540f70 80px,#000000 82px,#531573 84px,#45065c 86px,#000000 88px,#45458c 90px,#000000 92px,#000000 93px)"></i>
<i style="left:475.2px;top:262.8px;width:1.5px;height:93.3px;background:linear-gradient(#50237a 0px,#4d2b7e 2px,#493886 4px,#4a3785 6px,#4c2e80 8px,#4a3584 10px,#511e77 12px,#512078 14px,#521b75 16px,#511f77 18px,#4b3081 20px,#4d2b7e 22px,#521b75 24px,#531473 26px,#531372 28px,#4e0b68 30px,#531774 32px,#4f257b 34px,#4f247b 36px,#4b3182 38px,#50227a 40px,#4f247a 42px,#511e77 44px,#531473 46px,#531874 48px,#510c6c 50px,#330445 52px,#4e0b69 54px,#521d77 56px,#521b75 58px,#4f0b69 60px,#531774 62px,#502179 64px,#531674 66px,#541071 68px,#50237a 70px,#521c76 72px,#50237a 74px,#45448c 76px,#45458c 78px,#4c2f81 80px,#45468d 82px,#4d2a7e 84px,#2e043e 86px,#000000 88px,#000000 90px,#531573 92px,#45448c 93px)"></i>
<i style="left:476.7px;top:262.8px;width:1.5px;height:93.3px;background:linear-gradient(#493785 0px,#4d2c7f 2px,#473f89 4px,#483b87 6px,#4d2a7e 8px,#4b3182 10px,#4f257b 12px,#4e287d 14px,#4e287d 16px,#4e277c 18px,#483a87 20px,#4a3685 22px,#512078 24px,#531674 26px,#521a75 28px,#541171 30px,#521a75 32px,#4b3282 34px,#4e297d 36px,#4a3584 38px,#493785 40px,#4b3282 42px,#4e277c 44px,#531272 46px,#531673 48px,#521c76 50px,#4c0a66 52px,#541171 54px,#502279 56px,#4f257b 58px,#531674 60px,#521b75 62px,#4f257b 64px,#521975 66px,#531874 68px,#4e297d 70px,#4e287d 72px,#502279 74px,#434b8f 76px,#3a5c91 78px,#414e90 80px,#414e90 82px,#50237a 84px,#490862 86px,#531774 88px,#45065d 90px,#4c2e80 92px,#2a798f 93px)"></i>
<i style="left:478.2px;top:262.8px;width:1.5px;height:93.3px;background:linear-gradient(#4d2a7e 0px,#4b3081 2px,#4b3283 4px,#424d8f 6px,#493886 8px,#4e277c 10px,#50237a 12px,#521975 14px,#502179 16px,#4e297d 18px,#483d88 20px,#46418a 22px,#511f77 24px,#4e277c 26px,#4a3584 28px,#502179 30px,#4c2e80 32px,#493a87 34px,#4f247a 36px,#521975 38px,#4b3282 40px,#493986 42px,#4b3081 44px,#502179 46px,#521d77 48px,#531874 50px,#50227a 52px,#50237a 54px,#502179 56px,#511f78 58px,#4f247a 60px,#521d76 62px,#531874 64px,#502279 66px,#4d2a7e 68px,#4d2c7f 70px,#4e287d 72px,#50237a 74px,#4f247b 76px,#483d88 78px,#366291 80px,#541171 82px,#37044b 84px,#4a0963 86px,#510c6c 88px,#9fd33e 90px,#320444 92px,#000000 93px)"></i>
<i style="left:479.7px;top:262.8px;width:1.5px;height:93.3px;background:linear-gradient(#502179 0px,#4d2b7e 2px,#4e277c 4px,#44488d 6px,#47408a 8px,#4b3182 10px,#4f257b 12px,#521b76 14px,#521b75 16px,#4d2c7f 18px,#483d88 20px,#473e89 22px,#511e77 24px,#4c2d80 26px,#46418a 28px,#4e287c 30px,#4c2f81 32px,#483c88 34px,#4f247a 36px,#531372 38px,#4f247a 40px,#4a3483 42px,#4c2d7f 44px,#4e297d 46px,#4f247a 48px,#521c76 50px,#4d2c7f 52px,#4c2e80 54px,#502179 56px,#511f78 58px,#512078 60px,#512078 62px,#521c76 64px,#50237a 66px,#4b3282 68px,#4a3483 70px,#4e287d 72px,#521c76 74px,#541171 76px,#4a3685 78px,#316a91 80px,#45468d 82px,#260334 84px,#13021b 86px,#000000 88px,#abd737 90px,#512078 92px,#000000 93px)"></i>
<i style="left:481.2px;top:262.8px;width:1.5px;height:93.3px;background:linear-gradient(#483b87 0px,#4a3684 2px,#493a87 4px,#4c2e80 6px,#483b87 8px,#4a3483 10px,#4b3081 12px,#4b3383 14px,#4c2f80 16px,#483c88 18px,#473e89 20px,#4a3484 22px,#4d2a7e 24px,#4d2a7e 26px,#45448c 28px,#483c88 30px,#4f247b 32px,#4c2d7f 34px,#4c2f81 36px,#511f78 38px,#521a75 40px,#4d2b7e 42px,#493886 44px,#4b3182 46px,#4d2a7e 48px,#521c76 50px,#4d2b7e 52px,#4c2e80 54px,#4f247a 56px,#50237a 58px,#4f257b 60px,#4f247a 62px,#4c2d80 64px,#4a3483 66px,#4b3182 68px,#4c2e80 70px,#4f267c 72px,#520d6d 74px,#541071 76px,#4f247a 78px,#4b3182 80px,#366191 82px,#541171 84px,#510c6c 86px,#000000 88px,#000000 90px,#424c8f 92px,#366291 93px)"></i>
<i style="left:482.7px;top:262.8px;width:1.5px;height:93.3px;background:linear-gradient(#414e8f 0px,#45448c 2px,#45458c 4px,#4b3282 6px,#493a87 8px,#4a3484 10px,#4c3081 12px,#483c88 14px,#483c88 16px,#473e89 18px,#46418b 20px,#473e89 22px,#46418a 24px,#493886 26px,#434c8f 28px,#45448c 30px,#4d2b7e 32px,#4c2e80 34px,#493885 36px,#4b3081 38px,#4e277c 40px,#4a3785 42px,#434a8e 44px,#46428b 46px,#473e89 48px,#4e277c 50px,#502279 52px,#4c2f81 54px,#4c2d80 56px,#4d2b7e 58px,#4d2b7e 60px,#4c2d7f 62px,#4b3182 64px,#473f89 66px,#4a3785 68px,#4c2d80 70px,#4e297d 72px,#521a75 74px,#4c2d7f 76px,#511e77 78px,#541171 80px,#360448 82px,#350448 84px,#000000 86px,#230330 88px,#000000 90px,#4d2c7f 92px,#287f8e 93px)"></i>
<i style="left:484.2px;top:262.8px;width:1.5px;height:93.3px;background:linear-gradient(#424d8f 0px,#3d5591 2px,#424c8f 4px,#47408a 6px,#493785 8px,#4a3584 10px,#4b3383 12px,#4b3282 14px,#46438b 16px,#4a3684 18px,#493986 20px,#46418b 22px,#46418a 24px,#414e8f 26px,#47408a 28px,#44478d 30px,#483b87 32px,#4c2e80 34px,#483b87 36px,#46438b 38px,#493986 40px,#44488d 42px,#3e5591 44px,#44498e 46px,#46438b 48px,#44488e 50px,#4b3282 52px,#483b87 54px,#44478d 56px,#473f8a 58px,#4c2d80 60px,#4e287d 62px,#4e297d 64px,#493a87 66px,#4d2b7f 68px,#4c2f80 70px,#493986 72px,#45468d 74px,#424d8f 76px,#395d91 78px,#405190 80px,#350447 82px,#500c6b 84px,#4a3584 86px,#2b778f 88px,#3b5a91 90px,#000000 92px,#000000 93px)"></i>
<i style="left:485.7px;top:262.8px;width:1.5px;height:93.3px;background:linear-gradient(#424d8f 0px,#414e90 2px,#45458c 4px,#44478d 6px,#45458c 8px,#493a87 10px,#4a3484 12px,#4d2a7e 14px,#493a87 16px,#46418a 18px,#473e89 20px,#45448c 22px,#483b87 24px,#44488e 26px,#473e89 28px,#46428b 30px,#44488e 32px,#483c88 34px,#4c2e80 36px,#46428b 38px,#47408a 40px,#434b8f 42px,#3e5591 44px,#405090 46px,#44498e 48px,#44498e 50px,#493986 52px,#493987 54px,#414f90 56px,#45448c 58px,#4a3584 60px,#4c2f80 62px,#4d2b7f 64px,#483a87 66px,#4c2e80 68px,#4d2c7f 70px,#47408a 72px,#405090 74px,#47408a 76px,#44488d 78px,#405190 80px,#414f90 82px,#511e77 84px,#4f0b69 86px,#3d0553 88px,#26a081 90px,#4d0a66 92px,#000000 93px)"></i>
<i style="left:487.2px;top:262.8px;width:1.5px;height:93.3px;background:linear-gradient(#47408a 0px,#424d8f 2px,#424c8f 4px,#45448c 6px,#3e5490 8px,#414f90 10px,#44498e 12px,#47408a 14px,#483b88 16px,#414e8f 18px,#3a5b91 20px,#3a5b91 22px,#3e5390 24px,#414e8f 26px,#3f5290 28px,#46418a 30px,#414f90 32px,#434b8f 34px,#4b3181 36px,#473f89 38px,#46428b 40px,#46438b 42px,#44478d 44px,#434b8f 46px,#424d8f 48px,#46428b 50px,#47408a 52px,#45468d 54px,#44488e 56px,#4b3182 58px,#4e287d 60px,#45448c 62px,#45468d 64px,#4a3785 66px,#47408a 68px,#483b87 70px,#483d88 72px,#434b8f 74px,#44488d 76px,#4a3785 78px,#4b3282 80px,#540e70 82px,#4b3383 84px,#510c6c 86px,#20032c 88px,#000000 90px,#316a91 92px,#405190 93px)"></i>
<i style="left:488.7px;top:262.8px;width:1.5px;height:93.3px;background:linear-gradient(#434b8f 0px,#424d8f 2px,#3f5290 4px,#434a8f 6px,#3c5891 8px,#3e5591 10px,#3e5390 12px,#414e90 14px,#45458c 16px,#44498e 18px,#395d91 20px,#356491 22px,#3e5590 24px,#3b5a91 26px,#3e5490 28px,#44498e 30px,#434b8f 32px,#424d8f 34px,#45458c 36px,#3f5390 38px,#46438b 40px,#44488e 42px,#424d8f 44px,#434a8f 46px,#405090 48px,#47408a 50px,#46438b 52px,#405190 54px,#424d8f 56px,#4a3483 58px,#502179 60px,#44488d 62px,#3e5591 64px,#46418a 66px,#44488d 68px,#44478d 70px,#45448c 72px,#44488d 74px,#3b5a91 76px,#414f90 78px,#47408a 80px,#530e6f 82px,#493986 84px,#44478d 86px,#531272 88px,#22032e 90px,#540f70 92px,#4c2e80 93px)"></i>
<i style="left:490.2px;top:262.8px;width:1.5px;height:93.3px;background:linear-gradient(#3b5a91 0px,#424d8f 2px,#44488d 4px,#414e8f 6px,#385f91 8px,#346591 10px,#3e5490 12px,#3d5791 14px,#405090 16px,#46428b 18px,#3e5490 20px,#366191 22px,#44498e 24px,#44488e 26px,#44488e 28px,#46438b 30px,#46418a 32px,#45468d 34px,#366291 36px,#326991 38px,#414f90 40px,#473e89 42px,#44488d 44px,#3c5991 46px,#3f5390 48px,#45448c 50px,#44478d 52px,#385e91 54px,#3b5991 56px,#414f90 58px,#4b3182 60px,#473e89 62px,#3e5490 64px,#3e5490 66px,#44478d 68px,#434c8f 70px,#44478d 72px,#3d5791 74px,#356391 76px,#4a3584 78px,#414f90 80px,#424d8f 82px,#2e7090 84px,#45448c 86px,#531774 88px,#502279 90px,#09010c 92px,#000000 93px)"></i>
<i style="left:491.7px;top:262.8px;width:1.5px;height:93.3px;background:linear-gradient(#3d5691 0px,#434b8f 2px,#473e89 4px,#414f90 6px,#3a5b91 8px,#2f6e90 10px,#3a5b91 12px,#405190 14px,#3d5691 16px,#414e90 18px,#3c5891 20px,#395d91 22px,#44498e 24px,#47408a 26px,#434b8f 28px,#45468d 30px,#45458c 32px,#424d8f 34px,#395d91 36px,#336791 38px,#395c91 40px,#45448c 42px,#434b8f 44px,#3b5a91 46px,#3d5591 48px,#434a8e 50px,#3d5591 52px,#336791 54px,#356391 56px,#3d5791 58px,#44488e 60px,#45458c 62px,#405190 64px,#3b5991 66px,#424c8f 68px,#3f5390 70px,#44488e 72px,#395d91 74px,#2c7390 76px,#46428b 78px,#493785 80px,#414f90 82px,#3b5a91 84px,#44488d 86px,#4e287d 88px,#385e91 90px,#000000 92px,#000000 93px)"></i>
<i style="left:493.2px;top:262.8px;width:1.5px;height:93.3px;background:linear-gradient(#3b5a91 0px,#3e5590 2px,#405190 4px,#3f5390 6px,#405090 8px,#385e91 10px,#376091 12px,#405090 14px,#3d5791 16px,#336691 18px,#3b5a91 20px,#3c5891 22px,#395c91 24px,#44478d 26px,#424c8f 28px,#45468d 30px,#46428b 32px,#3f5390 34px,#3f5390 36px,#376091 38px,#2c7390 40px,#395d91 42px,#3d5691 44px,#3d5791 46px,#3d5691 48px,#424e8f 50px,#3b5991 52px,#385e91 54px,#366291 56px,#3f5390 58px,#3d5691 60px,#3d5791 62px,#3f5390 64px,#3c5891 66px,#376191 68px,#376091 70px,#346591 72px,#336691 74px,#434a8f 76px,#3b5991 78px,#3f5390 80px,#2a788f 82px,#493785 84px,#356391 86px,#25878c 88px,#77c855 90px,#2c758f 92px,#376091 93px)"></i>
<i style="left:494.7px;top:262.8px;width:1.5px;height:93.3px;background:linear-gradient(#385f91 0px,#376191 2px,#385f91 4px,#346491 6px,#356391 8px,#3a5c91 10px,#336691 12px,#3d5691 14px,#395c91 16px,#306c91 18px,#346591 20px,#395c91 22px,#326891 24px,#3d5591 26px,#414e8f 28px,#405090 30px,#483c88 32px,#424c8f 34px,#3b5a91 36px,#376091 38px,#2c748f 40px,#336691 42px,#3d5791 44px,#3b5991 46px,#376191 48px,#405190 50px,#3b5a91 52px,#356391 54px,#385e91 56px,#414f90 58px,#3c5891 60px,#346491 62px,#346591 64px,#3c5891 66px,#385e91 68px,#326891 70px,#2d7290 72px,#326791 74px,#473e89 76px,#366291 78px,#366291 80px,#287f8e 82px,#434c8f 84px,#510d6c 86px,#25878c 88px,#28a47f 90px,#2c758f 92px,#4c2d80 93px)"></i>
<i style="left:496.2px;top:262.8px;width:1.5px;height:93.3px;background:linear-gradient(#2d7290 0px,#336791 2px,#385f91 4px,#2d7190 6px,#287e8e 8px,#297b8e 10px,#2b778f 12px,#336691 14px,#3d5691 16px,#395d91 18px,#2e7190 20px,#336791 22px,#376091 24px,#356491 26px,#424d8f 28px,#434b8f 30px,#424c8f 32px,#434b8f 34px,#395e91 36px,#356291 38px,#336791 40px,#336791 42px,#366291 44px,#3a5c91 46px,#2f6d90 48px,#366291 50px,#3b5991 52px,#366291 54px,#3b5a91 56px,#45448c 58px,#424d8f 60px,#336691 62px,#316991 64px,#2f6e90 66px,#326891 68px,#366291 70px,#2f6e90 72px,#336691 74px,#2b758f 76px,#2a798f 78px,#346591 80px,#297c8e 82px,#2f6f90 84px,#4b3383 86px,#4c2f81 88px,#27808d 90px,#248b8b 92px,#385e91 93px)"></i>
<i style="left:497.7px;top:262.8px;width:1.5px;height:93.3px;background:linear-gradient(#316b91 0px,#2f6e90 2px,#366191 4px,#2f6f90 6px,#27808d 8px,#26848d 10px,#26858c 12px,#2e6f90 14px,#395d91 16px,#356391 18px,#2b768f 20px,#326791 22px,#3d5691 24px,#376191 26px,#3e5490 28px,#44488e 30px,#414f90 32px,#414f90 34px,#395d91 36px,#356291 38px,#316a91 40px,#306d90 42px,#306c91 44px,#336691 46px,#2d7190 48px,#326891 50px,#3d5691 52px,#395c91 54px,#385f91 56px,#414f90 58px,#3f5290 60px,#336691 62px,#326791 64px,#2c7490 66px,#2f6d90 68px,#336691 70px,#316b91 72px,#326991 74px,#27808d 76px,#2d7290 78px,#483c88 80px,#2f6d90 82px,#376091 84px,#424d8f 86px,#3c5891 88px,#4f247b 90px,#45468d 92px,#4f0b69 93px)"></i>
<i style="left:499.2px;top:262.8px;width:1.5px;height:93.3px;background:linear-gradient(#376091 0px,#356391 2px,#3c5891 4px,#346591 6px,#2b758f 8px,#287d8e 10px,#2a798f 12px,#366291 14px,#3c5891 16px,#3a5c91 18px,#2d7390 20px,#2e7090 22px,#356391 24px,#395d91 26px,#316991 28px,#336691 30px,#385f91 32px,#326891 34px,#346591 36px,#316b91 38px,#326891 40px,#2a798f 42px,#27808d 44px,#2b768f 46px,#2c7490 48px,#306c90 50px,#346491 52px,#2d7190 54px,#2c748f 56px,#336691 58px,#336791 60px,#306c90 62px,#366191 64px,#316a91 66px,#395d91 68px,#3b5a91 70px,#395d91 72px,#3d5791 74px,#366191 76px,#306b91 78px,#336791 80px,#2a798f 82px,#366291 84px,#4a3685 86px,#46438b 88px,#473f89 90px,#521c76 92px,#4e297d 93px)"></i>
<i style="left:500.7px;top:262.8px;width:1.5px;height:93.3px;background:linear-gradient(#316b91 0px,#316a91 2px,#3c5891 4px,#3a5b91 6px,#2f6d90 8px,#2b778f 10px,#2c7390 12px,#346591 14px,#3d5791 16px,#3d5791 18px,#316a91 20px,#2d7390 22px,#2f6e90 24px,#326891 26px,#306b91 28px,#2d7390 30px,#2c7390 32px,#2c748f 34px,#2f6f90 36px,#306d90 38px,#2d7290 40px,#2b768f 42px,#27818d 44px,#2a798f 46px,#306c90 48px,#326791 50px,#326891 52px,#2a788f 54px,#27808d 56px,#2d7190 58px,#2d7190 60px,#2c758f 62px,#336791 64px,#336791 66px,#395d91 68px,#3e5490 70px,#3d5791 72px,#3d5691 74px,#336691 76px,#3b5991 78px,#2f6f90 80px,#249089 82px,#26858c 84px,#4f267b 86px,#424d8f 88px,#3b5991 90px,#2c7390 92px,#2aa77d 93px)"></i>
<i style="left:502.2px;top:262.8px;width:1.5px;height:93.3px;background:linear-gradient(#2e7090 0px,#2a788f 2px,#2e7090 4px,#3d5791 6px,#2e7090 8px,#2b758f 10px,#2d7390 12px,#2c748f 14px,#366291 16px,#385f91 18px,#2e7090 20px,#2a798f 22px,#2c7390 24px,#2d7190 26px,#326791 28px,#336691 30px,#2f6e90 32px,#2d7190 34px,#366291 36px,#395d91 38px,#306c91 40px,#297b8e 42px,#25878c 44px,#297c8e 46px,#326791 48px,#3a5b91 50px,#3e5490 52px,#336791 54px,#2c748f 56px,#2f6e90 58px,#27828d 60px,#297c8e 62px,#2a788f 64px,#306d90 66px,#366291 68px,#375f91 70px,#385e91 72px,#336691 74px,#316a91 76px,#3f5290 78px,#4a3584 80px,#2b758f 82px,#259f82 84px,#2aa77d 86px,#26838d 88px,#93d045 90px,#2ba97c 92px,#248e8a 93px)"></i>
<i style="left:503.7px;top:262.8px;width:1.5px;height:93.3px;background:linear-gradient(#2a778f 0px,#2a778f 2px,#2c7390 4px,#326791 6px,#2b768f 8px,#26848d 10px,#297a8f 12px,#2a798f 14px,#326991 16px,#346691 18px,#2a798f 20px,#27828d 22px,#2b768f 24px,#2d7190 26px,#2f6e90 28px,#2f6d90 30px,#306c91 32px,#297a8f 34px,#316b91 36px,#306c91 38px,#316a91 40px,#2b778f 42px,#248b8b 44px,#26858c 46px,#306d90 48px,#3c5791 50px,#3d5691 52px,#316991 54px,#2b758f 56px,#2e7190 58px,#297b8e 60px,#287d8e 62px,#287e8e 64px,#297c8e 66px,#306c90 68px,#2f6f90 70px,#2f6e90 72px,#2f6e90 74px,#3a5b91 76px,#434b8f 78px,#3e5490 80px,#3d5791 82px,#248c8b 84px,#287d8e 86px,#45458c 88px,#259c83 90px,#8dce48 92px,#2aa77d 93px)"></i>
<i style="left:505.2px;top:262.8px;width:1.5px;height:93.3px;background:linear-gradient(#316991 0px,#297a8f 2px,#2a798f 4px,#2e7090 6px,#336691 8px,#316a91 10px,#297a8f 12px,#297c8e 14px,#326891 16px,#356391 18px,#2a798f 20px,#26838d 22px,#287d8e 24px,#2f6d90 26px,#316b91 28px,#297b8e 30px,#2a798f 32px,#287d8e 34px,#27818d 36px,#287f8e 38px,#297c8e 40px,#2b768f 42px,#287e8e 44px,#25878c 46px,#297a8f 48px,#326991 50px,#3d5691 52px,#2f6f90 54px,#27818d 56px,#287d8e 58px,#316991 60px,#2a798f 62px,#25878c 64px,#248a8b 66px,#26848d 68px,#25878c 70px,#27828d 72px,#287d8e 74px,#248e8a 76px,#287e8e 78px,#3b5991 80px,#4f267b 82px,#4c2d7f 84px,#37044a 86px,#2f043f 88px,#4e277c 90px,#249786 92px,#248e8a 93px)"></i>
<i style="left:506.7px;top:262.8px;width:1.5px;height:93.3px;background:linear-gradient(#2e7090 0px,#297b8e 2px,#297a8f 4px,#2e7190 6px,#316991 8px,#326891 10px,#2e7090 12px,#287d8e 14px,#2f6d90 16px,#346491 18px,#2b768f 20px,#26858c 22px,#27818d 24px,#2f6e90 26px,#316991 28px,#287d8e 30px,#297a8f 32px,#297b8e 34px,#26848d 36px,#25868c 38px,#27828d 40px,#287e8e 42px,#297c8e 44px,#287d8e 46px,#2a778f 48px,#287e8e 50px,#346591 52px,#2d7390 54px,#287f8e 56px,#2c758f 58px,#336691 60px,#2c758f 62px,#26838d 64px,#248b8b 66px,#26838d 68px,#248f8a 70px,#248c8b 72px,#248b8b 74px,#259e83 76px,#248a8b 78px,#3b5a91 80px,#4b3182 82px,#3b5991 84px,#480861 86px,#000000 88px,#531874 90px,#3b5a91 92px,#3d5591 93px)"></i>
<i style="left:508.2px;top:262.8px;width:1.5px;height:93.3px;background:linear-gradient(#26858c 0px,#248d8a 2px,#25888c 4px,#297a8f 6px,#2d7290 8px,#2a798f 10px,#26858c 12px,#26848d 14px,#297b8e 16px,#2d7290 18px,#297b8e 20px,#27808d 22px,#27808d 24px,#27818d 26px,#27808d 28px,#26858c 30px,#25898c 32px,#26838d 34px,#25868c 36px,#248b8b 38px,#258a8b 40px,#25868c 42px,#287d8e 44px,#2a778f 46px,#306d90 48px,#2c7390 50px,#287f8e 52px,#2b758f 54px,#2d7390 56px,#346491 58px,#385f91 60px,#3d5691 62px,#306d90 64px,#26848d 66px,#25878c 68px,#25868c 70px,#248f8a 72px,#249089 74px,#249886 76px,#248f8a 78px,#2c748f 80px,#4b3181 82px,#493886 84px,#259b84 86px,#26848d 88px,#540f70 90px,#510c6c 92px,#531472 93px)"></i>
<i style="left:509.7px;top:262.8px;width:1.5px;height:93.3px;background:linear-gradient(#248d8a 0px,#239289 2px,#239189 4px,#25888c 6px,#297c8e 8px,#2a798f 10px,#248d8a 12px,#248c8b 14px,#297c8e 16px,#2d7290 18px,#27808d 20px,#26858c 22px,#27818d 24px,#25898b 26px,#258a8b 28px,#258a8b 30px,#248e8a 32px,#25898b 34px,#25868c 36px,#26838d 38px,#26858c 40px,#25878c 42px,#287f8e 44px,#287e8e 46px,#287d8e 48px,#326891 50px,#287f8e 52px,#27818d 54px,#2a788f 56px,#2f6d90 58px,#326891 60px,#3a5b91 62px,#2b768f 64px,#25878c 66px,#248c8b 68px,#25878c 70px,#248f89 72px,#248f89 74px,#249886 76px,#248c8a 78px,#2a798f 80px,#434b8f 82px,#502279 84px,#2a788f 86px,#3c5891 88px,#287f8e 90px,#400557 92px,#340446 93px)"></i>
<i style="left:511.2px;top:262.8px;width:1.5px;height:93.3px;background:linear-gradient(#25878c 0px,#239189 2px,#239687 4px,#249786 6px,#25888c 8px,#27808d 10px,#248e8a 12px,#249089 14px,#25898b 16px,#297b8e 18px,#287f8e 20px,#248b8b 22px,#25878c 24px,#25868c 26px,#25878c 28px,#239588 30px,#249089 32px,#25868c 34px,#25898b 36px,#297c8e 38px,#2e7090 40px,#287d8e 42px,#248a8b 44px,#248e8a 46px,#239289 48px,#26858c 50px,#2a798f 52px,#25898b 54px,#248d8a 56px,#27818d 58px,#2b768f 60px,#297b8e 62px,#297c8e 64px,#25888c 66px,#248c8b 68px,#248d8a 70px,#258a8b 72px,#248d8a 74px,#259c84 76px,#248e8a 78px,#25878c 80px,#44478d 82px,#473e89 84px,#502179 86px,#000000 88px,#385e91 90px,#297a8f 92px,#46438b 93px)"></i>
<i style="left:512.7px;top:262.8px;width:1.5px;height:93.3px;background:linear-gradient(#26858c 0px,#239388 2px,#249886 4px,#239687 6px,#25868c 8px,#25868c 10px,#249089 12px,#239189 14px,#248e8a 16px,#25868c 18px,#297c8e 20px,#258a8b 22px,#258a8b 24px,#25898b 26px,#26848d 28px,#239189 30px,#248f8a 32px,#27808d 34px,#248c8b 36px,#25898b 38px,#2a788f 40px,#287f8e 42px,#248d8a 44px,#248d8a 46px,#248e8a 48px,#239189 50px,#287d8e 52px,#25868c 54px,#248d8a 56px,#25878c 58px,#2a788f 60px,#287f8e 62px,#297a8f 64px,#287f8e 66px,#258a8b 68px,#249985 70px,#248f8a 72px,#248f8a 74px,#249189 76px,#249089 78px,#3cb572 80px,#405190 82px,#4a3584 84px,#531874 86px,#521975 88px,#395d91 90px,#249b84 92px,#297b8e 93px)"></i>
<i style="left:514.2px;top:262.8px;width:1.5px;height:93.3px;background:linear-gradient(#25868c 0px,#249787 2px,#239289 4px,#248e8a 6px,#26848d 8px,#27808d 10px,#248d8a 12px,#25898c 14px,#249189 16px,#258a8b 18px,#2c758f 20px,#27818d 22px,#249089 24px,#249089 26px,#248c8b 28px,#27808d 30px,#25898b 32px,#25898b 34px,#248e8a 36px,#249089 38px,#239289 40px,#248d8a 42px,#248a8b 44px,#248e8a 46px,#248f8a 48px,#239388 50px,#26858c 52px,#2a798f 54px,#248a8b 56px,#248b8b 58px,#26858c 60px,#2a788f 62px,#297a8f 64px,#287d8e 66px,#25878c 68px,#249b84 70px,#249886 72px,#239388 74px,#2e6f90 76px,#248f8a 78px,#3db571 80px,#25898b 82px,#2e7090 84px,#27818d 86px,#e6e420 88px,#3bb472 90px,#46428b 92px,#4c2d7f 93px)"></i>
<i style="left:515.7px;top:262.8px;width:1.5px;height:93.3px;background:linear-gradient(#27828d 0px,#239587 2px,#249189 4px,#248c8a 6px,#248c8b 8px,#27818d 10px,#25868c 12px,#26848d 14px,#258a8b 16px,#25868c 18px,#2a798f 20px,#287f8e 22px,#248e8a 24px,#249089 26px,#248d8a 28px,#26858c 30px,#248b8b 32px,#248f8a 34px,#249089 36px,#248d8a 38px,#239289 40px,#249a84 42px,#239189 44px,#248b8b 46px,#248b8b 48px,#239189 50px,#287f8e 52px,#2f6f90 54px,#248a8b 56px,#239189 58px,#248c8b 60px,#287f8e 62px,#26848d 64px,#25898b 66px,#248e8a 68px,#249687 70px,#259b84 72px,#249786 74px,#2a788f 76px,#239687 78px,#26a280 80px,#248d8a 82px,#259c84 84px,#239687 86px,#e6e420 88px,#a8d638 90px,#3e5490 92px,#434b8f 93px)"></i>
<i style="left:517.2px;top:262.8px;width:1.5px;height:93.3px;background:linear-gradient(#26848d 0px,#248e8a 2px,#249b84 4px,#248d8a 6px,#248d8a 8px,#248c8b 10px,#26838d 12px,#25898b 14px,#248b8b 16px,#27828d 18px,#25868c 20px,#25898c 22px,#25888c 24px,#26848d 26px,#25868c 28px,#25898b 30px,#248e8a 32px,#248e8a 34px,#248b8b 36px,#248c8b 38px,#2a798f 40px,#248a8b 42px,#248e8a 44px,#248d8a 46px,#239289 48px,#249189 50px,#287e8e 52px,#287e8e 54px,#248c8b 56px,#259c83 58px,#259f82 60px,#248d8a 62px,#248b8b 64px,#239587 66px,#259c83 68px,#248f8a 70px,#249089 72px,#239189 74px,#248c8b 76px,#239388 78px,#3db571 80px,#239388 82px,#2fad79 84px,#48bc6b 86px,#27828d 88px,#287d8e 90px,#4a3785 92px,#521b76 93px)"></i>
<i style="left:518.7px;top:262.8px;width:1.5px;height:93.3px;background:linear-gradient(#239588 0px,#248f89 2px,#28a47f 4px,#249985 6px,#239289 8px,#248a8b 10px,#248a8b 12px,#248c8b 14px,#248d8a 16px,#27818d 18px,#25878c 20px,#249189 22px,#248c8b 24px,#26858c 26px,#25868c 28px,#248d8a 30px,#248b8b 32px,#25898b 34px,#248c8a 36px,#239388 38px,#287d8e 40px,#27808d 42px,#248b8b 44px,#239289 46px,#27a37f 48px,#26a181 50px,#248f8a 52px,#248e8a 54px,#248e8a 56px,#239687 58px,#2aa77d 60px,#239587 62px,#248e8a 64px,#249985 66px,#26a081 68px,#249786 70px,#248d8a 72px,#239189 74px,#2eac7a 76px,#26a081 78px,#4fbe68 80px,#249a84 82px,#2caa7b 84px,#c8de28 86px,#33af77 88px,#3c5791 90px,#4a3584 92px,#493785 93px)"></i>
<i style="left:520.2px;top:262.8px;width:1.5px;height:93.3px;background:linear-gradient(#38b274 0px,#26a180 2px,#26a081 4px,#2aa77d 6px,#249886 8px,#25888c 10px,#25878c 12px,#248e8a 14px,#25878c 16px,#287f8e 18px,#27818d 20px,#248d8a 22px,#248f8a 24px,#248b8b 26px,#248b8b 28px,#239488 30px,#249089 32px,#248c8a 34px,#248a8b 36px,#239687 38px,#249089 40px,#26848d 42px,#25888c 44px,#249189 46px,#239587 48px,#2ba87c 50px,#28a47f 52px,#259e82 54px,#248f89 56px,#248d8a 58px,#27a47f 60px,#29a57e 62px,#248c8a 64px,#249b84 66px,#27a47f 68px,#259f82 70px,#249a84 72px,#248f8a 74px,#27818d 76px,#2f6d90 78px,#258a8b 80px,#29a67d 82px,#26a280 84px,#e6e420 86px,#29a67e 88px,#5bc363 90px,#346491 92px,#2e7090 93px)"></i>
<i style="left:521.7px;top:262.8px;width:1.5px;height:93.3px;background:linear-gradient(#2caa7b 0px,#26a280 2px,#249787 4px,#259d83 6px,#239587 8px,#248c8b 10px,#26848d 12px,#239587 14px,#248d8a 16px,#258a8b 18px,#25878c 20px,#25898b 22px,#249089 24px,#239189 26px,#249189 28px,#259d83 30px,#26a081 32px,#26a081 34px,#248f8a 36px,#239289 38px,#239687 40px,#258a8b 42px,#248b8b 44px,#239388 46px,#239488 48px,#259f82 50px,#28a57e 52px,#27a47f 54px,#239289 56px,#248d8a 58px,#27a380 60px,#2dab7a 62px,#249089 64px,#249a84 66px,#2ba87d 68px,#259e82 70px,#249985 72px,#248a8b 74px,#316b91 76px,#2c7490 78px,#249786 80px,#2aa77d 82px,#3bb473 84px,#239587 86px,#3c5791 88px,#54c066 90px,#25888c 92px,#239388 93px)"></i>
<i style="left:523.2px;top:262.8px;width:1.5px;height:93.3px;background:linear-gradient(#27a37f 0px,#239488 2px,#248f89 4px,#258a8b 6px,#248f89 8px,#249985 10px,#248f8a 12px,#2aa77d 14px,#27a37f 16px,#26a081 18px,#26a280 20px,#249885 22px,#259e82 24px,#239687 26px,#239588 28px,#29a67e 30px,#33af77 32px,#37b275 34px,#29a67d 36px,#239388 38px,#249089 40px,#249786 42px,#259e82 44px,#259d83 46px,#249787 48px,#259d83 50px,#29a57e 52px,#2aa77d 54px,#259d83 56px,#239388 58px,#249886 60px,#2ba87d 62px,#259f82 64px,#239687 66px,#259f82 68px,#259b84 70px,#249687 72px,#26a081 74px,#297c8e 76px,#297a8f 78px,#5cc362 80px,#99d241 82px,#d3e025 84px,#2aa87d 86px,#25868c 88px,#2b758f 90px,#51bf67 92px,#2eac7a 93px)"></i>
<i style="left:524.7px;top:262.8px;width:1.5px;height:93.3px;background:linear-gradient(#27a37f 0px,#249a85 2px,#239588 4px,#258a8b 6px,#248d8a 8px,#26a280 10px,#249a85 12px,#31ae78 14px,#2daa7b 16px,#259e82 18px,#27a47f 20px,#27a37f 22px,#29a67d 24px,#259d83 26px,#249787 28px,#27a380 30px,#2dab7b 32px,#2caa7b 34px,#31ae78 36px,#259d83 38px,#249189 40px,#239388 42px,#25a081 44px,#26a081 46px,#239189 48px,#259e82 50px,#26a181 52px,#26a180 54px,#26a280 56px,#249886 58px,#249a85 60px,#26a180 62px,#259f82 64px,#25a081 66px,#29a57e 68px,#26a081 70px,#239488 72px,#2aa67d 74px,#297a8f 76px,#316a91 78px,#4bbd6a 80px,#75c856 82px,#96d143 84px,#9fd33e 86px,#28a57e 88px,#3d5691 90px,#3bb472 92px,#7fca51 93px)"></i>
<i style="left:526.2px;top:262.8px;width:1.5px;height:93.3px;background:linear-gradient(#249786 0px,#259e82 2px,#259c83 4px,#239687 6px,#249886 8px,#27a47f 10px,#37b275 12px,#3ab373 14px,#2caa7b 16px,#26a180 18px,#259e83 20px,#249885 22px,#29a67d 24px,#2caa7b 26px,#249885 28px,#239189 30px,#259d83 32px,#32af77 34px,#2eac7a 36px,#29a57e 38px,#259d83 40px,#239388 42px,#2ca97c 44px,#2dab7b 46px,#248f8a 48px,#248d8a 50px,#249a84 52px,#249985 54px,#26a181 56px,#259f82 58px,#249985 60px,#249786 62px,#249985 64px,#26a180 66px,#26a280 68px,#2ca97c 70px,#259f82 72px,#27a47f 74px,#239587 76px,#259f82 78px,#27828d 80px,#2dab7b 82px,#49bc6b 84px,#e6e420 86px,#8bce4a 88px,#326891 90px,#259d83 92px,#e6e420 93px)"></i>
<i style="left:527.7px;top:262.8px;width:1.5px;height:93.3px;background:linear-gradient(#249786 0px,#249985 2px,#249a84 4px,#259d83 6px,#29a57e 8px,#27a47f 10px,#39b373 12px,#36b176 14px,#2ba87c 16px,#2ba87d 18px,#2daa7b 20px,#259b84 22px,#27a37f 24px,#3db572 26px,#2dab7b 28px,#239289 30px,#26a081 32px,#40b76f 34px,#35b076 36px,#29a67e 38px,#26a280 40px,#249b84 42px,#2eac7a 44px,#3ab473 46px,#249985 48px,#248d8a 50px,#249b84 52px,#26a280 54px,#2aa77d 56px,#2dab7b 58px,#259b84 60px,#239587 62px,#249885 64px,#26a280 66px,#26a081 68px,#2fac7a 70px,#2ba97c 72px,#2ba97c 74px,#27a380 76px,#57c164 78px,#259f82 80px,#259f81 82px,#259e83 84px,#e6e420 86px,#66c55d 88px,#3e5390 90px,#259f82 92px,#e6e420 93px)"></i>
<i style="left:529.2px;top:262.8px;width:1.5px;height:93.3px;background:linear-gradient(#2daa7b 0px,#259d83 2px,#249985 4px,#26a181 6px,#2aa77d 8px,#27a380 10px,#249687 12px,#249985 14px,#2dab7a 16px,#2dab7b 18px,#38b274 20px,#2aa77d 22px,#249985 24px,#2eac7a 26px,#3cb572 28px,#2daa7b 30px,#26a280 32px,#2dab7b 34px,#34b077 36px,#28a57e 38px,#26a081 40px,#259c84 42px,#259b84 44px,#2caa7b 46px,#31ae78 48px,#2aa77d 50px,#259d83 52px,#26a181 54px,#33af77 56px,#3bb473 58px,#25a081 60px,#239189 62px,#239488 64px,#29a67d 66px,#39b374 68px,#2eac7a 70px,#26a280 72px,#249886 74px,#239388 76px,#64c55e 78px,#7bc953 80px,#8ecf48 82px,#9dd33f 84px,#82cb4f 86px,#c1dc2c 88px,#259e82 90px,#239587 92px,#43b96e 93px)"></i>
<i style="left:530.7px;top:262.8px;width:1.5px;height:93.3px;background:linear-gradient(#2eac7a 0px,#29a67e 2px,#259e83 4px,#29a67e 6px,#27a37f 8px,#26a180 10px,#248e8a 12px,#248e8a 14px,#2ca97c 16px,#31ae78 18px,#38b274 20px,#2eab7a 22px,#259b84 24px,#28a47f 26px,#2caa7b 28px,#2eac7a 30px,#26a181 32px,#2aa87d 34px,#32ae78 36px,#2caa7b 38px,#26a280 40px,#26a181 42px,#259e82 44px,#28a57e 46px,#37b275 48px,#35b076 50px,#27a47f 52px,#27a37f 54px,#2dab7b 56px,#2aa77d 58px,#259d83 60px,#239289 62px,#239289 64px,#28a57e 66px,#43b96e 68px,#43b96e 70px,#2ba87c 72px,#259c83 74px,#249985 76px,#2eac7a 78px,#44ba6d 80px,#46bb6c 82px,#42b86f 84px,#7bc953 86px,#e6e420 88px,#ccdf27 90px,#28a47f 92px,#45ba6d 93px)"></i>
<i style="left:532.2px;top:262.8px;width:1.5px;height:93.3px;background:linear-gradient(#2aa77d 0px,#2dab7a 2px,#28a47f 4px,#26a280 6px,#2ca97c 8px,#259f81 10px,#249b84 12px,#239388 14px,#259c83 16px,#2dab7b 18px,#30ad79 20px,#45ba6d 22px,#2dab7b 24px,#2ba97c 26px,#49bc6b 28px,#39b374 30px,#2ba87c 32px,#2caa7b 34px,#2ba97c 36px,#2ba97c 38px,#2ca97c 40px,#32ae78 42px,#32ae78 44px,#27a37f 46px,#2caa7b 48px,#2ca97c 50px,#30ad79 52px,#33af77 54px,#27a37f 56px,#26a181 58px,#249787 60px,#27a380 62px,#249985 64px,#239687 66px,#30ad79 68px,#4dbe69 70px,#4fbe68 72px,#2dab7b 74px,#39b374 76px,#2eac7a 78px,#4cbd69 80px,#3cb572 82px,#25878c 84px,#3b5a91 86px,#259f82 88px,#cbdf27 90px,#e6e420 92px,#e6e420 93px)"></i>
<i style="left:533.7px;top:262.8px;width:1.5px;height:93.3px;background:linear-gradient(#2dab7b 0px,#35b076 2px,#2daa7b 4px,#2ba97c 6px,#35b076 8px,#34af77 10px,#29a67e 12px,#259f82 14px,#26a081 16px,#31ae78 18px,#2eac7a 20px,#42b96e 22px,#2ca97c 24px,#2dab7a 26px,#57c164 28px,#60c460 30px,#43b96e 32px,#3ab473 34px,#29a67e 36px,#27a380 38px,#31ae78 40px,#39b373 42px,#38b274 44px,#27a380 46px,#2aa77d 48px,#2ca97c 50px,#2fac7a 52px,#3eb670 54px,#32ae78 56px,#35b076 58px,#259f82 60px,#2eac7a 62px,#26a280 64px,#259e82 66px,#41b86f 68px,#3ab373 70px,#55c065 72px,#3cb572 74px,#5ac263 76px,#53c066 78px,#76c856 80px,#5fc461 82px,#2ca97c 84px,#2a778f 86px,#44ba6d 88px,#49bc6a 90px,#dee222 92px,#69c65c 93px)"></i>
<i style="left:535.2px;top:262.8px;width:1.5px;height:93.3px;background:linear-gradient(#37b175 0px,#44b96d 2px,#33af77 4px,#31ae78 6px,#30ad79 8px,#3db671 10px,#42b86e 12px,#3ab473 14px,#2eac7a 16px,#31ae78 18px,#30ad79 20px,#36b175 22px,#2caa7b 24px,#26a280 26px,#2dab7b 28px,#5cc362 30px,#59c263 32px,#3eb671 34px,#2caa7b 36px,#26a280 38px,#2caa7b 40px,#4bbd6a 42px,#4dbd69 44px,#2ba87c 46px,#2aa87d 48px,#38b274 50px,#3cb572 52px,#3ab473 54px,#3eb671 56px,#39b373 58px,#37b175 60px,#33af77 62px,#259f82 64px,#29a67e 66px,#3fb770 68px,#2daa7b 70px,#2fad79 72px,#43b96e 74px,#3fb670 76px,#2dab7b 78px,#35b076 80px,#248f8a 82px,#249b84 84px,#ccdf27 86px,#29a57e 88px,#2c748f 90px,#57c164 92px,#bcdb2e 93px)"></i>
<i style="left:536.7px;top:262.8px;width:1.5px;height:93.3px;background:linear-gradient(#32af78 0px,#41b86f 2px,#37b275 4px,#36b175 6px,#3eb670 8px,#3eb671 10px,#45ba6d 12px,#3eb671 14px,#43b96e 16px,#3fb770 18px,#2dab7b 20px,#2eac7a 22px,#32af77 24px,#2dab7b 26px,#2caa7b 28px,#4bbd6a 30px,#4ebe68 32px,#37b275 34px,#37b275 36px,#39b374 38px,#36b175 40px,#54c065 42px,#51bf67 44px,#2dab7a 46px,#2daa7b 48px,#3ab373 50px,#4ebe68 52px,#43b96e 54px,#33af77 56px,#2fad79 58px,#37b274 60px,#34b076 62px,#259f81 64px,#2ba87d 66px,#3db571 68px,#31ae78 70px,#2ba97c 72px,#4ebe68 74px,#4fbe68 76px,#3eb670 78px,#2dab7b 80px,#248e8a 82px,#287d8e 84px,#e6e420 86px,#a9d638 88px,#297b8e 90px,#65c55e 92px,#e6e420 93px)"></i>
<i style="left:538.2px;top:262.8px;width:1.5px;height:93.3px;background:linear-gradient(#26a181 0px,#2eab7a 2px,#2daa7b 4px,#37b175 6px,#31ae78 8px,#32ae78 10px,#4dbe69 12px,#3cb572 14px,#3bb473 16px,#42b96e 18px,#4bbd6a 20px,#3eb671 22px,#46bb6c 24px,#40b76f 26px,#29a57e 28px,#2dab7b 30px,#3ab473 32px,#26a081 34px,#2aa77d 36px,#41b86f 38px,#66c55d 40px,#53c066 42px,#40b86f 44px,#35b176 46px,#32ae78 48px,#31ae78 50px,#34af77 52px,#3cb572 54px,#43b96e 56px,#34b077 58px,#2aa77d 60px,#30ad79 62px,#2ca97c 64px,#3eb671 66px,#83cb4f 68px,#46bb6c 70px,#44ba6d 72px,#72c758 74px,#5ac263 76px,#239289 78px,#35b176 80px,#2b778f 82px,#26838d 84px,#259c83 86px,#336791 88px,#25888c 90px,#239488 92px,#27828d 93px)"></i>
<i style="left:539.7px;top:262.8px;width:1.5px;height:93.3px;background:linear-gradient(#259e82 0px,#2eab7a 2px,#2eac7a 4px,#34b077 6px,#2eac7a 8px,#29a67e 10px,#47bb6c 12px,#3cb572 14px,#32ae78 16px,#33af77 18px,#56c165 20px,#5fc461 22px,#4abc6a 24px,#43b96d 26px,#2fad79 28px,#27a47f 30px,#2ba87c 32px,#259d83 34px,#27a37f 36px,#39b374 38px,#66c55e 40px,#4dbe69 42px,#3bb473 44px,#40b770 46px,#44ba6d 48px,#34b077 50px,#2eac7a 52px,#4ebe69 54px,#58c264 56px,#42b96e 58px,#2ca97c 60px,#34b076 62px,#46bb6c 64px,#4dbd69 66px,#a1d43c 68px,#6ec75a 70px,#4ebe69 72px,#6bc65b 74px,#3fb770 76px,#2c7490 78px,#47bc6b 80px,#239687 82px,#26a280 84px,#3c5791 86px,#3d0552 88px,#493986 90px,#3ab373 92px,#70c759 93px)"></i>
<i style="left:541.2px;top:262.8px;width:1.5px;height:93.3px;background:linear-gradient(#2fad7a 0px,#3ab373 2px,#47bb6c 4px,#47bc6b 6px,#3ab373 8px,#2eac7a 10px,#33af77 12px,#2fad79 14px,#3eb671 16px,#43b96e 18px,#38b274 20px,#53c066 22px,#33af77 24px,#36b175 26px,#4ebe68 28px,#41b86f 30px,#2caa7b 32px,#2ca97c 34px,#32af78 36px,#3fb770 38px,#3ab373 40px,#3ab473 42px,#2caa7b 44px,#3bb472 46px,#55c065 48px,#55c065 50px,#3ab473 52px,#5cc362 54px,#6ac65b 56px,#38b274 58px,#3ab473 60px,#39b374 62px,#48bc6b 64px,#77c855 66px,#a4d53b 68px,#a0d43d 70px,#69c65c 72px,#67c55d 74px,#31ae78 76px,#249886 78px,#2aa77d 80px,#5ac263 82px,#2ba87c 84px,#39b373 86px,#34b076 88px,#2aa77d 90px,#71c758 92px,#52bf67 93px)"></i>
<i style="left:542.7px;top:262.8px;width:1.5px;height:93.3px;background:linear-gradient(#30ad79 0px,#39b374 2px,#4abc6a 4px,#57c164 6px,#33af77 8px,#33af77 10px,#36b175 12px,#33af77 14px,#46bb6c 16px,#51bf67 18px,#38b274 20px,#3db571 22px,#2daa7b 24px,#35b176 26px,#49bc6a 28px,#53c066 30px,#47bb6c 32px,#44ba6d 34px,#3bb472 36px,#4bbd6a 38px,#41b86f 40px,#37b274 42px,#2dab7b 44px,#29a67d 46px,#43b96e 48px,#65c55e 50px,#45ba6d 52px,#56c165 54px,#69c65c 56px,#3cb572 58px,#40b770 60px,#4abc6a 62px,#53c066 64px,#5fc461 66px,#92d045 68px,#a6d53a 70px,#7cca53 72px,#5fc461 74px,#3eb670 76px,#39b373 78px,#4ebe68 80px,#9dd33f 82px,#45ba6d 84px,#26a280 86px,#33af77 88px,#d8e124 90px,#e6e420 92px,#b3d933 93px)"></i>
<i style="left:544.2px;top:262.8px;width:1.5px;height:93.3px;background:linear-gradient(#27a47f 0px,#2ca97c 2px,#3ab373 4px,#67c55d 6px,#36b175 8px,#2fad79 10px,#52bf66 12px,#47bc6b 14px,#5dc362 16px,#69c65c 18px,#39b373 20px,#38b274 22px,#44ba6d 24px,#4bbd6a 26px,#49bc6b 28px,#3ab473 30px,#3bb473 32px,#45ba6d 34px,#53c066 36px,#51bf67 38px,#5ac263 40px,#4cbd69 42px,#3db572 44px,#2dab7b 46px,#56c165 48px,#88cd4b 50px,#7cca53 52px,#62c45f 54px,#59c263 56px,#5cc362 58px,#44ba6d 60px,#54c065 62px,#66c55d 64px,#46bb6c 66px,#37b275 68px,#77c855 70px,#7eca52 72px,#62c45f 74px,#96d143 76px,#99d241 78px,#76c856 80px,#c7de28 82px,#b1d834 84px,#248b8b 86px,#26a280 88px,#d9e124 90px,#9cd33f 92px,#72c758 93px)"></i>
<i style="left:545.7px;top:262.8px;width:1.5px;height:93.3px;background:linear-gradient(#2ba87c 0px,#3cb572 2px,#44ba6d 4px,#5fc461 6px,#37b275 8px,#2fad79 10px,#66c55d 12px,#58c264 14px,#4dbe69 16px,#57c164 18px,#39b374 20px,#37b275 22px,#4fbe68 24px,#5bc263 26px,#55c065 28px,#45ba6d 30px,#3ab473 32px,#46bb6c 34px,#55c065 36px,#52bf67 38px,#69c65c 40px,#69c65c 42px,#55c065 44px,#4bbd6a 46px,#69c65c 48px,#8ece48 50px,#96d143 52px,#6bc65b 54px,#57c164 56px,#59c263 58px,#52bf67 60px,#4ebe68 62px,#5dc362 64px,#41b86f 66px,#2ba87c 68px,#4abc6a 70px,#73c857 72px,#83cc4e 74px,#7fca51 76px,#58c264 78px,#89cd4b 80px,#2caa7b 82px,#72c758 84px,#25898c 86px,#405190 88px,#88cd4c 90px,#e6e420 92px,#e6e420 93px)"></i>
<i style="left:547.2px;top:262.8px;width:1.5px;height:93.3px;background:linear-gradient(#239189 0px,#43b96e 2px,#57c164 4px,#55c165 6px,#3cb572 8px,#35b176 10px,#6fc759 12px,#8bce49 14px,#4cbd69 16px,#2dab7b 18px,#2ca97c 20px,#29a67e 22px,#3cb472 24px,#52c066 26px,#44ba6d 28px,#50bf67 30px,#68c55c 32px,#60c460 34px,#51bf67 36px,#53c066 38px,#45bb6c 40px,#7cca53 42px,#5dc362 44px,#64c55e 46px,#4abc6a 48px,#42b86f 50px,#69c65c 52px,#5ac263 54px,#5bc362 56px,#5bc362 58px,#43b96e 60px,#66c55d 62px,#78c955 64px,#52bf67 66px,#3eb671 68px,#53c066 70px,#73c857 72px,#81cb50 74px,#63c45f 76px,#a8d638 78px,#2caa7b 80px,#2a788f 82px,#249985 84px,#e6e420 86px,#248e8a 88px,#2e7090 90px,#248b8b 92px,#248e8a 93px)"></i>
<i style="left:548.7px;top:262.8px;width:1.5px;height:93.3px;background:linear-gradient(#239488 0px,#2ba87c 2px,#4fbe68 4px,#58c264 6px,#42b86e 8px,#37b275 10px,#65c55e 12px,#7ac954 14px,#73c857 16px,#42b96e 18px,#2ca97c 20px,#2ca97c 22px,#47bc6b 24px,#4ebe68 26px,#3ab373 28px,#48bc6b 30px,#6ec75a 32px,#6cc65a 34px,#54c066 36px,#56c165 38px,#38b374 40px,#57c164 42px,#56c165 44px,#5fc460 46px,#59c263 48px,#2eac7a 50px,#49bc6b 52px,#54c066 54px,#62c45f 56px,#6bc65b 58px,#54c065 60px,#7cc953 62px,#79c954 64px,#6ac65b 66px,#59c264 68px,#67c55d 70px,#9cd33f 72px,#85cc4d 74px,#5bc263 76px,#d4e025 78px,#79c954 80px,#239588 82px,#29a67d 84px,#e6e420 86px,#26a181 88px,#2e7090 90px,#326791 92px,#346591 93px)"></i>
<i style="left:550.2px;top:262.8px;width:1.5px;height:93.3px;background:linear-gradient(#2eac7a 0px,#29a67d 2px,#47bb6c 4px,#61c460 6px,#4fbe68 8px,#33af77 10px,#35b076 12px,#4fbe68 14px,#9ad241 16px,#7cca53 18px,#5dc362 20px,#55c065 22px,#57c164 24px,#5ac263 26px,#52bf67 28px,#4fbe68 30px,#52bf67 32px,#65c55e 34px,#5bc263 36px,#4cbd69 38px,#4fbe68 40px,#50bf67 42px,#50bf67 44px,#56c165 46px,#63c45f 48px,#53c066 50px,#28a57e 52px,#37b275 54px,#6fc759 56px,#6ec75a 58px,#5ac263 60px,#8ecf48 62px,#7fca51 64px,#4cbd69 66px,#4ebe69 68px,#58c264 70px,#8ace4a 72px,#96d143 74px,#ccdf27 76px,#e6e420 78px,#e6e420 80px,#e6e420 82px,#259c83 84px,#248f89 86px,#2eac7a 88px,#35b076 90px,#5cc362 92px,#e6e420 93px)"></i>
<i style="left:551.7px;top:262.8px;width:1.5px;height:93.3px;background:linear-gradient(#4fbe68 0px,#2eac7a 2px,#41b86f 4px,#81cb50 6px,#6dc65a 8px,#3cb572 10px,#40b86f 12px,#5cc362 14px,#88cd4c 16px,#78c955 18px,#6bc65b 20px,#8bce4a 22px,#6cc65b 24px,#64c55e 26px,#5dc361 28px,#51bf67 30px,#50bf67 32px,#62c45f 34px,#75c856 36px,#57c164 38px,#51bf67 40px,#5bc362 42px,#4bbd6a 44px,#54c066 46px,#58c264 48px,#65c55e 50px,#36b175 52px,#43b96e 54px,#6cc65a 56px,#77c855 58px,#59c263 60px,#5fc461 62px,#67c55d 64px,#57c164 66px,#6ac65b 68px,#6ac65c 70px,#81cb50 72px,#a5d53a 74px,#e6e420 76px,#e6e420 78px,#e6e420 80px,#e6e420 82px,#dae223 84px,#2f6f90 86px,#239388 88px,#2aa77d 90px,#e1e321 92px,#e6e420 93px)"></i>
<i style="left:553.2px;top:262.8px;width:1.5px;height:93.3px;background:linear-gradient(#66c55e 0px,#44b96d 2px,#44ba6d 4px,#64c55e 6px,#72c758 8px,#56c165 10px,#68c55c 12px,#9cd33f 14px,#6dc65a 16px,#4dbe69 18px,#45ba6d 20px,#77c855 22px,#7eca51 24px,#84cc4e 26px,#71c758 28px,#4ebe68 30px,#47bb6b 32px,#67c55d 34px,#9cd240 36px,#aed735 38px,#43b96e 40px,#46bb6c 42px,#58c164 44px,#47bb6b 46px,#64c55e 48px,#73c857 50px,#68c55d 52px,#6dc65a 54px,#72c758 56px,#7bc954 58px,#74c857 60px,#54c066 62px,#6dc65a 64px,#6ec75a 66px,#87cd4c 68px,#c1dc2c 70px,#b9da30 72px,#d4e025 74px,#b4d932 76px,#d6e124 78px,#d4e025 80px,#e6e420 82px,#d3e025 84px,#91d046 86px,#4cbd69 88px,#6fc759 90px,#248e8a 92px,#249b84 93px)"></i>
<i style="left:554.7px;top:262.8px;width:1.5px;height:93.3px;background:linear-gradient(#73c857 0px,#4cbd69 2px,#5cc362 4px,#6bc65b 6px,#7ac954 8px,#61c460 10px,#67c55d 12px,#97d142 14px,#91cf46 16px,#60c460 18px,#3fb770 20px,#66c55d 22px,#88cd4c 24px,#83cc4e 26px,#70c759 28px,#55c065 30px,#5ec361 32px,#90cf47 34px,#b7da31 36px,#d2e025 38px,#68c55c 40px,#3db571 42px,#5dc362 44px,#5dc362 46px,#73c857 48px,#84cc4e 50px,#72c758 52px,#6dc65a 54px,#71c758 56px,#82cb4f 58px,#8ace4a 60px,#7bc953 62px,#8ace4a 64px,#86cc4d 66px,#6ac65b 68px,#b3d933 70px,#c8de28 72px,#e3e321 74px,#c3dd2b 76px,#e6e420 78px,#60c460 80px,#98d142 82px,#52bf67 84px,#71c758 86px,#2eac7a 88px,#d9e123 90px,#44ba6d 92px,#32ae78 93px)"></i>
<i style="left:556.2px;top:262.8px;width:1.5px;height:93.3px;background:linear-gradient(#5ac263 0px,#54c066 2px,#63c45f 4px,#94d044 6px,#99d241 8px,#77c855 10px,#45ba6d 12px,#54c066 14px,#abd737 16px,#8dce49 18px,#4fbe68 20px,#52bf67 22px,#82cb4f 24px,#7bc954 26px,#58c264 28px,#4cbd69 30px,#74c857 32px,#b6d931 34px,#d5e125 36px,#d8e124 38px,#bedc2d 40px,#5ac263 42px,#73c857 44px,#82cb4f 46px,#7eca51 48px,#69c65c 50px,#9dd33f 52px,#aed735 54px,#85cc4d 56px,#b8da30 58px,#96d143 60px,#9fd33d 62px,#93d045 64px,#8dce49 66px,#53c066 68px,#76c856 70px,#afd835 72px,#ccdf27 74px,#e6e420 76px,#e6e420 78px,#e0e322 80px,#cddf27 82px,#e6e420 84px,#abd737 86px,#249189 88px,#51bf67 90px,#e6e420 92px,#e6e420 93px)"></i>
<i style="left:557.7px;top:262.8px;width:1.5px;height:93.3px;background:linear-gradient(#69c65c 0px,#6ac65c 2px,#69c65c 4px,#86cc4d 6px,#a9d638 8px,#a8d638 10px,#4bbd6a 12px,#4ebe68 14px,#b4d932 16px,#a7d639 18px,#6ac65b 20px,#57c164 22px,#79c955 24px,#81cb50 26px,#7ac954 28px,#66c55d 30px,#75c856 32px,#b7da31 34px,#bedb2d 36px,#b3d933 38px,#a7d639 40px,#7ac954 42px,#9dd33f 44px,#98d142 46px,#83cc4e 48px,#64c55e 50px,#a8d638 52px,#cddf27 54px,#b8da30 56px,#d8e124 58px,#c0dc2c 60px,#a3d43b 62px,#aad637 64px,#89cd4b 66px,#66c55d 68px,#7ac954 70px,#b6d931 72px,#c0dc2c 74px,#a7d639 76px,#dde222 78px,#e6e420 80px,#e2e321 82px,#e6e420 84px,#e6e420 86px,#add736 88px,#259c83 90px,#b4d932 92px,#e6e420 93px)"></i>
<i style="left:559.2px;top:262.8px;width:1.5px;height:93.3px;background:linear-gradient(#67c55d 0px,#86cc4c 2px,#5fc461 4px,#4cbd69 6px,#74c857 8px,#e4e420 10px,#c2dc2b 12px,#97d142 14px,#86cc4d 16px,#7bc953 18px,#7cc953 20px,#86cc4d 22px,#94d045 24px,#a5d53a 26px,#bddb2e 28px,#b0d835 30px,#c7de28 32px,#d3e025 34px,#9dd33f 36px,#95d044 38px,#78c955 40px,#70c759 42px,#9bd240 44px,#9cd33f 46px,#97d143 48px,#7cc953 50px,#98d242 52px,#cbdf27 54px,#dfe322 56px,#e6e420 58px,#e6e420 60px,#cfdf26 62px,#ccdf27 64px,#a9d638 66px,#add736 68px,#a3d43b 70px,#b6d931 72px,#b6d931 74px,#d4e025 76px,#50bf67 78px,#bedb2d 80px,#dee222 82px,#c6dd29 84px,#e6e420 86px,#d2e025 88px,#4ebe69 90px,#7fca51 92px,#add736 93px)"></i>
<i style="left:560.7px;top:262.8px;width:1.5px;height:93.3px;background:linear-gradient(#42b86f 0px,#98d142 2px,#7bc954 4px,#42b96e 6px,#55c065 8px,#c5dd2a 10px,#e4e420 12px,#cbdf27 14px,#90cf47 16px,#81cb50 18px,#69c65c 20px,#75c856 22px,#79c955 24px,#b3d933 26px,#b8da30 28px,#add736 30px,#cfdf26 32px,#c9de28 34px,#b0d835 36px,#a6d53a 38px,#9bd240 40px,#9ad241 42px,#bedb2d 44px,#a2d43c 46px,#aed735 48px,#a6d53a 50px,#afd735 52px,#d0e026 54px,#d9e124 56px,#e4e421 58px,#e6e420 60px,#e3e321 62px,#c8de28 64px,#bada2f 66px,#c8de28 68px,#bcdb2e 70px,#add736 72px,#b0d835 74px,#d9e123 76px,#5ac263 78px,#2aa77d 80px,#9ed33f 82px,#75c857 84px,#e6e420 86px,#e6e420 88px,#4bbd6a 90px,#d8e124 92px,#e6e420 93px)"></i>
<i style="left:562.2px;top:262.8px;width:1.5px;height:93.3px;background:linear-gradient(#259d83 0px,#54c066 2px,#97d143 4px,#54c066 6px,#4bbd6a 8px,#75c856 10px,#b1d834 12px,#c3dd2b 14px,#d5e124 16px,#c4dd2a 18px,#a7d539 20px,#5ac263 22px,#39b374 24px,#6cc65b 26px,#9cd240 28px,#94d045 30px,#97d142 32px,#85cc4d 34px,#96d143 36px,#a2d43c 38px,#88cd4b 40px,#b4d932 42px,#bfdc2c 44px,#b0d834 46px,#9cd33f 48px,#c8de28 50px,#d2e025 52px,#cbdf27 54px,#d3e025 56px,#d5e125 58px,#d6e124 60px,#d3e025 62px,#b7da31 64px,#bedb2d 66px,#cddf27 68px,#dbe223 70px,#c7de28 72px,#9cd23f 74px,#7ac954 76px,#67c55d 78px,#9ad240 80px,#dde222 82px,#b5d932 84px,#e6e420 86px,#a7d639 88px,#249886 90px,#e6e420 92px,#e6e420 93px)"></i>
<i style="left:563.7px;top:262.8px;width:1.5px;height:93.3px;background:linear-gradient(#2ba87d 0px,#43b96e 2px,#9cd33f 4px,#7dca52 6px,#61c460 8px,#7cca53 10px,#a1d43c 12px,#add736 14px,#ccdf27 16px,#cddf27 18px,#c7de29 20px,#77c855 22px,#36b175 24px,#4bbd6a 26px,#8ecf48 28px,#a8d638 30px,#9fd33d 32px,#92d046 34px,#8ecf48 36px,#abd737 38px,#96d143 40px,#9ed33e 42px,#b9da30 44px,#b4d932 46px,#9fd33d 48px,#c7de29 50px,#e2e321 52px,#d4e025 54px,#dde222 56px,#e6e420 58px,#cbdf27 60px,#bedb2d 62px,#b3d933 64px,#c9de28 66px,#cbdf27 68px,#dbe223 70px,#d7e124 72px,#a4d53a 74px,#a9d638 76px,#48bc6b 78px,#6fc759 80px,#c5dd29 82px,#abd737 84px,#b8da30 86px,#b9da30 88px,#2a798f 90px,#b3d933 92px,#e6e420 93px)"></i>
<i style="left:565.2px;top:262.8px;width:1.5px;height:93.3px;background:linear-gradient(#64c55e 0px,#50bf67 2px,#a8d639 4px,#acd736 6px,#a1d43c 8px,#8cce49 10px,#90cf47 12px,#9dd33f 14px,#9ad240 16px,#a4d53b 18px,#e4e421 20px,#c4dd2a 22px,#80cb51 24px,#46bb6c 26px,#a2d43c 28px,#b7da31 30px,#aed735 32px,#aed735 34px,#8cce49 36px,#a0d43d 38px,#c6de29 40px,#b7da31 42px,#cfdf26 44px,#c3dd2b 46px,#a8d638 48px,#c3dd2a 50px,#c7de29 52px,#a9d638 54px,#e0e322 56px,#e6e420 58px,#e6e420 60px,#9bd240 62px,#89cd4b 64px,#b8da30 66px,#cddf27 68px,#d0e026 70px,#d9e123 72px,#bbdb2e 74px,#8dce48 76px,#54c065 78px,#58c264 80px,#81cb50 82px,#e6e420 84px,#e6e420 86px,#e6e420 88px,#e6e420 90px,#b9da30 92px,#62c45f 93px)"></i>
<i style="left:566.7px;top:262.8px;width:1.5px;height:93.3px;background:linear-gradient(#6dc65a 0px,#4ebe68 2px,#7eca52 4px,#b0d834 6px,#afd835 8px,#bcdb2e 10px,#97d142 12px,#acd736 14px,#add736 16px,#9ed33e 18px,#d0e026 20px,#e4e420 22px,#cddf27 24px,#9ad241 26px,#ccdf27 28px,#cddf27 30px,#bddb2d 32px,#b8da30 34px,#99d241 36px,#add736 38px,#dae223 40px,#d9e123 42px,#d9e123 44px,#c5dd2a 46px,#b0d834 48px,#cade27 50px,#c6dd29 52px,#9fd33e 54px,#c7de28 56px,#e6e420 58px,#e6e420 60px,#a9d638 62px,#9bd240 64px,#b6d931 66px,#d6e124 68px,#e3e321 70px,#e6e420 72px,#e1e321 74px,#75c856 76px,#51bf67 78px,#d5e125 80px,#e6e420 82px,#e6e420 84px,#e6e420 86px,#e6e420 88px,#e6e420 90px,#e6e420 92px,#aad638 93px)"></i>
<i style="left:568.2px;top:262.8px;width:1.5px;height:93.3px;background:linear-gradient(#52bf66 0px,#56c165 2px,#5ac263 4px,#73c857 6px,#9dd33f 8px,#e6e420 10px,#dde222 12px,#b6d931 14px,#8ecf48 16px,#a4d53b 18px,#bbdb2f 20px,#cade27 22px,#c7de28 24px,#d3e025 26px,#c9de28 28px,#d2e025 30px,#dce223 32px,#d8e124 34px,#b2d833 36px,#b0d835 38px,#d6e124 40px,#e6e420 42px,#c9de28 44px,#c6de29 46px,#c5dd2a 48px,#e1e321 50px,#d1e026 52px,#abd737 54px,#a7d639 56px,#c0dc2c 58px,#e6e420 60px,#d2e025 62px,#d5e125 64px,#e3e321 66px,#dce223 68px,#e5e420 70px,#e6e420 72px,#e6e420 74px,#dce223 76px,#cade28 78px,#e6e420 80px,#e6e420 82px,#e6e420 84px,#e6e420 86px,#e6e420 88px,#e6e420 90px,#e6e420 92px,#e6e420 93px)"></i>
<i style="left:569.7px;top:262.8px;width:1.5px;height:93.3px;background:linear-gradient(#6ec75a 0px,#6cc65b 2px,#74c857 4px,#70c759 6px,#a2d43c 8px,#e6e420 10px,#e6e420 12px,#c9de28 14px,#82cb4f 16px,#aed735 18px,#c9de28 20px,#b7da31 22px,#b4d932 24px,#badb2f 26px,#b2d833 28px,#c0dc2c 30px,#dbe223 32px,#cfdf26 34px,#b6d931 36px,#bedb2d 38px,#d3e025 40px,#cfdf26 42px,#bcdb2e 44px,#bfdc2d 46px,#c0dc2c 48px,#e6e420 50px,#e6e420 52px,#c2dd2b 54px,#b1d834 56px,#c2dc2b 58px,#e6e420 60px,#e6e420 62px,#e6e420 64px,#e6e420 66px,#e6e420 68px,#e6e420 70px,#e6e420 72px,#e0e322 74px,#e6e420 76px,#e6e420 78px,#e6e420 80px,#e6e420 82px,#e6e420 84px,#e6e420 86px,#e6e420 88px,#e6e420 90px,#e6e420 92px,#e6e420 93px)"></i>
<i style="left:571.2px;top:262.8px;width:1.5px;height:93.3px;background:linear-gradient(#8ecf48 0px,#84cc4e 2px,#a0d43d 4px,#add736 6px,#c4dd2a 8px,#dde222 10px,#e1e321 12px,#c0dc2c 14px,#c6de29 16px,#e1e321 18px,#d1e026 20px,#b6d931 22px,#ccdf27 24px,#bddb2e 26px,#acd736 28px,#b8da30 30px,#a8d639 32px,#abd737 34px,#b4d932 36px,#d3e025 38px,#e6e420 40px,#e6e420 42px,#e6e420 44px,#d7e124 46px,#bfdc2d 48px,#e2e321 50px,#e6e420 52px,#e6e420 54px,#dce223 56px,#d6e124 58px,#e2e321 60px,#e6e420 62px,#e6e420 64px,#e6e420 66px,#e6e420 68px,#e6e420 70px,#e6e420 72px,#e6e420 74px,#e6e420 76px,#e6e420 78px,#d8e124 80px,#51bf67 82px,#6ec75a 84px,#d9e123 86px,#2fac7a 88px,#d1e025 90px,#e6e420 92px,#e6e420 93px)"></i>
<i style="left:572.7px;top:262.8px;width:1.5px;height:93.3px;background:linear-gradient(#6ac65b 0px,#7fca51 2px,#96d143 4px,#c1dc2b 6px,#c9de28 8px,#dde222 10px,#d1e026 12px,#cfdf26 14px,#d1e026 16px,#d4e025 18px,#d2e025 20px,#b8da30 22px,#ccdf27 24px,#d1e026 26px,#c1dc2c 28px,#c2dc2b 30px,#afd835 32px,#a3d43b 34px,#c8de28 36px,#dee222 38px,#e6e420 40px,#e6e420 42px,#e6e420 44px,#e6e420 46px,#bddb2e 48px,#d6e124 50px,#e6e420 52px,#e6e420 54px,#e6e420 56px,#e6e420 58px,#e4e420 60px,#e6e420 62px,#e6e420 64px,#e6e420 66px,#e5e420 68px,#d4e025 70px,#e6e420 72px,#e6e420 74px,#e6e420 76px,#e6e420 78px,#e6e420 80px,#2fad79 82px,#83cc4e 84px,#e6e420 86px,#e6e420 88px,#a9d638 90px,#e6e420 92px,#d5e125 93px)"></i>
<svg width="675" height="519" viewBox="0 0 675 519">
<defs><linearGradient id="cbc" x1="0" y1="0" x2="0" y2="1"><stop offset="0.019" stop-color="#e6e420"/><stop offset="0.066" stop-color="#c8de28"/><stop offset="0.114" stop-color="#a5d53a"/><stop offset="0.157" stop-color="#7ac954"/><stop offset="0.191" stop-color="#5cc362"/><stop offset="0.229" stop-color="#46bb6c"/><stop offset="0.277" stop-color="#2eac7a"/><stop offset="0.315" stop-color="#26a280"/><stop offset="0.367" stop-color="#239488"/><stop offset="0.429" stop-color="#25878c"/><stop offset="0.487" stop-color="#2a788f"/><stop offset="0.539" stop-color="#326891"/><stop offset="0.592" stop-color="#3c5891"/><stop offset="0.640" stop-color="#434b8f"/><stop offset="0.687" stop-color="#483c88"/><stop offset="0.726" stop-color="#4c2e80"/><stop offset="0.783" stop-color="#521c76"/><stop offset="0.835" stop-color="#540e70"/><stop offset="0.888" stop-color="#43055a"/><stop offset="0.936" stop-color="#230330"/><stop offset="0.974" stop-color="#000000"/></linearGradient><linearGradient id="cbd" x1="0" y1="0" x2="0" y2="1"><stop offset="0.018" stop-color="#e6e420"/><stop offset="0.066" stop-color="#c8de28"/><stop offset="0.113" stop-color="#a5d53a"/><stop offset="0.157" stop-color="#7ac954"/><stop offset="0.190" stop-color="#5cc362"/><stop offset="0.228" stop-color="#46bb6c"/><stop offset="0.276" stop-color="#2eac7a"/><stop offset="0.315" stop-color="#26a280"/><stop offset="0.367" stop-color="#239488"/><stop offset="0.429" stop-color="#25878c"/><stop offset="0.487" stop-color="#2a788f"/><stop offset="0.540" stop-color="#326891"/><stop offset="0.592" stop-color="#3c5891"/><stop offset="0.640" stop-color="#434b8f"/><stop offset="0.688" stop-color="#483c88"/><stop offset="0.726" stop-color="#4c2e80"/><stop offset="0.784" stop-color="#521c76"/><stop offset="0.836" stop-color="#540e70"/><stop offset="0.889" stop-color="#43055a"/><stop offset="0.937" stop-color="#230330"/><stop offset="0.975" stop-color="#000000"/></linearGradient></defs>
<rect x="92.00" y="263.30" width="140.00" height="93.20" fill="none" stroke="#000" stroke-width="1.6"/>
<line x1="92.00" y1="263.30" x2="92.00" y2="252.30" stroke="#000" stroke-width="1.6" />
<line x1="92.00" y1="356.50" x2="92.00" y2="367.50" stroke="#000" stroke-width="1.6" />
<line x1="127.00" y1="263.30" x2="127.00" y2="252.30" stroke="#000" stroke-width="1.6" />
<line x1="127.00" y1="356.50" x2="127.00" y2="367.50" stroke="#000" stroke-width="1.6" />
<line x1="162.00" y1="263.30" x2="162.00" y2="252.30" stroke="#000" stroke-width="1.6" />
<line x1="162.00" y1="356.50" x2="162.00" y2="367.50" stroke="#000" stroke-width="1.6" />
<line x1="197.00" y1="263.30" x2="197.00" y2="252.30" stroke="#000" stroke-width="1.6" />
<line x1="197.00" y1="356.50" x2="197.00" y2="367.50" stroke="#000" stroke-width="1.6" />
<line x1="232.00" y1="263.30" x2="232.00" y2="252.30" stroke="#000" stroke-width="1.6" />
<line x1="232.00" y1="356.50" x2="232.00" y2="367.50" stroke="#000" stroke-width="1.6" />
<line x1="109.50" y1="263.30" x2="109.50" y2="257.30" stroke="#000" stroke-width="1.6" />
<line x1="109.50" y1="356.50" x2="109.50" y2="362.50" stroke="#000" stroke-width="1.6" />
<line x1="144.50" y1="263.30" x2="144.50" y2="257.30" stroke="#000" stroke-width="1.6" />
<line x1="144.50" y1="356.50" x2="144.50" y2="362.50" stroke="#000" stroke-width="1.6" />
<line x1="179.50" y1="263.30" x2="179.50" y2="257.30" stroke="#000" stroke-width="1.6" />
<line x1="179.50" y1="356.50" x2="179.50" y2="362.50" stroke="#000" stroke-width="1.6" />
<line x1="214.50" y1="263.30" x2="214.50" y2="257.30" stroke="#000" stroke-width="1.6" />
<line x1="214.50" y1="356.50" x2="214.50" y2="362.50" stroke="#000" stroke-width="1.6" />
<line x1="92.00" y1="343.50" x2="81.00" y2="343.50" stroke="#000" stroke-width="1.6" />
<line x1="232.00" y1="343.50" x2="243.00" y2="343.50" stroke="#000" stroke-width="1.6" />
<line x1="92.00" y1="316.83" x2="81.00" y2="316.83" stroke="#000" stroke-width="1.6" />
<line x1="232.00" y1="316.83" x2="243.00" y2="316.83" stroke="#000" stroke-width="1.6" />
<line x1="92.00" y1="290.17" x2="81.00" y2="290.17" stroke="#000" stroke-width="1.6" />
<line x1="232.00" y1="290.17" x2="243.00" y2="290.17" stroke="#000" stroke-width="1.6" />
<line x1="92.00" y1="263.50" x2="81.00" y2="263.50" stroke="#000" stroke-width="1.6" />
<line x1="232.00" y1="263.50" x2="243.00" y2="263.50" stroke="#000" stroke-width="1.6" />
<line x1="92.00" y1="356.83" x2="86.00" y2="356.83" stroke="#000" stroke-width="1.6" />
<line x1="232.00" y1="356.83" x2="238.00" y2="356.83" stroke="#000" stroke-width="1.6" />
<line x1="92.00" y1="330.17" x2="86.00" y2="330.17" stroke="#000" stroke-width="1.6" />
<line x1="232.00" y1="330.17" x2="238.00" y2="330.17" stroke="#000" stroke-width="1.6" />
<line x1="92.00" y1="303.50" x2="86.00" y2="303.50" stroke="#000" stroke-width="1.6" />
<line x1="232.00" y1="303.50" x2="238.00" y2="303.50" stroke="#000" stroke-width="1.6" />
<line x1="92.00" y1="276.83" x2="86.00" y2="276.83" stroke="#000" stroke-width="1.6" />
<line x1="232.00" y1="276.83" x2="238.00" y2="276.83" stroke="#000" stroke-width="1.6" />
<line x1="92.00" y1="356.50" x2="92.00" y2="370.00" stroke="#000" stroke-width="1.6" />
<line x1="232.00" y1="356.50" x2="232.00" y2="370.00" stroke="#000" stroke-width="1.6" />
<text x="76.00" y="348.80" font-size="15" text-anchor="end" fill="#000" >2.0</text>
<text x="76.00" y="322.13" font-size="15" text-anchor="end" fill="#000" >2.2</text>
<text x="76.00" y="295.47" font-size="15" text-anchor="end" fill="#000" >2.4</text>
<text x="76.00" y="268.80" font-size="15" text-anchor="end" fill="#000" >2.6</text>
<polyline points="92.8,333.3 96.7,333.0 98.9,333.9 101.1,335.8 103.3,333.6 105.6,335.0 107.2,336.7 108.3,332.8 110.0,331.7 112.2,333.3 114.4,331.9 118.9,332.2 121.1,329.4 123.3,328.3 125.6,330.0 126.7,327.2 128.9,326.7 131.1,325.0 134.4,325.0 138.9,323.3 143.3,323.9 145.6,325.6 148.9,326.4 153.3,326.1 156.7,323.9 160.0,320.9 162.8,320.6 165.0,323.1 168.3,325.0 171.1,326.1 174.4,326.4 177.8,325.6 180.0,323.9 183.3,323.1 186.7,324.7 190.0,325.6 192.8,324.7 195.6,327.2 198.3,329.8 201.1,328.3 203.9,330.6 205.6,332.2 208.9,331.7 211.7,333.9 213.3,331.7 214.4,331.3 216.1,334.7 218.9,334.2 222.2,335.0 225.6,333.3 230.6,333.1" fill="none" stroke="#ff0000" stroke-width="1.9" stroke-linejoin="round" stroke-linecap="square"/>
<polyline points="93.4,295.2 96.1,297.9 98.1,298.5 100.1,300.9 101.5,302.6 102.5,305.1 104.2,306.0 105.2,308.9" fill="none" stroke="#ff0000" stroke-width="1.9" stroke-linejoin="round" stroke-linecap="square"/>
<polyline points="218.5,309.7 219.5,306.6 221.2,304.3 223.9,300.9 225.2,298.3 227.9,298.2 228.6,296.5 230.3,295.2" fill="none" stroke="#ff0000" stroke-width="1.9" stroke-linejoin="round" stroke-linecap="square"/>
<rect x="91.1" y="289.4" width="2.6" height="2.6" fill="#ff0000"/>
<rect x="90.9" y="327.0" width="2.6" height="2.6" fill="#ff0000"/>
<rect x="229.9" y="289.5" width="2.6" height="2.6" fill="#ff0000"/>
<rect x="229.8" y="327.8" width="2.6" height="2.6" fill="#ff0000"/>
<rect x="248.8" y="263" width="9.2" height="80.4" fill="url(#cbc)" stroke="#000" stroke-width="1.3"/>
<line x1="258.00" y1="341.30" x2="268.00" y2="341.30" stroke="#000" stroke-width="1.6" />
<text x="273.40" y="346.60" font-size="15" text-anchor="start" fill="#000" >0.00</text>
<line x1="258.00" y1="322.10" x2="268.00" y2="322.10" stroke="#000" stroke-width="1.6" />
<text x="273.40" y="327.40" font-size="15" text-anchor="start" fill="#000" >0.05</text>
<line x1="258.00" y1="302.90" x2="268.00" y2="302.90" stroke="#000" stroke-width="1.6" />
<text x="273.40" y="308.20" font-size="15" text-anchor="start" fill="#000" >0.10</text>
<line x1="258.00" y1="283.70" x2="268.00" y2="283.70" stroke="#000" stroke-width="1.6" />
<text x="273.40" y="289.00" font-size="15" text-anchor="start" fill="#000" >0.15</text>
<line x1="258.00" y1="264.50" x2="268.00" y2="264.50" stroke="#000" stroke-width="1.6" />
<text x="273.40" y="269.80" font-size="15" text-anchor="start" fill="#000" >0.20</text>
<rect x="92.00" y="370.00" width="140.00" height="87.70" fill="none" stroke="#000" stroke-width="1.6"/>
<line x1="92.00" y1="370.00" x2="92.00" y2="359.00" stroke="#000" stroke-width="1.6" />
<line x1="92.00" y1="457.70" x2="92.00" y2="468.70" stroke="#000" stroke-width="1.6" />
<line x1="127.00" y1="370.00" x2="127.00" y2="359.00" stroke="#000" stroke-width="1.6" />
<line x1="127.00" y1="457.70" x2="127.00" y2="468.70" stroke="#000" stroke-width="1.6" />
<line x1="162.00" y1="370.00" x2="162.00" y2="359.00" stroke="#000" stroke-width="1.6" />
<line x1="162.00" y1="457.70" x2="162.00" y2="468.70" stroke="#000" stroke-width="1.6" />
<line x1="197.00" y1="370.00" x2="197.00" y2="359.00" stroke="#000" stroke-width="1.6" />
<line x1="197.00" y1="457.70" x2="197.00" y2="468.70" stroke="#000" stroke-width="1.6" />
<line x1="232.00" y1="370.00" x2="232.00" y2="359.00" stroke="#000" stroke-width="1.6" />
<line x1="232.00" y1="457.70" x2="232.00" y2="468.70" stroke="#000" stroke-width="1.6" />
<line x1="109.50" y1="370.00" x2="109.50" y2="364.00" stroke="#000" stroke-width="1.6" />
<line x1="109.50" y1="457.70" x2="109.50" y2="463.70" stroke="#000" stroke-width="1.6" />
<line x1="144.50" y1="370.00" x2="144.50" y2="364.00" stroke="#000" stroke-width="1.6" />
<line x1="144.50" y1="457.70" x2="144.50" y2="463.70" stroke="#000" stroke-width="1.6" />
<line x1="179.50" y1="370.00" x2="179.50" y2="364.00" stroke="#000" stroke-width="1.6" />
<line x1="179.50" y1="457.70" x2="179.50" y2="463.70" stroke="#000" stroke-width="1.6" />
<line x1="214.50" y1="370.00" x2="214.50" y2="364.00" stroke="#000" stroke-width="1.6" />
<line x1="214.50" y1="457.70" x2="214.50" y2="463.70" stroke="#000" stroke-width="1.6" />
<line x1="92.00" y1="370.00" x2="81.00" y2="370.00" stroke="#000" stroke-width="1.6" />
<line x1="232.00" y1="370.00" x2="243.00" y2="370.00" stroke="#000" stroke-width="1.6" />
<text x="76.00" y="375.30" font-size="15" text-anchor="end" fill="#000" >0.0</text>
<line x1="92.00" y1="399.23" x2="81.00" y2="399.23" stroke="#000" stroke-width="1.6" />
<line x1="232.00" y1="399.23" x2="243.00" y2="399.23" stroke="#000" stroke-width="1.6" />
<text x="76.00" y="404.53" font-size="15" text-anchor="end" fill="#000" >0.1</text>
<line x1="92.00" y1="428.46" x2="81.00" y2="428.46" stroke="#000" stroke-width="1.6" />
<line x1="232.00" y1="428.46" x2="243.00" y2="428.46" stroke="#000" stroke-width="1.6" />
<text x="76.00" y="433.76" font-size="15" text-anchor="end" fill="#000" >0.2</text>
<line x1="92.00" y1="457.69" x2="81.00" y2="457.69" stroke="#000" stroke-width="1.6" />
<line x1="232.00" y1="457.69" x2="243.00" y2="457.69" stroke="#000" stroke-width="1.6" />
<text x="76.00" y="462.99" font-size="15" text-anchor="end" fill="#000" >0.3</text>
<text x="92.00" y="487.60" font-size="15" text-anchor="middle" fill="#000" >-8</text>
<text x="127.00" y="487.60" font-size="15" text-anchor="middle" fill="#000" >-4</text>
<text x="162.00" y="487.60" font-size="15" text-anchor="middle" fill="#000" >0</text>
<text x="197.00" y="487.60" font-size="15" text-anchor="middle" fill="#000" >4</text>
<text x="232.00" y="487.60" font-size="15" text-anchor="middle" fill="#000" >8</text>
<text x="162.00" y="515.80" font-size="15" text-anchor="middle" fill="#000" >B (T)</text>
<line x1="127.00" y1="370.00" x2="92.00" y2="457.70" stroke="#0000e8" stroke-width="1.9" stroke-dasharray="8 3" stroke-dashoffset="0"/>
<line x1="196.70" y1="370.00" x2="232.00" y2="457.70" stroke="#0000e8" stroke-width="1.9" stroke-dasharray="8 3" stroke-dashoffset="0"/>
<rect x="104.2" y="425.6" width="3.3" height="3.3" fill="#ff0000"/>
<rect x="101.8" y="429.6" width="3.3" height="3.3" fill="#ff0000"/>
<rect x="98.6" y="429.0" width="3.3" height="3.3" fill="#ff0000"/>
<rect x="96.9" y="440.6" width="3.3" height="3.3" fill="#ff0000"/>
<rect x="95.1" y="444.4" width="3.3" height="3.3" fill="#ff0000"/>
<rect x="93.9" y="446.0" width="3.3" height="3.3" fill="#ff0000"/>
<rect x="92.4" y="447.8" width="3.3" height="3.3" fill="#ff0000"/>
<rect x="91.1" y="450.0" width="3.3" height="3.3" fill="#ff0000"/>
<rect x="90.8" y="452.0" width="3.3" height="3.3" fill="#ff0000"/>
<rect x="214.3" y="416.1" width="3.3" height="3.3" fill="#ff0000"/>
<rect x="216.8" y="426.7" width="3.3" height="3.3" fill="#ff0000"/>
<rect x="217.7" y="427.7" width="3.3" height="3.3" fill="#ff0000"/>
<rect x="218.2" y="433.4" width="3.3" height="3.3" fill="#ff0000"/>
<rect x="219.2" y="437.4" width="3.3" height="3.3" fill="#ff0000"/>
<rect x="221.4" y="437.7" width="3.3" height="3.3" fill="#ff0000"/>
<rect x="222.9" y="440.2" width="3.3" height="3.3" fill="#ff0000"/>
<rect x="224.8" y="441.2" width="3.3" height="3.3" fill="#ff0000"/>
<rect x="223.5" y="442.8" width="3.3" height="3.3" fill="#ff0000"/>
<rect x="220.2" y="446.1" width="3.3" height="3.3" fill="#ff0000"/>
<rect x="225.8" y="446.1" width="3.3" height="3.3" fill="#ff0000"/>
<rect x="227.8" y="452.4" width="3.3" height="3.3" fill="#ff0000"/>
<rect x="246.9" y="372.5" width="34.6" height="67.5" fill="#fff" stroke="#000" stroke-width="1.5"/>
<line x1="257.60" y1="378.60" x2="257.60" y2="386.30" stroke="#0000e8" stroke-width="1.8" />
<line x1="257.60" y1="390.30" x2="257.60" y2="398.00" stroke="#0000e8" stroke-width="1.8" />
<rect x="269.0" y="387.9" width="3" height="3" fill="#ff0000"/>
<text x="0.00" y="0.00" font-size="11.5" text-anchor="start" fill="#000" transform="translate(267.4,405.1) rotate(90)">Data</text>
<text x="0.00" y="0.00" font-size="11.5" text-anchor="start" fill="#000" transform="translate(253.7,405.1) rotate(90)">Fitting</text>
<text x="0.00" y="0.00" font-size="14.6" text-anchor="middle" fill="#000" transform="translate(38.4,310.0) rotate(-90)">μ (meV)</text>
<text x="0.00" y="0.00" font-size="14.8" text-anchor="middle" fill="#000" transform="translate(37.1,413.8) rotate(-90)">dμ (meV)</text>
<text x="0.00" y="0.00" font-size="14.5" text-anchor="middle" fill="#000" transform="translate(316.5,306) rotate(90)">dG/dμ (mS/eV)</text>
<rect x="434.70" y="262.80" width="139.50" height="93.30" fill="none" stroke="#000" stroke-width="1.6"/>
<line x1="434.70" y1="262.80" x2="434.70" y2="252.30" stroke="#000" stroke-width="1.6" />
<line x1="434.70" y1="356.10" x2="434.70" y2="366.60" stroke="#000" stroke-width="1.6" />
<line x1="469.57" y1="262.80" x2="469.57" y2="252.30" stroke="#000" stroke-width="1.6" />
<line x1="469.57" y1="356.10" x2="469.57" y2="366.60" stroke="#000" stroke-width="1.6" />
<line x1="504.45" y1="262.80" x2="504.45" y2="252.30" stroke="#000" stroke-width="1.6" />
<line x1="504.45" y1="356.10" x2="504.45" y2="366.60" stroke="#000" stroke-width="1.6" />
<line x1="539.33" y1="262.80" x2="539.33" y2="252.30" stroke="#000" stroke-width="1.6" />
<line x1="539.33" y1="356.10" x2="539.33" y2="366.60" stroke="#000" stroke-width="1.6" />
<line x1="574.20" y1="262.80" x2="574.20" y2="252.30" stroke="#000" stroke-width="1.6" />
<line x1="574.20" y1="356.10" x2="574.20" y2="366.60" stroke="#000" stroke-width="1.6" />
<line x1="452.14" y1="262.80" x2="452.14" y2="257.30" stroke="#000" stroke-width="1.6" />
<line x1="452.14" y1="356.10" x2="452.14" y2="361.60" stroke="#000" stroke-width="1.6" />
<line x1="487.01" y1="262.80" x2="487.01" y2="257.30" stroke="#000" stroke-width="1.6" />
<line x1="487.01" y1="356.10" x2="487.01" y2="361.60" stroke="#000" stroke-width="1.6" />
<line x1="521.89" y1="262.80" x2="521.89" y2="257.30" stroke="#000" stroke-width="1.6" />
<line x1="521.89" y1="356.10" x2="521.89" y2="361.60" stroke="#000" stroke-width="1.6" />
<line x1="556.76" y1="262.80" x2="556.76" y2="257.30" stroke="#000" stroke-width="1.6" />
<line x1="556.76" y1="356.10" x2="556.76" y2="361.60" stroke="#000" stroke-width="1.6" />
<line x1="434.70" y1="342.52" x2="424.20" y2="342.52" stroke="#000" stroke-width="1.6" />
<line x1="574.20" y1="342.52" x2="584.70" y2="342.52" stroke="#000" stroke-width="1.6" />
<line x1="434.70" y1="316.08" x2="424.20" y2="316.08" stroke="#000" stroke-width="1.6" />
<line x1="574.20" y1="316.08" x2="584.70" y2="316.08" stroke="#000" stroke-width="1.6" />
<line x1="434.70" y1="289.64" x2="424.20" y2="289.64" stroke="#000" stroke-width="1.6" />
<line x1="574.20" y1="289.64" x2="584.70" y2="289.64" stroke="#000" stroke-width="1.6" />
<line x1="434.70" y1="263.20" x2="424.20" y2="263.20" stroke="#000" stroke-width="1.6" />
<line x1="574.20" y1="263.20" x2="584.70" y2="263.20" stroke="#000" stroke-width="1.6" />
<line x1="434.70" y1="355.74" x2="428.70" y2="355.74" stroke="#000" stroke-width="1.6" />
<line x1="574.20" y1="355.74" x2="580.20" y2="355.74" stroke="#000" stroke-width="1.6" />
<line x1="434.70" y1="329.30" x2="428.70" y2="329.30" stroke="#000" stroke-width="1.6" />
<line x1="574.20" y1="329.30" x2="580.20" y2="329.30" stroke="#000" stroke-width="1.6" />
<line x1="434.70" y1="302.86" x2="428.70" y2="302.86" stroke="#000" stroke-width="1.6" />
<line x1="574.20" y1="302.86" x2="580.20" y2="302.86" stroke="#000" stroke-width="1.6" />
<line x1="434.70" y1="276.42" x2="428.70" y2="276.42" stroke="#000" stroke-width="1.6" />
<line x1="574.20" y1="276.42" x2="580.20" y2="276.42" stroke="#000" stroke-width="1.6" />
<text x="418.50" y="347.82" font-size="15" text-anchor="end" fill="#000" >2.0</text>
<text x="418.50" y="321.38" font-size="15" text-anchor="end" fill="#000" >2.2</text>
<text x="418.50" y="294.94" font-size="15" text-anchor="end" fill="#000" >2.4</text>
<text x="418.50" y="268.50" font-size="15" text-anchor="end" fill="#000" >2.6</text>
<rect x="591.8" y="263.8" width="10" height="84.8" fill="url(#cbd)" stroke="#000" stroke-width="1.3"/>
<line x1="601.80" y1="346.50" x2="611.40" y2="346.50" stroke="#000" stroke-width="1.6" />
<text x="641.50" y="351.80" font-size="15" text-anchor="end" fill="#000" >-0.3</text>
<line x1="601.80" y1="332.97" x2="611.40" y2="332.97" stroke="#000" stroke-width="1.6" />
<text x="641.50" y="338.27" font-size="15" text-anchor="end" fill="#000" >-0.2</text>
<line x1="601.80" y1="319.44" x2="611.40" y2="319.44" stroke="#000" stroke-width="1.6" />
<text x="641.50" y="324.74" font-size="15" text-anchor="end" fill="#000" >-0.1</text>
<line x1="601.80" y1="305.91" x2="611.40" y2="305.91" stroke="#000" stroke-width="1.6" />
<text x="641.50" y="311.21" font-size="15" text-anchor="end" fill="#000" >0.0</text>
<line x1="601.80" y1="292.38" x2="611.40" y2="292.38" stroke="#000" stroke-width="1.6" />
<text x="641.50" y="297.68" font-size="15" text-anchor="end" fill="#000" >0.1</text>
<line x1="601.80" y1="278.85" x2="611.40" y2="278.85" stroke="#000" stroke-width="1.6" />
<text x="641.50" y="284.15" font-size="15" text-anchor="end" fill="#000" >0.2</text>
<line x1="601.80" y1="265.32" x2="611.40" y2="265.32" stroke="#000" stroke-width="1.6" />
<text x="641.50" y="270.62" font-size="15" text-anchor="end" fill="#000" >0.3</text>
<line x1="434.70" y1="356.10" x2="434.70" y2="370.00" stroke="#000" stroke-width="1.6" />
<line x1="574.20" y1="356.10" x2="574.20" y2="370.00" stroke="#000" stroke-width="1.6" />
<rect x="434.70" y="370.00" width="139.50" height="86.60" fill="none" stroke="#000" stroke-width="1.6"/>
<line x1="434.70" y1="370.00" x2="434.70" y2="359.50" stroke="#000" stroke-width="1.6" />
<line x1="434.70" y1="456.60" x2="434.70" y2="467.10" stroke="#000" stroke-width="1.6" />
<line x1="469.57" y1="370.00" x2="469.57" y2="359.50" stroke="#000" stroke-width="1.6" />
<line x1="469.57" y1="456.60" x2="469.57" y2="467.10" stroke="#000" stroke-width="1.6" />
<line x1="504.45" y1="370.00" x2="504.45" y2="359.50" stroke="#000" stroke-width="1.6" />
<line x1="504.45" y1="456.60" x2="504.45" y2="467.10" stroke="#000" stroke-width="1.6" />
<line x1="539.33" y1="370.00" x2="539.33" y2="359.50" stroke="#000" stroke-width="1.6" />
<line x1="539.33" y1="456.60" x2="539.33" y2="467.10" stroke="#000" stroke-width="1.6" />
<line x1="574.20" y1="370.00" x2="574.20" y2="359.50" stroke="#000" stroke-width="1.6" />
<line x1="574.20" y1="456.60" x2="574.20" y2="467.10" stroke="#000" stroke-width="1.6" />
<line x1="452.14" y1="370.00" x2="452.14" y2="364.50" stroke="#000" stroke-width="1.6" />
<line x1="452.14" y1="456.60" x2="452.14" y2="462.10" stroke="#000" stroke-width="1.6" />
<line x1="487.01" y1="370.00" x2="487.01" y2="364.50" stroke="#000" stroke-width="1.6" />
<line x1="487.01" y1="456.60" x2="487.01" y2="462.10" stroke="#000" stroke-width="1.6" />
<line x1="521.89" y1="370.00" x2="521.89" y2="364.50" stroke="#000" stroke-width="1.6" />
<line x1="521.89" y1="456.60" x2="521.89" y2="462.10" stroke="#000" stroke-width="1.6" />
<line x1="556.76" y1="370.00" x2="556.76" y2="364.50" stroke="#000" stroke-width="1.6" />
<line x1="556.76" y1="456.60" x2="556.76" y2="462.10" stroke="#000" stroke-width="1.6" />
<line x1="434.70" y1="438.80" x2="424.20" y2="438.80" stroke="#000" stroke-width="1.6" />
<line x1="574.20" y1="438.80" x2="584.70" y2="438.80" stroke="#000" stroke-width="1.6" />
<line x1="434.70" y1="413.80" x2="424.20" y2="413.80" stroke="#000" stroke-width="1.6" />
<line x1="574.20" y1="413.80" x2="584.70" y2="413.80" stroke="#000" stroke-width="1.6" />
<line x1="434.70" y1="388.80" x2="424.20" y2="388.80" stroke="#000" stroke-width="1.6" />
<line x1="574.20" y1="388.80" x2="584.70" y2="388.80" stroke="#000" stroke-width="1.6" />
<line x1="434.70" y1="451.30" x2="429.20" y2="451.30" stroke="#000" stroke-width="1.6" />
<line x1="574.20" y1="451.30" x2="580.20" y2="451.30" stroke="#000" stroke-width="1.6" />
<line x1="434.70" y1="426.30" x2="429.20" y2="426.30" stroke="#000" stroke-width="1.6" />
<line x1="574.20" y1="426.30" x2="580.20" y2="426.30" stroke="#000" stroke-width="1.6" />
<line x1="434.70" y1="401.30" x2="429.20" y2="401.30" stroke="#000" stroke-width="1.6" />
<line x1="574.20" y1="401.30" x2="580.20" y2="401.30" stroke="#000" stroke-width="1.6" />
<line x1="434.70" y1="376.30" x2="429.20" y2="376.30" stroke="#000" stroke-width="1.6" />
<line x1="574.20" y1="376.30" x2="580.20" y2="376.30" stroke="#000" stroke-width="1.6" />
<text x="419.00" y="444.10" font-size="15" text-anchor="end" fill="#000" >-0.2</text>
<text x="419.00" y="419.10" font-size="15" text-anchor="end" fill="#000" >0.0</text>
<text x="419.00" y="394.10" font-size="15" text-anchor="end" fill="#000" >0.2</text>
<text x="434.70" y="487.60" font-size="15" text-anchor="middle" fill="#000" >-8</text>
<text x="469.57" y="487.60" font-size="15" text-anchor="middle" fill="#000" >-4</text>
<text x="504.45" y="487.60" font-size="15" text-anchor="middle" fill="#000" >0</text>
<text x="539.33" y="487.60" font-size="15" text-anchor="middle" fill="#000" >4</text>
<text x="574.20" y="487.60" font-size="15" text-anchor="middle" fill="#000" >8</text>
<text x="504.50" y="515.80" font-size="15" text-anchor="middle" fill="#000" >B (T)</text>
<line x1="434.70" y1="455.50" x2="574.20" y2="371.70" stroke="#0000e8" stroke-width="1.9" stroke-dasharray="8 3" stroke-dashoffset="6.5"/>
<line x1="434.70" y1="434.10" x2="574.20" y2="380.80" stroke="#0000e8" stroke-width="1.9" stroke-dasharray="8 3" stroke-dashoffset="6.5"/>
<line x1="434.70" y1="445.90" x2="574.20" y2="392.50" stroke="#0000e8" stroke-width="1.9" stroke-dasharray="8 3" stroke-dashoffset="6.5"/>
<polyline points="434.8,445.3 436.2,444.3 437.6,444.2 439.0,443.4 440.4,442.9 441.8,441.9 443.2,442.1 444.6,440.6 446.0,440.3 447.4,440.0 448.8,439.8 450.2,438.7 451.6,438.8 453.0,438.4 454.4,437.2 455.8,437.2 457.2,436.2 458.6,436.1 460.0,435.3 461.4,435.8 462.8,434.9 464.2,434.9 465.6,434.3 467.0,434.0 468.4,432.9 469.8,432.3 471.2,432.2 472.6,431.1 474.0,430.9 475.4,429.9 476.8,429.3 478.2,429.0 479.6,427.9 481.0,426.8 482.4,426.2 483.8,425.8 485.2,425.1 486.6,424.4 488.0,423.3 489.4,422.7 490.8,421.5 492.2,420.9 493.6,420.2 495.0,418.7 496.4,418.0 497.8,417.3 499.2,416.6 500.6,415.2 502.0,414.7 503.4,413.9 504.8,413.3 506.2,412.0 507.6,411.5 509.0,410.2 510.4,409.7 511.8,408.6 513.2,408.6 514.6,407.3 516.0,406.9 517.4,405.7 518.8,405.4 520.2,404.0 521.6,403.0 523.0,402.4 524.4,401.8 525.8,401.0 527.2,399.8 528.6,398.4 530.0,398.1 531.4,396.9 532.8,396.5 534.2,395.8 535.6,394.5 537.0,393.8 538.4,392.7 539.8,392.7 541.2,391.7 542.6,391.7 544.0,390.9 545.4,390.8 546.8,389.5 548.2,389.1 549.6,389.1 551.0,388.4 552.4,387.9 553.8,387.7 555.2,386.9 556.6,386.8 558.0,386.1 559.4,386.1 560.8,385.4 562.2,384.5 563.6,384.3 565.0,384.4 566.4,383.4 567.8,382.9 569.2,382.7 570.6,382.2 572.0,382.0 573.4,381.5" fill="none" stroke="#ff0000" stroke-width="2.7" stroke-linejoin="round" stroke-linecap="square"/>
<rect x="589.4" y="370.7" width="35.2" height="68.5" fill="#fff" stroke="#000" stroke-width="1.5"/>
<line x1="600.30" y1="377.00" x2="600.30" y2="384.30" stroke="#0000e8" stroke-width="1.8" />
<line x1="600.30" y1="388.60" x2="600.30" y2="396.40" stroke="#0000e8" stroke-width="1.8" />
<rect x="612.0" y="386.4" width="2.6" height="2.6" fill="#ff0000"/>
<text x="0.00" y="0.00" font-size="11.5" text-anchor="start" fill="#000" transform="translate(609.7,403.4) rotate(90)">Data</text>
<text x="0.00" y="0.00" font-size="11.5" text-anchor="start" fill="#000" transform="translate(595.8,403.4) rotate(90)">Fitting</text>
<text x="0.00" y="0.00" font-size="14.6" text-anchor="middle" fill="#000" transform="translate(381.7,309.3) rotate(-90)">μ (meV)</text>
<text x="0.00" y="0.00" font-size="14.5" text-anchor="start" fill="#000" transform="translate(380.0,449.3) rotate(-90)">R<tspan font-size="10" dy="2.7">xy</tspan><tspan font-size="9.8" dy="-10.8" dx="-0.3">anti</tspan><tspan dy="8.3" dx="2.2"> (kΩ)</tspan></text>
<text x="0.00" y="0.00" font-size="14.5" text-anchor="start" fill="#000" transform="translate(657.2,262.8) rotate(90)">R<tspan font-size="10" dy="2.7">xy</tspan><tspan font-size="9.8" dy="-12.8" dx="-0.3">anti</tspan><tspan dy="10.1" dx="2.2"> (kΩ)</tspan></text>
<text x="-1.00" y="264.80" font-size="15.5" text-anchor="start" fill="#000" letter-spacing="-0.3">(c)</text>
<text x="-0.60" y="360.60" font-size="15.5" text-anchor="start" fill="#000" letter-spacing="-0.3">(e)</text>
<text x="348.30" y="264.80" font-size="15.5" text-anchor="start" fill="#000" letter-spacing="-0.3">(d)</text>
<text x="348.30" y="360.60" font-size="15.5" text-anchor="start" fill="#000" letter-spacing="-0.3">(f)</text>
<g id="diag">
<line x1="113" y1="106.3" x2="211.5" y2="106.3" stroke="#0000ff" stroke-width="2.4" stroke-dasharray="4 2.1"/>
<line x1="162.2" y1="57" x2="162.2" y2="155" stroke="#0000ff" stroke-width="2.4" stroke-dasharray="4 2.1"/>
<path d="M104.2,106.3 L114,101.0 L113.4,106.3 L114,111.6 Z" fill="#0000ff"/>
<path d="M220.4,106.3 L210.6,101.0 L211.2,106.3 L210.6,111.6 Z" fill="#0000ff"/>
<path d="M162.2,48.3 L157.1,57.8 L162.2,57.2 L167.29999999999998,57.8 Z" fill="#0000ff"/>
<path d="M162.2,164.4 L157.1,154.9 L162.2,155.5 L167.29999999999998,154.9 Z" fill="#0000ff"/>
<path d="M179.96,105.06 A17.8,17.8 0 0 0 172.15,91.54" fill="none" stroke="#0000ff" stroke-width="1.5"/>
<path d="M168.78,90.74 L175.47,90.17 L173.11,94.80 Z" fill="#0000ff"/>
<text x="179.5" y="97.2" font-size="13.4" fill="#0000ff" stroke="#0000ff" stroke-width="0.1" textLength="19.2" lengthAdjust="spacingAndGlyphs">65°</text>
<text x="216.6" y="100.8" font-size="9.8" fill="#0000ff" stroke="#0000ff" stroke-width="0.12" textLength="30.2" lengthAdjust="spacingAndGlyphs">X [100]</text>
<text x="0" y="0" font-size="10" fill="#0000ff" stroke="#0000ff" stroke-width="0.15" transform="translate(164.9,47.4) rotate(-90)" textLength="30.5" lengthAdjust="spacingAndGlyphs">Y [010]</text>
<path d="M90.3,23.4 L124.5,74.5 C128.5,81 131,87.5 127.5,90.3 C122,93.5 108,92.5 90.3,85" fill="none" stroke="#00a800" stroke-width="2.5" stroke-linecap="butt"/>
<path d="M122.8,18.4 C124.5,28 128,40 131,48 C135,60 143,69 150,69.3 C156,69.5 156.5,60 153.6,53 C150.5,46 144,42 138.4,41.8 C132,41.6 126,40 120.7,36.7" fill="none" stroke="#00a800" stroke-width="2.5" stroke-linecap="butt"/>
<path d="M189,18.4 C180,32 170,48 169.7,62 C169.5,72 175,77.5 183,77.3 C195,77 215,66 228.1,61.6" fill="none" stroke="#00a800" stroke-width="2.5" stroke-linecap="butt"/>
<path d="M228.1,114.4 C215,112.5 200,112 196,119 C192,127 198,135 206,139.5 C214,144 222,148 228.1,150.6" fill="none" stroke="#00a800" stroke-width="2.5" stroke-linecap="butt"/>
<path d="M196.1,187.1 C196,178 195.5,165 192,154 C189,145 184,139 178.8,139.2 C173,139.5 170,146 170.6,152 C171.5,162 180,170 190,172 C195,173 199,173.2 202.6,173.4" fill="none" stroke="#00a800" stroke-width="2.5" stroke-linecap="butt"/>
<path d="M90.5,145.5 C105,148 125,138 137,135 C145,133 151,137 151.2,147 C151.5,160 143,175 129.8,187.1" fill="none" stroke="#00a800" stroke-width="2.5" stroke-linecap="butt"/>
<path d="M181.6,63.6 L141.9,148.1" fill="none" stroke="#00a800" stroke-width="2.5" stroke-linecap="butt"/>
<path d="M117.3,85.4 L205.6,126.9" fill="none" stroke="#00a800" stroke-width="2.5" stroke-linecap="butt"/>
<line x1="139.70" y1="93.24" x2="137.50" y2="97.96" stroke="#fff" stroke-width="1.1"/>
<line x1="185.50" y1="114.54" x2="183.30" y2="119.26" stroke="#fff" stroke-width="1.1"/>
<line x1="169.34" y1="83.20" x2="174.06" y2="85.40" stroke="#fff" stroke-width="1.1"/>
<line x1="149.14" y1="126.20" x2="153.86" y2="128.40" stroke="#fff" stroke-width="1.1"/>
<rect x="73.9" y="15.6" width="16.4" height="13.6" fill="#ffc800" stroke="#6a6045" stroke-width="0.9"/>
<rect x="114.6" y="5.0" width="16.4" height="13.6" fill="#ffc800" stroke="#6a6045" stroke-width="0.9"/>
<rect x="184.1" y="5.0" width="16.4" height="13.6" fill="#ffc800" stroke="#6a6045" stroke-width="0.9"/>
<rect x="228.2" y="53.6" width="16.4" height="13.6" fill="#ffc800" stroke="#6a6045" stroke-width="0.9"/>
<rect x="228.2" y="108.3" width="16.4" height="13.6" fill="#ffc800" stroke="#6a6045" stroke-width="0.9"/>
<rect x="228.2" y="144.6" width="16.4" height="13.6" fill="#ffc800" stroke="#6a6045" stroke-width="0.9"/>
<rect x="187.2" y="187.0" width="16.4" height="13.6" fill="#ffc800" stroke="#6a6045" stroke-width="0.9"/>
<rect x="115.5" y="187.0" width="16.4" height="13.6" fill="#ffc800" stroke="#6a6045" stroke-width="0.9"/>
<rect x="73.9" y="137.0" width="16.4" height="13.6" fill="#ffc800" stroke="#6a6045" stroke-width="0.9"/>
<rect x="73.9" y="77.4" width="16.4" height="13.6" fill="#ffc800" stroke="#6a6045" stroke-width="0.9"/>
</g>
<use href="#diag" transform="translate(342,0)"/>
<text x="-0.8" y="35.1" font-size="15.4" letter-spacing="-0.3">(a)</text>
<text x="348.6" y="35" font-size="15.4" letter-spacing="0">(b)</text>
<text x="204.8" y="17.3" font-size="14"><tspan>V</tspan><tspan font-size="9.5" dy="2.8">L-</tspan></text>
<text x="251.4" y="66.8" font-size="16.5"><tspan font-family="&apos;Liberation Serif&apos;, serif">I</tspan><tspan font-size="10" dy="2.6">-</tspan></text>
<text x="46.6" y="147.3" font-size="14"><tspan>V</tspan><tspan font-size="9.5" dy="2.8">L+</tspan></text>
<text x="115.0" y="216.7" font-size="16.5"><tspan font-family="&apos;Liberation Serif&apos;, serif">I</tspan><tspan font-size="10" dy="2.2">+</tspan></text>
<text x="184.0" y="215.9" font-size="14"><tspan>V</tspan><tspan font-size="9.5" dy="3.2">sg1</tspan></text>
<text x="393.0" y="27.5" font-size="14"><tspan>V</tspan><tspan font-size="9.5" dy="2.8">H+</tspan></text>
<text x="593.4" y="66.8" font-size="16.5"><tspan font-family="&apos;Liberation Serif&apos;, serif">I</tspan><tspan font-size="10" dy="2.6">-</tspan></text>
<text x="590.2" y="154.7" font-size="14"><tspan>V</tspan><tspan font-size="9.5" dy="2.8">H-</tspan></text>
<text x="457.0" y="216.7" font-size="16.5"><tspan font-family="&apos;Liberation Serif&apos;, serif">I</tspan><tspan font-size="10" dy="2.2">+</tspan></text>
<text x="526.0" y="215.9" font-size="14"><tspan>V</tspan><tspan font-size="9.5" dy="3.2">sg1</tspan></text>
</svg></div></body></html>
